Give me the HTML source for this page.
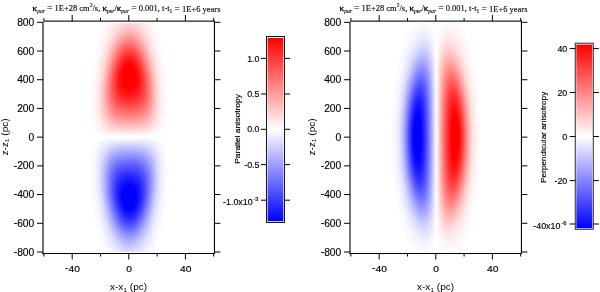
<!DOCTYPE html>
<html><head><meta charset="utf-8"><style>
html,body{margin:0;padding:0;background:#fff;width:600px;height:292px;overflow:hidden}
.hm{position:absolute;overflow:hidden;background:#fff;filter:url(#q) blur(0.45px)}
.hm i{position:absolute;left:0;width:100%;display:block}
svg{position:absolute;left:0;top:0;will-change:transform}
.tk{font-family:"Liberation Sans",sans-serif;font-size:10.3px;fill:#000;stroke:#000;stroke-width:0.15px}
.al{font-family:"Liberation Sans",sans-serif;font-size:10px;fill:#000}
.ct{font-family:"Liberation Sans",sans-serif;font-size:8.9px;fill:#000;stroke:#000;stroke-width:0.15px}
.cl{font-family:"Liberation Sans",sans-serif;font-size:7.5px;fill:#000;stroke:#000;stroke-width:0.15px}
.ti{font-family:"Liberation Serif",serif;font-size:8.48px;fill:#000;stroke:#000;stroke-width:0.12px}
.kp{stroke:#000;stroke-width:0.3px}
</style></head><body>
<svg width="0" height="0" style="position:absolute"><filter id="q" x="0" y="0" width="1" height="1" color-interpolation-filters="sRGB"><feComponentTransfer><feFuncR type="discrete" tableValues="0 0.02 0.04 0.06 0.08 0.1 0.12 0.14 0.16 0.18 0.2 0.22 0.24 0.26 0.28 0.3 0.32 0.34 0.36 0.38 0.4 0.42 0.44 0.46 0.48 0.5 0.52 0.54 0.56 0.58 0.6 0.62 0.64 0.66 0.68 0.7 0.72 0.74 0.76 0.78 0.8 0.82 0.84 0.86 0.88 0.9 0.92 0.94 0.96 0.98 1"/><feFuncG type="discrete" tableValues="0 0.02 0.04 0.06 0.08 0.1 0.12 0.14 0.16 0.18 0.2 0.22 0.24 0.26 0.28 0.3 0.32 0.34 0.36 0.38 0.4 0.42 0.44 0.46 0.48 0.5 0.52 0.54 0.56 0.58 0.6 0.62 0.64 0.66 0.68 0.7 0.72 0.74 0.76 0.78 0.8 0.82 0.84 0.86 0.88 0.9 0.92 0.94 0.96 0.98 1"/><feFuncB type="discrete" tableValues="0 0.02 0.04 0.06 0.08 0.1 0.12 0.14 0.16 0.18 0.2 0.22 0.24 0.26 0.28 0.3 0.32 0.34 0.36 0.38 0.4 0.42 0.44 0.46 0.48 0.5 0.52 0.54 0.56 0.58 0.6 0.62 0.64 0.66 0.68 0.7 0.72 0.74 0.76 0.78 0.8 0.82 0.84 0.86 0.88 0.9 0.92 0.94 0.96 0.98 1"/></feComponentTransfer></filter></svg>
<div class="hm" style="left:43.60px;top:23.00px;width:169.80px;height:229.00px"><i style="top:0.00px;height:1.00px;background:linear-gradient(90deg,#ffffff 0.0px,#fffdfd 56.3px,#fff3f3 66.0px,#ffd5d5 81.3px,#ffd3d3 87.5px,#ffe0e0 95.0px,#fff6f6 106.3px,#fffefe 116.8px,#ffffff 169.8px)"></i><i style="top:1.00px;height:1.00px;background:linear-gradient(90deg,#ffffff 0.0px,#fffdfd 56.0px,#fff3f3 65.5px,#ffd2d2 81.3px,#ffd0d0 87.3px,#ffdbdb 94.3px,#fff5f5 106.0px,#fffefe 116.0px,#ffffff 169.8px)"></i><i style="top:2.00px;height:1.00px;background:linear-gradient(90deg,#ffffff 0.0px,#fffdfd 55.5px,#fff4f4 64.8px,#ffcfcf 81.3px,#ffcccc 87.0px,#ffd8d8 93.8px,#fff4f4 105.8px,#fffdfd 115.3px,#ffffff 169.8px)"></i><i style="top:3.00px;height:1.00px;background:linear-gradient(90deg,#ffffff 0.0px,#fffdfd 55.3px,#fff4f4 64.3px,#ffdbdb 74.3px,#ffcbcb 81.8px,#ffc9c9 87.3px,#ffd5d5 93.8px,#fff3f3 105.5px,#fffdfd 114.5px,#ffffff 153.5px,#ffffff 169.8px)"></i><i style="top:4.00px;height:1.00px;background:linear-gradient(90deg,#ffffff 0.0px,#fffdfd 55.0px,#fff4f4 63.8px,#ffdede 72.5px,#ffc9c9 80.8px,#ffc5c5 86.3px,#ffcece 92.3px,#fff2f2 105.5px,#fffcfc 114.0px,#ffffff 140.3px,#ffffff 169.8px)"></i><i style="top:5.00px;height:1.00px;background:linear-gradient(90deg,#ffffff 0.0px,#fffdfd 54.5px,#fff4f4 63.3px,#ffdfdf 71.5px,#ffc6c6 80.3px,#ffc1c1 85.5px,#ffc8c8 91.0px,#fff2f2 105.8px,#fffcfc 114.0px,#ffffff 137.3px,#ffffff 169.8px)"></i><i style="top:6.00px;height:1.00px;background:linear-gradient(90deg,#ffffff 0.0px,#fffdfd 54.3px,#fff4f4 62.8px,#ffe0e0 70.5px,#ffc3c3 80.0px,#ffbdbd 85.3px,#ffc3c3 90.5px,#fff1f1 105.8px,#fffcfc 113.8px,#ffffff 133.3px,#ffffff 169.8px)"></i><i style="top:7.00px;height:1.00px;background:linear-gradient(90deg,#ffffff 0.0px,#fffdfd 54.0px,#fff4f4 62.5px,#ffe0e0 70.0px,#ffbfbf 79.8px,#ffb8b8 85.0px,#ffbebe 90.0px,#ffd6d6 97.8px,#fff0f0 106.0px,#fffbfb 113.8px,#ffffff 131.5px,#ffffff 169.8px)"></i><i style="top:8.00px;height:1.00px;background:linear-gradient(90deg,#ffffff 0.0px,#fffdfd 53.8px,#fff4f4 62.0px,#ffe1e1 69.0px,#ffbcbc 79.5px,#ffb4b4 84.5px,#ffb9b9 89.5px,#ffcece 96.3px,#ffeded 105.3px,#fffafa 112.5px,#ffffff 125.5px,#ffffff 169.8px)"></i><i style="top:9.00px;height:1.00px;background:linear-gradient(90deg,#ffffff 0.0px,#fffdfd 53.5px,#fff4f4 61.8px,#ffe1e1 68.5px,#ffb8b8 79.5px,#ffb0b0 84.5px,#ffb4b4 89.3px,#ffc8c8 95.5px,#ffebeb 104.8px,#fff9f9 111.8px,#ffffff 122.8px,#ffffff 169.8px)"></i><i style="top:10.00px;height:1.00px;background:linear-gradient(90deg,#ffffff 0.0px,#fffdfd 53.3px,#fff4f4 61.3px,#ffe2e2 67.8px,#ffb4b4 79.3px,#ffabab 84.0px,#ffaeae 88.5px,#ffbebe 94.0px,#ffe9e9 104.8px,#fff8f8 111.5px,#fffefe 121.8px,#ffffff 169.8px)"></i><i style="top:11.00px;height:1.00px;background:linear-gradient(90deg,#ffffff 0.0px,#fffdfd 52.8px,#fff4f4 60.8px,#ffe3e3 67.0px,#ffb0b0 79.3px,#ffa6a6 84.0px,#ffa9a9 88.5px,#ffb9b9 93.8px,#ffe7e7 104.5px,#fff7f7 111.0px,#fffefe 120.3px,#ffffff 169.8px)"></i><i style="top:12.00px;height:1.00px;background:linear-gradient(90deg,#ffffff 0.0px,#fffdfd 52.5px,#fff4f4 60.5px,#ffe2e2 66.8px,#ffabab 79.3px,#ffa1a1 83.8px,#ffa3a3 88.0px,#ffb2b2 93.0px,#ffe6e6 104.8px,#fff6f6 111.0px,#fffefe 119.8px,#ffffff 169.8px)"></i><i style="top:13.00px;height:1.00px;background:linear-gradient(90deg,#ffffff 0.0px,#fffdfd 52.3px,#fff5f5 60.0px,#ffe3e3 66.0px,#ffa7a7 79.0px,#ff9c9c 83.5px,#ff9e9e 87.8px,#ffacac 92.5px,#ffe5e5 104.8px,#fff5f5 110.8px,#fffdfd 119.0px,#ffffff 169.8px)"></i><i style="top:14.00px;height:1.00px;background:linear-gradient(90deg,#ffffff 0.0px,#fffdfd 52.0px,#fff4f4 59.8px,#ffe2e2 65.8px,#ffb7b7 74.5px,#ff9f9f 80.0px,#ff9696 84.3px,#ff9a9a 88.5px,#ffaaaa 93.3px,#ffe2e2 104.5px,#fff4f4 110.3px,#fffdfd 117.8px,#ffffff 155.5px,#ffffff 169.8px)"></i><i style="top:15.00px;height:1.00px;background:linear-gradient(90deg,#ffffff 0.0px,#fffdfd 51.8px,#fff4f4 59.5px,#ffe3e3 65.3px,#ffbebe 72.5px,#ff9d9d 79.0px,#ff9292 83.3px,#ff9292 87.3px,#ff9f9f 91.8px,#ffc9c9 99.8px,#ffe6e6 106.0px,#fff6f6 111.8px,#fffefe 120.0px,#ffffff 169.8px)"></i><i style="top:16.00px;height:1.00px;background:linear-gradient(90deg,#ffffff 0.0px,#fffdfd 51.5px,#fff5f5 59.0px,#ffe3e3 64.8px,#ffc2c2 71.3px,#ff9a9a 78.5px,#ff8d8d 82.8px,#ff8c8c 86.8px,#ff9797 91.0px,#ffb5b5 97.0px,#ffe0e0 104.8px,#fff2f2 110.3px,#fffcfc 117.3px,#ffffff 139.5px,#ffffff 169.8px)"></i><i style="top:17.00px;height:1.00px;background:linear-gradient(90deg,#ffffff 0.0px,#fffdfd 51.3px,#fff5f5 58.8px,#ffe4e4 64.3px,#ffc4c4 70.3px,#ff9696 78.3px,#ff8888 82.5px,#ff8686 86.5px,#ff8f8f 90.5px,#ffaaaa 95.8px,#ffdbdb 104.3px,#fff0f0 109.8px,#fffbfb 116.3px,#ffffff 131.3px,#ffffff 169.8px)"></i><i style="top:18.00px;height:1.00px;background:linear-gradient(90deg,#ffffff 0.0px,#fffdfd 51.0px,#fff4f4 58.5px,#ffe3e3 64.0px,#ffc4c4 69.8px,#ff9292 78.0px,#ff8383 82.3px,#ff8080 86.0px,#ff8888 90.0px,#ff9f9f 94.8px,#ffd9d9 104.3px,#ffeeee 109.5px,#fffafa 115.8px,#ffffff 128.5px,#ffffff 169.8px)"></i><i style="top:19.00px;height:1.00px;background:linear-gradient(90deg,#ffffff 0.0px,#fffdfd 50.8px,#fff5f5 58.0px,#ffe5e5 63.3px,#ffc8c8 68.8px,#ff8e8e 77.8px,#ff7d7d 82.0px,#ff7979 85.8px,#ff8181 89.5px,#ff9696 94.0px,#ffd8d8 104.5px,#ffeeee 109.8px,#fffafa 115.8px,#ffffff 127.8px,#ffffff 169.8px)"></i><i style="top:20.00px;height:1.00px;background:linear-gradient(90deg,#ffffff 0.0px,#fffdfd 50.8px,#fff4f4 58.0px,#ffe3e3 63.3px,#ffc6c6 68.5px,#ff8a8a 77.5px,#ff7878 81.8px,#ff7373 85.5px,#ff7a7a 89.3px,#ff8e8e 93.5px,#ffd6d6 104.5px,#ffeded 109.5px,#fff9f9 115.3px,#ffffff 125.8px,#ffffff 169.8px)"></i><i style="top:21.00px;height:1.00px;background:linear-gradient(90deg,#ffffff 0.0px,#fffdfd 50.5px,#fff4f4 57.8px,#ffe3e3 63.0px,#ffc5c5 68.3px,#ff8585 77.5px,#ff7373 81.5px,#ff6d6d 85.3px,#ff7373 89.0px,#ff8787 93.3px,#ffd6d6 104.8px,#ffecec 109.8px,#fff9f9 115.5px,#ffffff 125.8px,#ffffff 169.8px)"></i><i style="top:22.00px;height:1.00px;background:linear-gradient(90deg,#ffffff 0.0px,#fffdfd 50.3px,#fff5f5 57.3px,#ffe5e5 62.3px,#ffc9c9 67.3px,#ff8181 77.3px,#ff6e6e 81.3px,#ff6767 85.0px,#ff6d6d 88.8px,#ff7f7f 92.8px,#ffadad 99.3px,#ffd6d6 105.3px,#ffecec 110.0px,#fff9f9 115.8px,#ffffff 126.0px,#ffffff 169.8px)"></i><i style="top:23.00px;height:1.00px;background:linear-gradient(90deg,#ffffff 0.0px,#fffdfd 50.0px,#fff5f5 57.0px,#ffe4e4 62.0px,#ffcaca 66.8px,#ff7b7b 77.3px,#ff6868 81.3px,#ff6161 85.0px,#ff6666 88.5px,#ff7878 92.5px,#ffa1a1 98.3px,#ffd1d1 104.8px,#ffe9e9 109.5px,#fff7f7 114.8px,#fffefe 123.3px,#ffffff 169.8px)"></i><i style="top:24.00px;height:1.00px;background:linear-gradient(90deg,#ffffff 0.0px,#fffdfd 49.8px,#fff5f5 56.8px,#ffe4e4 61.8px,#ffc9c9 66.5px,#ff7878 77.0px,#ff6363 81.0px,#ff5b5b 84.5px,#ff5f5f 88.0px,#ff6e6e 91.8px,#ff8f8f 96.5px,#ffcdcd 104.5px,#ffe7e7 109.3px,#fff6f6 114.3px,#fffefe 122.0px,#ffffff 169.8px)"></i><i style="top:25.00px;height:1.00px;background:linear-gradient(90deg,#ffffff 0.0px,#fffdfd 49.5px,#fff5f5 56.5px,#ffe4e4 61.5px,#ffc9c9 66.0px,#ff7272 77.0px,#ff5d5d 81.0px,#ff5555 84.5px,#ff5858 88.0px,#ff6868 91.8px,#ff8a8a 96.5px,#ffcbcb 104.5px,#ffe5e5 109.0px,#fff5f5 114.0px,#fffdfd 121.3px,#ffffff 169.8px)"></i><i style="top:26.00px;height:1.00px;background:linear-gradient(90deg,#ffffff 0.0px,#fffdfd 49.5px,#fff5f5 56.3px,#ffe5e5 61.0px,#ffcbcb 65.5px,#ff8e8e 72.8px,#ff6868 77.8px,#ff5555 81.5px,#ff4f4f 85.0px,#ff5454 88.5px,#ff6565 92.3px,#ff8989 97.0px,#ffcaca 104.8px,#ffe4e4 109.3px,#fff4f4 114.0px,#fffdfd 121.0px,#ffffff 169.8px)"></i><i style="top:27.00px;height:1.00px;background:linear-gradient(90deg,#ffffff 0.0px,#fffdfd 49.3px,#fff5f5 56.0px,#ffe5e5 60.8px,#ffcaca 65.3px,#ff9393 71.8px,#ff6565 77.3px,#ff5151 81.0px,#ff4949 84.5px,#ff4c4c 88.0px,#ff5d5d 91.8px,#ff7e7e 96.3px,#ffc7c7 104.8px,#ffe3e3 109.3px,#fff4f4 114.0px,#fffdfd 120.8px,#ffffff 158.5px,#ffffff 169.8px)"></i><i style="top:28.00px;height:1.00px;background:linear-gradient(90deg,#ffffff 0.0px,#fffdfd 49.0px,#fff5f5 55.8px,#ffe5e5 60.5px,#ffcbcb 64.8px,#ff9a9a 70.5px,#ff6565 76.5px,#ff4e4e 80.3px,#ff4444 83.8px,#ff4545 87.3px,#ff5252 90.8px,#ff6c6c 94.8px,#ffc7c7 105.0px,#ffe2e2 109.3px,#fff3f3 113.8px,#fffcfc 120.0px,#ffffff 141.5px,#ffffff 169.8px)"></i><i style="top:29.00px;height:1.00px;background:linear-gradient(90deg,#ffffff 0.0px,#fffdfd 48.8px,#fff5f5 55.5px,#ffe5e5 60.3px,#ffcbcb 64.5px,#ff9a9a 70.0px,#ff6262 76.3px,#ff4a4a 80.0px,#ff3e3e 83.5px,#ff3e3e 87.0px,#ff4b4b 90.5px,#ff6565 94.5px,#ffc6c6 105.3px,#ffe2e2 109.5px,#fff3f3 114.0px,#fffcfc 120.3px,#ffffff 142.3px,#ffffff 169.8px)"></i><i style="top:30.00px;height:1.00px;background:linear-gradient(90deg,#ffffff 0.0px,#fffdfd 48.8px,#fff4f4 55.5px,#ffe4e4 60.0px,#ffcaca 64.3px,#ff9b9b 69.5px,#ff5f5f 76.0px,#ff4545 79.8px,#ff3939 83.3px,#ff3838 86.8px,#ff4444 90.3px,#ff5c5c 94.0px,#ff9191 99.8px,#ffc5c5 105.5px,#ffe2e2 109.8px,#fff3f3 114.3px,#fffcfc 120.5px,#ffffff 143.0px,#ffffff 169.8px)"></i><i style="top:31.00px;height:1.00px;background:linear-gradient(90deg,#ffffff 0.0px,#fffdfd 48.5px,#fff4f4 55.3px,#ffe4e4 59.8px,#ffcccc 63.8px,#ff9f9f 68.8px,#ff5e5e 75.5px,#ff4141 79.5px,#ff3434 83.0px,#ff3232 86.5px,#ff3d3d 90.0px,#ff5555 93.8px,#ff8585 99.0px,#ffc1c1 105.3px,#ffdfdf 109.5px,#fff1f1 113.8px,#fffbfb 119.5px,#ffffff 134.0px,#ffffff 169.8px)"></i><i style="top:32.00px;height:1.00px;background:linear-gradient(90deg,#ffffff 0.0px,#fffdfd 48.3px,#fff4f4 55.0px,#ffe5e5 59.5px,#ffcbcb 63.5px,#ffa0a0 68.3px,#ff5959 75.5px,#ff3d3d 79.3px,#ff2f2f 82.8px,#ff2c2c 86.0px,#ff3535 89.5px,#ff4c4c 93.3px,#ff7474 97.8px,#ffbebe 105.3px,#ffdcdc 109.3px,#ffefef 113.5px,#fffbfb 119.0px,#ffffff 131.0px,#ffffff 169.8px)"></i><i style="top:33.00px;height:1.00px;background:linear-gradient(90deg,#ffffff 0.0px,#fffdfd 48.0px,#fff5f5 54.8px,#ffe5e5 59.3px,#ffcbcb 63.3px,#ff9f9f 68.0px,#ff5656 75.3px,#ff3a3a 79.0px,#ff2a2a 82.5px,#ff2727 85.8px,#ff2f2f 89.3px,#ff4343 92.8px,#ff6868 97.0px,#ffbcbc 105.3px,#ffdada 109.3px,#ffefef 113.5px,#fffafa 118.8px,#ffffff 129.8px,#ffffff 169.8px)"></i><i style="top:34.00px;height:1.00px;background:linear-gradient(90deg,#ffffff 0.0px,#fffdfd 48.0px,#fff5f5 54.5px,#ffe5e5 59.0px,#ffcbcb 63.0px,#ffa1a1 67.5px,#ff5353 75.0px,#ff3636 78.8px,#ff2626 82.3px,#ff2222 85.5px,#ff2929 89.0px,#ff3c3c 92.5px,#ff5e5e 96.5px,#ffbbbb 105.5px,#ffdada 109.5px,#ffeeee 113.5px,#fffafa 118.8px,#ffffff 129.3px,#ffffff 169.8px)"></i><i style="top:35.00px;height:1.00px;background:linear-gradient(90deg,#ffffff 0.0px,#fffdfd 47.8px,#fff5f5 54.3px,#ffe5e5 58.8px,#ffcbcb 62.8px,#ffa0a0 67.3px,#ff5151 74.8px,#ff3333 78.5px,#ff2222 82.0px,#ff1d1d 85.3px,#ff2323 88.8px,#ff3535 92.3px,#ff5757 96.3px,#ffbbbb 105.8px,#ffdada 109.8px,#ffeeee 113.8px,#fffafa 119.0px,#ffffff 129.5px,#ffffff 169.8px)"></i><i style="top:36.00px;height:1.00px;background:linear-gradient(90deg,#ffffff 0.0px,#fffdfd 47.8px,#fff4f4 54.3px,#ffe5e5 58.5px,#ffcdcd 62.3px,#ffa5a5 66.5px,#ff4f4f 74.5px,#ff3030 78.3px,#ff1e1e 81.8px,#ff1818 85.3px,#ff1e1e 88.8px,#ff3131 92.3px,#ff5252 96.3px,#ffbbbb 106.0px,#ffdada 110.0px,#ffeeee 114.0px,#fffafa 119.3px,#ffffff 130.0px,#ffffff 169.8px)"></i><i style="top:37.00px;height:1.00px;background:linear-gradient(90deg,#ffffff 0.0px,#fffdfd 47.5px,#fff4f4 54.0px,#ffe5e5 58.3px,#ffcdcd 62.0px,#ffa5a5 66.3px,#ff4a4a 74.5px,#ff2b2b 78.3px,#ff1919 81.8px,#ff1414 85.3px,#ff1a1a 88.8px,#ff2c2c 92.3px,#ff4c4c 96.0px,#ffbbbb 106.3px,#ffd9d9 110.0px,#ffeded 114.0px,#fff9f9 119.0px,#ffffff 128.8px,#ffffff 169.8px)"></i><i style="top:38.00px;height:1.00px;background:linear-gradient(90deg,#ffffff 0.0px,#fffdfd 47.3px,#fff5f5 53.8px,#ffe5e5 58.0px,#ffcdcd 61.8px,#ffa7a7 65.8px,#ff4848 74.3px,#ff2929 78.0px,#ff1616 81.5px,#ff0f0f 85.0px,#ff1515 88.5px,#ff2626 92.0px,#ff4545 95.8px,#ff8484 101.5px,#ffbdbd 106.8px,#ffdbdb 110.5px,#ffeeee 114.5px,#fffafa 119.8px,#ffffff 130.8px,#ffffff 169.8px)"></i><i style="top:39.00px;height:1.00px;background:linear-gradient(90deg,#ffffff 0.0px,#fffdfd 47.3px,#fff5f5 53.5px,#ffe6e6 57.8px,#ffcdcd 61.5px,#ffa7a7 65.5px,#ff4747 74.0px,#ff2626 77.8px,#ff1313 81.3px,#ff0b0b 84.8px,#ff1010 88.3px,#ff2020 91.8px,#ff3e3e 95.5px,#ff7575 100.5px,#ffb6b6 106.3px,#ffd6d6 110.0px,#ffebeb 113.8px,#fff8f8 118.5px,#fffefe 126.8px,#ffffff 169.8px)"></i><i style="top:40.00px;height:1.00px;background:linear-gradient(90deg,#ffffff 0.0px,#fffdfd 47.0px,#fff5f5 53.3px,#ffe6e6 57.5px,#ffcdcd 61.3px,#ffa7a7 65.3px,#ff4545 73.8px,#ff2424 77.5px,#ff1010 81.0px,#ff0808 84.5px,#ff0b0b 88.0px,#ff1b1b 91.5px,#ff3838 95.3px,#ff6b6b 100.0px,#ffb6b6 106.5px,#ffd6d6 110.3px,#ffebeb 114.0px,#fff8f8 118.8px,#fffefe 127.3px,#ffffff 169.8px)"></i><i style="top:41.00px;height:1.00px;background:linear-gradient(90deg,#ffffff 0.0px,#fffdfd 47.0px,#fff5f5 53.3px,#ffe5e5 57.5px,#ffcccc 61.3px,#ffa4a4 65.3px,#ff4444 73.5px,#ff2222 77.3px,#ff0e0e 80.8px,#ff0505 84.3px,#ff0707 87.8px,#ff1616 91.3px,#ff3030 94.8px,#ff5c5c 99.0px,#ffb3b3 106.5px,#ffd5d5 110.3px,#ffeaea 114.0px,#fff8f8 118.5px,#fffefe 126.3px,#ffffff 169.8px)"></i><i style="top:42.00px;height:1.00px;background:linear-gradient(90deg,#ffffff 0.0px,#fffdfd 46.8px,#fff5f5 53.0px,#ffe5e5 57.3px,#ffcccc 61.0px,#ffa4a4 65.0px,#ff4040 73.5px,#ff1f1f 77.3px,#ff0a0a 80.8px,#ff0101 84.3px,#ff0404 87.8px,#ff1212 91.3px,#ff2c2c 94.8px,#ff5858 99.0px,#ffb4b4 106.8px,#ffd5d5 110.5px,#ffebeb 114.3px,#fff8f8 119.0px,#fffefe 127.3px,#ffffff 169.8px)"></i><i style="top:43.00px;height:1.00px;background:linear-gradient(90deg,#ffffff 0.0px,#fffdfd 46.8px,#fff4f4 53.0px,#ffe4e4 57.3px,#ffcdcd 60.8px,#ffa7a7 64.5px,#ff4040 73.3px,#ff1d1d 77.0px,#ff0808 80.5px,#ff0000 83.5px,#ff0202 88.0px,#ff1111 91.5px,#ff2b2b 95.0px,#ff5858 99.3px,#ffb1b1 106.8px,#ffd4d4 110.5px,#ffeaea 114.3px,#fff8f8 118.8px,#fffefe 126.5px,#ffffff 169.8px)"></i><i style="top:44.00px;height:1.00px;background:linear-gradient(90deg,#ffffff 0.0px,#fffdfd 46.5px,#fff5f5 52.8px,#ffe5e5 57.0px,#ffcdcd 60.5px,#ffa8a8 64.3px,#ff3f3f 73.0px,#ff1c1c 76.8px,#ff0707 80.3px,#ff0000 82.5px,#ff0101 88.8px,#ff1212 92.3px,#ff3131 96.0px,#ff6363 100.5px,#ffb2b2 107.0px,#ffd4d4 110.8px,#ffeaea 114.5px,#fff8f8 119.0px,#fffefe 126.8px,#ffffff 169.8px)"></i><i style="top:45.00px;height:1.00px;background:linear-gradient(90deg,#ffffff 0.0px,#fffdfd 46.5px,#fff4f4 52.8px,#ffe5e5 56.8px,#ffcece 60.3px,#ffa8a8 64.0px,#ff3e3e 72.8px,#ff1b1b 76.5px,#ff0505 80.0px,#ff0000 81.8px,#ff0202 89.5px,#ff1515 93.0px,#ff3636 96.8px,#ff7070 101.8px,#ffb2b2 107.3px,#ffd5d5 111.0px,#ffebeb 114.8px,#fff8f8 119.3px,#fffefe 127.3px,#ffffff 169.8px)"></i><i style="top:46.00px;height:1.00px;background:linear-gradient(90deg,#ffffff 0.0px,#fffdfd 46.3px,#fff5f5 52.5px,#ffe6e6 56.5px,#ffcece 60.0px,#ffa9a9 63.8px,#ff3c3c 72.8px,#ff1919 76.5px,#ff0303 80.0px,#ff0000 81.5px,#ff0101 90.0px,#ff1616 93.5px,#ff3838 97.3px,#ff7676 102.5px,#ffb6b6 107.8px,#ffd5d5 111.3px,#ffebeb 115.0px,#fff8f8 119.5px,#fffefe 127.5px,#ffffff 169.8px)"></i><i style="top:47.00px;height:1.00px;background:linear-gradient(90deg,#ffffff 0.0px,#fffdfd 46.3px,#fff5f5 52.3px,#ffe6e6 56.3px,#ffcfcf 59.8px,#ffaaaa 63.5px,#ff3c3c 72.5px,#ff1818 76.3px,#ff0202 79.8px,#ff0000 81.5px,#ff0202 90.5px,#ff1717 94.0px,#ff3a3a 97.8px,#ff8181 103.5px,#ffb9b9 108.3px,#ffd8d8 111.8px,#ffeded 115.5px,#fff9f9 120.3px,#ffffff 129.3px,#ffffff 169.8px)"></i><i style="top:48.00px;height:1.00px;background:linear-gradient(90deg,#ffffff 0.0px,#fffdfd 46.0px,#fff5f5 52.3px,#ffe5e5 56.3px,#ffcdcd 59.8px,#ffa7a7 63.5px,#ff3c3c 72.3px,#ff1818 76.0px,#ff0202 79.5px,#ff0101 90.8px,#ff1717 94.3px,#ff3b3b 98.0px,#ff8181 103.8px,#ffbaba 108.5px,#ffd8d8 112.0px,#ffeded 115.8px,#fff9f9 120.5px,#ffffff 129.8px,#ffffff 169.8px)"></i><i style="top:49.00px;height:1.00px;background:linear-gradient(90deg,#ffffff 0.0px,#fffdfd 46.0px,#fff5f5 52.0px,#ffe6e6 56.0px,#ffcece 59.5px,#ffa8a8 63.3px,#ff3c3c 72.0px,#ff1818 75.8px,#ff0101 79.3px,#ff0101 91.0px,#ff1717 94.5px,#ff3b3b 98.3px,#ff8585 104.3px,#ffbaba 108.8px,#ffd9d9 112.3px,#ffeded 116.0px,#fffafa 120.8px,#ffffff 130.3px,#ffffff 169.8px)"></i><i style="top:50.00px;height:1.00px;background:linear-gradient(90deg,#ffffff 0.0px,#fffdfd 45.8px,#fff5f5 52.0px,#ffe5e5 56.0px,#ffcdcd 59.5px,#ffa6a6 63.3px,#ff3d3d 71.8px,#ff1818 75.5px,#ff0000 79.3px,#ff0101 91.3px,#ff1a1a 95.0px,#ff3e3e 98.8px,#ffb3b3 108.3px,#ffd4d4 111.8px,#ffeaea 115.3px,#fff8f8 119.8px,#fffefe 127.3px,#ffffff 169.8px)"></i><i style="top:51.00px;height:1.00px;background:linear-gradient(90deg,#ffffff 0.0px,#fffdfd 45.8px,#fff5f5 51.8px,#ffe6e6 55.8px,#ffcece 59.3px,#ffa7a7 63.0px,#ff3e3e 71.5px,#ff1919 75.3px,#ff0000 79.0px,#ff0101 91.5px,#ff1a1a 95.3px,#ff3f3f 99.0px,#ffb4b4 108.5px,#ffd5d5 112.0px,#ffeaea 115.5px,#fff8f8 120.0px,#fffefe 127.8px,#ffffff 169.8px)"></i><i style="top:52.00px;height:1.00px;background:linear-gradient(90deg,#ffffff 0.0px,#fffdfd 45.5px,#fff5f5 51.5px,#ffe6e6 55.5px,#ffcfcf 59.0px,#ffabab 62.5px,#ff3c3c 71.5px,#ff1818 75.3px,#ff0101 78.8px,#ff0000 91.5px,#ff1919 95.3px,#ff3e3e 99.0px,#ffb6b6 108.8px,#ffd6d6 112.3px,#ffebeb 115.8px,#fff8f8 120.3px,#fffefe 128.3px,#ffffff 169.8px)"></i><i style="top:53.00px;height:1.00px;background:linear-gradient(90deg,#ffffff 0.0px,#fffdfd 45.5px,#fff5f5 51.5px,#ffe6e6 55.5px,#ffcece 59.0px,#ffa7a7 62.8px,#ff3d3d 71.3px,#ff1919 75.0px,#ff0000 78.8px,#ff0101 91.8px,#ff1a1a 95.5px,#ff3f3f 99.3px,#ffb4b4 108.8px,#ffd5d5 112.3px,#ffeaea 115.8px,#fff8f8 120.3px,#fffefe 128.0px,#ffffff 169.8px)"></i><i style="top:54.00px;height:1.00px;background:linear-gradient(90deg,#ffffff 0.0px,#fffdfd 45.5px,#fff5f5 51.5px,#ffe5e5 55.5px,#ffcdcd 59.0px,#ffa5a5 62.8px,#ff3e3e 71.0px,#ff1a1a 74.8px,#ff0101 78.5px,#ff0101 91.8px,#ff1919 95.5px,#ff3d3d 99.3px,#ff8585 105.0px,#ffbbbb 109.5px,#ffdada 113.0px,#ffeded 116.5px,#fff9f9 121.0px,#ffffff 129.8px,#ffffff 169.8px)"></i><i style="top:55.00px;height:1.00px;background:linear-gradient(90deg,#ffffff 0.0px,#fffdfd 45.3px,#fff5f5 51.3px,#ffe6e6 55.3px,#ffcece 58.8px,#ffa7a7 62.5px,#ff4040 70.8px,#ff1c1c 74.5px,#ff0303 78.3px,#ff0000 79.5px,#ff0101 91.8px,#ff1919 95.5px,#ff3c3c 99.3px,#ff8080 104.8px,#ffb9b9 109.5px,#ffd9d9 113.0px,#ffeded 116.5px,#fff9f9 121.0px,#ffffff 129.5px,#ffffff 169.8px)"></i><i style="top:56.00px;height:1.00px;background:linear-gradient(90deg,#ffffff 0.0px,#fffdfd 45.3px,#fff5f5 51.3px,#ffe5e5 55.3px,#ffcdcd 58.8px,#ffa5a5 62.5px,#ff4242 70.5px,#ff1d1d 74.3px,#ff0404 78.0px,#ff0000 79.3px,#ff0101 91.8px,#ff1818 95.5px,#ff3b3b 99.3px,#ff7878 104.3px,#ffb5b5 109.3px,#ffd6d6 112.8px,#ffebeb 116.3px,#fff8f8 120.8px,#fffefe 128.8px,#ffffff 169.8px)"></i><i style="top:57.00px;height:1.00px;background:linear-gradient(90deg,#ffffff 0.0px,#fffdfd 45.3px,#fff5f5 51.3px,#ffe5e5 55.3px,#ffcccc 58.8px,#ffa4a4 62.5px,#ff4444 70.3px,#ff1f1f 74.0px,#ff0606 77.8px,#ff0000 79.3px,#ff0101 91.5px,#ff1616 95.3px,#ff3838 99.0px,#ff7070 103.8px,#ffb4b4 109.3px,#ffd5d5 112.8px,#ffebeb 116.3px,#fff8f8 120.5px,#fffefe 128.0px,#ffffff 169.8px)"></i><i style="top:58.00px;height:1.00px;background:linear-gradient(90deg,#ffffff 0.0px,#fffdfd 45.0px,#fff5f5 51.0px,#ffe6e6 55.0px,#ffcdcd 58.5px,#ffa6a6 62.3px,#ff4343 70.3px,#ff1f1f 74.0px,#ff0707 77.8px,#ff0000 79.5px,#ff0101 91.5px,#ff1717 95.3px,#ff3737 99.0px,#ff6c6c 103.5px,#ffb6b6 109.5px,#ffd6d6 113.0px,#ffebeb 116.5px,#fff8f8 121.0px,#fffefe 129.0px,#ffffff 169.8px)"></i><i style="top:59.00px;height:1.00px;background:linear-gradient(90deg,#ffffff 0.0px,#fffdfd 45.0px,#fff5f5 51.0px,#ffe5e5 55.0px,#ffcccc 58.5px,#ffa5a5 62.3px,#ff4545 70.0px,#ff2121 73.8px,#ff0909 77.5px,#ff0000 79.8px,#ff0101 91.3px,#ff1717 95.3px,#ff3737 99.0px,#ff6b6b 103.5px,#ffb5b5 109.5px,#ffd6d6 113.0px,#ffebeb 116.5px,#fff8f8 120.8px,#fffefe 128.3px,#ffffff 169.8px)"></i><i style="top:60.00px;height:1.00px;background:linear-gradient(90deg,#ffffff 0.0px,#fffdfd 45.0px,#fff5f5 51.0px,#ffe5e5 55.0px,#ffcbcb 58.5px,#ffa3a3 62.3px,#ff4848 69.8px,#ff2424 73.5px,#ff0b0b 77.3px,#ff0000 80.3px,#ff0101 90.8px,#ff1515 94.8px,#ff3232 98.5px,#ff6060 102.8px,#ffb6b6 109.8px,#ffd7d7 113.3px,#ffecec 116.8px,#fff9f9 121.3px,#fffefe 129.5px,#ffffff 169.8px)"></i><i style="top:61.00px;height:1.00px;background:linear-gradient(90deg,#ffffff 0.0px,#fffdfd 45.0px,#fff4f4 51.0px,#ffe4e4 55.0px,#ffcbcb 58.5px,#ffa3a3 62.3px,#ff4a4a 69.5px,#ff2626 73.3px,#ff0e0e 77.0px,#ff0000 80.5px,#ff0101 90.3px,#ff1313 94.3px,#ff2e2e 98.0px,#ff5757 102.0px,#ffb8b8 110.0px,#ffd8d8 113.5px,#ffecec 117.0px,#fff9f9 121.5px,#ffffff 130.0px,#ffffff 169.8px)"></i><i style="top:62.00px;height:1.00px;background:linear-gradient(90deg,#ffffff 0.0px,#fffdfd 44.8px,#fff5f5 50.8px,#ffe5e5 54.8px,#ffcccc 58.3px,#ffa5a5 62.0px,#ff4a4a 69.5px,#ff2727 73.3px,#ff0e0e 77.3px,#ff0000 81.3px,#ff0101 89.8px,#ff1212 94.0px,#ff2c2c 97.8px,#ff5454 101.8px,#ffbaba 110.3px,#ffd9d9 113.8px,#ffeded 117.3px,#fff9f9 121.8px,#ffffff 130.5px,#ffffff 169.8px)"></i><i style="top:63.00px;height:1.00px;background:linear-gradient(90deg,#ffffff 0.0px,#fffdfd 44.8px,#fff5f5 50.8px,#ffe5e5 54.8px,#ffcbcb 58.3px,#ffa1a1 62.3px,#ff4d4d 69.3px,#ff2a2a 73.0px,#ff1111 77.0px,#ff0202 81.3px,#ff0000 86.0px,#ff0202 89.3px,#ff1212 93.5px,#ff2b2b 97.5px,#ff5151 101.5px,#ffbcbc 110.5px,#ffdbdb 114.0px,#ffeeee 117.5px,#fffafa 122.3px,#ffffff 132.0px,#ffffff 169.8px)"></i><i style="top:64.00px;height:1.00px;background:linear-gradient(90deg,#ffffff 0.0px,#fffdfd 44.8px,#fff5f5 50.8px,#ffe4e4 54.8px,#ffcbcb 58.3px,#ffa0a0 62.3px,#ff5050 69.0px,#ff2b2b 73.0px,#ff1313 77.0px,#ff0404 81.3px,#ff0101 86.0px,#ff0808 90.5px,#ff1a1a 94.8px,#ff3434 98.5px,#ff5c5c 102.5px,#ffbbbb 110.5px,#ffdada 114.0px,#ffeeee 117.5px,#fff9f9 122.0px,#ffffff 131.0px,#ffffff 169.8px)"></i><i style="top:65.00px;height:1.00px;background:linear-gradient(90deg,#ffffff 0.0px,#fffdfd 44.8px,#fff5f5 50.5px,#ffe5e5 54.5px,#ffcdcd 58.0px,#ffa3a3 62.0px,#ff5050 69.0px,#ff2d2d 73.0px,#ff1515 77.0px,#ff0707 81.5px,#ff0303 86.3px,#ff0c0c 91.0px,#ff1f1f 95.3px,#ff3c3c 99.3px,#ff6868 103.5px,#ffbbbb 110.5px,#ffdada 114.0px,#ffeded 117.5px,#fff9f9 122.0px,#ffffff 130.8px,#ffffff 169.8px)"></i><i style="top:66.00px;height:1.00px;background:linear-gradient(90deg,#ffffff 0.0px,#fffdfd 44.5px,#fff5f5 50.5px,#ffe5e5 54.5px,#ffcccc 58.0px,#ffa2a2 62.0px,#ff5353 68.8px,#ff3030 72.8px,#ff1818 76.8px,#ff0a0a 81.3px,#ff0606 86.3px,#ff0e0e 91.0px,#ff2121 95.3px,#ff3d3d 99.3px,#ff6868 103.5px,#ffbdbd 110.8px,#ffdbdb 114.3px,#ffeeee 117.8px,#fffafa 122.5px,#ffffff 132.3px,#ffffff 169.8px)"></i><i style="top:67.00px;height:1.00px;background:linear-gradient(90deg,#ffffff 0.0px,#fffdfd 44.5px,#fff5f5 50.5px,#ffe5e5 54.5px,#ffcccc 58.0px,#ffa2a2 62.0px,#ff5757 68.5px,#ff3333 72.5px,#ff1c1c 76.5px,#ff0d0d 81.0px,#ff0909 86.0px,#ff1111 90.8px,#ff2121 95.0px,#ff3c3c 99.0px,#ff6363 103.0px,#ffbfbf 111.0px,#ffdddd 114.5px,#fff0f0 118.3px,#fffbfb 123.3px,#ffffff 135.0px,#ffffff 169.8px)"></i><i style="top:68.00px;height:1.00px;background:linear-gradient(90deg,#ffffff 0.0px,#fffdfd 44.5px,#fff5f5 50.5px,#ffe5e5 54.5px,#ffcbcb 58.0px,#ff9f9f 62.3px,#ff5858 68.5px,#ff3535 72.5px,#ff1e1e 76.5px,#ff1010 81.0px,#ff0d0d 86.0px,#ff1414 91.0px,#ff2626 95.5px,#ff4242 99.5px,#ff6c6c 103.8px,#ffbfbf 111.0px,#ffdcdc 114.5px,#fff0f0 118.3px,#fffbfb 123.0px,#ffffff 133.8px,#ffffff 169.8px)"></i><i style="top:69.00px;height:1.00px;background:linear-gradient(90deg,#ffffff 0.0px,#fffdfd 44.5px,#fff5f5 50.5px,#ffe4e4 54.5px,#ffcbcb 58.0px,#ff9f9f 62.3px,#ff5b5b 68.3px,#ff3939 72.3px,#ff2121 76.5px,#ff1313 81.3px,#ff1010 86.5px,#ff1919 91.5px,#ff2c2c 96.0px,#ff4848 100.0px,#ff7272 104.3px,#ffc1c1 111.3px,#ffdede 114.8px,#fff0f0 118.5px,#fffbfb 123.5px,#ffffff 136.0px,#ffffff 169.8px)"></i><i style="top:70.00px;height:1.00px;background:linear-gradient(90deg,#ffffff 0.0px,#fffdfd 44.5px,#fff5f5 50.3px,#ffe6e6 54.3px,#ffcdcd 57.8px,#ffa2a2 62.0px,#ff5c5c 68.3px,#ff3b3b 72.3px,#ff2424 76.5px,#ff1717 81.3px,#ff1414 86.5px,#ff1c1c 91.5px,#ff2e2e 96.0px,#ff4a4a 100.0px,#ff7373 104.3px,#ffc1c1 111.3px,#ffdddd 114.8px,#fff0f0 118.5px,#fffbfb 123.5px,#ffffff 135.8px,#ffffff 169.8px)"></i><i style="top:71.00px;height:1.00px;background:linear-gradient(90deg,#ffffff 0.0px,#fffdfd 44.5px,#fff5f5 50.3px,#ffe5e5 54.3px,#ffcdcd 57.8px,#ffa2a2 62.0px,#ff6060 68.0px,#ff3f3f 72.0px,#ff2828 76.3px,#ff1b1b 81.0px,#ff1717 86.5px,#ff2020 91.8px,#ff3232 96.3px,#ff4d4d 100.3px,#ff7676 104.5px,#ffc3c3 111.5px,#ffdfdf 115.0px,#fff1f1 118.8px,#fffbfb 123.8px,#ffffff 137.0px,#ffffff 169.8px)"></i><i style="top:72.00px;height:1.00px;background:linear-gradient(90deg,#ffffff 0.0px,#fffdfd 44.5px,#fff5f5 50.3px,#ffe5e5 54.3px,#ffcdcd 57.8px,#ff9f9f 62.3px,#ff6262 68.0px,#ff4242 72.0px,#ff2b2b 76.3px,#ff1e1e 81.3px,#ff1b1b 86.8px,#ff2424 92.0px,#ff3636 96.5px,#ff5151 100.5px,#ff7d7d 105.0px,#ffc5c5 111.8px,#ffe0e0 115.3px,#fff2f2 119.0px,#fffcfc 124.3px,#ffffff 139.8px,#ffffff 169.8px)"></i><i style="top:73.00px;height:1.00px;background:linear-gradient(90deg,#ffffff 0.0px,#fffdfd 44.5px,#fff5f5 50.3px,#ffe5e5 54.3px,#ffcdcd 57.8px,#ff9d9d 62.5px,#ff6363 68.0px,#ff4444 72.0px,#ff2f2f 76.3px,#ff2222 81.3px,#ff2020 87.0px,#ff2929 92.3px,#ff3b3b 96.8px,#ff5656 100.8px,#ff8080 105.3px,#ffc5c5 111.8px,#ffe0e0 115.3px,#fff2f2 119.0px,#fffcfc 124.3px,#ffffff 139.8px,#ffffff 169.8px)"></i><i style="top:74.00px;height:1.00px;background:linear-gradient(90deg,#ffffff 0.0px,#fffdfd 44.5px,#fff5f5 50.3px,#ffe5e5 54.3px,#ffcdcd 57.8px,#ff9b9b 62.8px,#ff6565 68.0px,#ff4747 72.0px,#ff3131 76.5px,#ff2525 81.8px,#ff2424 87.5px,#ff2e2e 92.8px,#ff4141 97.3px,#ff5c5c 101.3px,#ff8989 106.0px,#ffc8c8 112.0px,#ffe2e2 115.5px,#fff2f2 119.3px,#fffcfc 124.5px,#ffffff 141.5px,#ffffff 169.8px)"></i><i style="top:75.00px;height:1.00px;background:linear-gradient(90deg,#ffffff 0.0px,#fffdfd 44.5px,#fff5f5 50.3px,#ffe5e5 54.3px,#ffcbcb 58.0px,#ff9191 63.8px,#ff6363 68.5px,#ff4646 72.8px,#ff3333 77.3px,#ff2828 82.8px,#ff2a2a 88.8px,#ff3636 94.0px,#ff4b4b 98.5px,#ff6b6b 102.8px,#ffcccc 112.5px,#ffe6e6 116.3px,#fff5f5 120.3px,#fffdfd 126.5px,#ffffff 169.8px)"></i><i style="top:76.00px;height:1.00px;background:linear-gradient(90deg,#ffffff 0.0px,#fffdfd 44.5px,#fff5f5 50.3px,#ffe5e5 54.3px,#ffcbcb 58.0px,#ff6b6b 67.8px,#ff4d4d 72.0px,#ff3939 76.5px,#ff2d2d 82.0px,#ff2d2d 88.0px,#ff3838 93.5px,#ff4b4b 98.0px,#ff6868 102.3px,#ff9b9b 107.5px,#ffcece 112.8px,#ffe7e7 116.5px,#fff6f6 120.8px,#fffefe 127.3px,#ffffff 169.8px)"></i><i style="top:77.00px;height:1.00px;background:linear-gradient(90deg,#ffffff 0.0px,#fffdfd 44.3px,#fff5f5 50.3px,#ffe5e5 54.3px,#ffcbcb 58.0px,#ff6e6e 67.8px,#ff5050 72.0px,#ff3c3c 76.8px,#ff3232 82.3px,#ff3232 88.5px,#ff3d3d 94.0px,#ff5151 98.5px,#ff6f6f 102.8px,#ffacac 109.0px,#ffd4d4 113.5px,#ffebeb 117.3px,#fff8f8 121.8px,#fffefe 129.8px,#ffffff 169.8px)"></i><i style="top:78.00px;height:1.00px;background:linear-gradient(90deg,#ffffff 0.0px,#fffdfd 44.5px,#fff5f5 50.3px,#ffe5e5 54.3px,#ffcccc 58.0px,#ff7272 67.5px,#ff5555 71.8px,#ff4141 76.5px,#ff3636 82.3px,#ff3737 88.5px,#ff4141 94.0px,#ff5656 98.8px,#ff7373 103.0px,#ffcfcf 112.8px,#ffe8e8 116.5px,#fff6f6 120.8px,#fffefe 127.5px,#ffffff 169.8px)"></i><i style="top:79.00px;height:1.00px;background:linear-gradient(90deg,#ffffff 0.0px,#fffdfd 44.5px,#fff5f5 50.3px,#ffe6e6 54.3px,#ffcccc 58.0px,#ff7474 67.5px,#ff5858 71.8px,#ff4545 76.5px,#ff3b3b 82.3px,#ff3b3b 88.8px,#ff4747 94.5px,#ff5c5c 99.3px,#ff7a7a 103.5px,#ffd1d1 113.0px,#ffe9e9 116.8px,#fff7f7 121.0px,#fffefe 128.0px,#ffffff 169.8px)"></i><i style="top:80.00px;height:1.00px;background:linear-gradient(90deg,#ffffff 0.0px,#fffdfd 44.5px,#fff4f4 50.5px,#ffe4e4 54.5px,#ffc8c8 58.5px,#ff7979 67.3px,#ff5d5d 71.5px,#ff4a4a 76.3px,#ff4040 82.3px,#ff4040 88.8px,#ff4b4b 94.5px,#ff5f5f 99.3px,#ff7c7c 103.5px,#ffd2d2 113.0px,#ffe9e9 116.8px,#fff7f7 121.0px,#fffefe 128.0px,#ffffff 169.8px)"></i><i style="top:81.00px;height:1.00px;background:linear-gradient(90deg,#ffffff 0.0px,#fffdfd 44.5px,#fff4f4 50.5px,#ffe5e5 54.5px,#ffc9c9 58.5px,#ff7b7b 67.3px,#ff5f5f 71.8px,#ff4d4d 76.8px,#ff4444 83.0px,#ff4646 89.8px,#ff5353 95.5px,#ff6868 100.3px,#ff8989 104.8px,#ffd2d2 113.0px,#ffe9e9 116.8px,#fff7f7 121.0px,#fffefe 128.0px,#ffffff 169.8px)"></i><i style="top:82.00px;height:1.00px;background:linear-gradient(90deg,#ffffff 0.0px,#fffdfd 44.5px,#fff4f4 50.5px,#ffe5e5 54.5px,#ffcaca 58.5px,#ff8080 67.0px,#ff6464 71.5px,#ff5252 76.5px,#ff4949 82.8px,#ff4b4b 89.5px,#ff5656 95.3px,#ff6a6a 100.0px,#ff8989 104.5px,#ffd4d4 113.3px,#ffecec 117.3px,#fff9f9 121.8px,#fffefe 129.8px,#ffffff 169.8px)"></i><i style="top:83.00px;height:1.00px;background:linear-gradient(90deg,#ffffff 0.0px,#fffdfd 44.5px,#fff5f5 50.5px,#ffe4e4 54.8px,#ffc6c6 59.0px,#ff8383 67.0px,#ff6868 71.5px,#ff5757 76.5px,#ff4e4e 83.0px,#ff5050 90.0px,#ff5c5c 95.8px,#ff7171 100.5px,#ff8f8f 105.0px,#ffd5d5 113.3px,#ffecec 117.3px,#fff9f9 121.8px,#fffefe 130.0px,#ffffff 169.8px)"></i><i style="top:84.00px;height:1.00px;background:linear-gradient(90deg,#ffffff 0.0px,#fffdfd 44.5px,#fff5f5 50.5px,#ffe4e4 54.8px,#ffc7c7 59.0px,#ff8888 66.8px,#ff6d6d 71.3px,#ff5c5c 76.5px,#ff5353 83.0px,#ff5555 90.3px,#ff6262 96.3px,#ff7777 101.0px,#ff9898 105.8px,#ffd7d7 113.5px,#ffeded 117.5px,#fffafa 122.3px,#ffffff 131.3px,#ffffff 169.8px)"></i><i style="top:85.00px;height:1.00px;background:linear-gradient(90deg,#ffffff 0.0px,#fffdfd 44.5px,#fff5f5 50.5px,#ffe5e5 54.8px,#ffc8c8 59.0px,#ff8b8b 66.8px,#ff7070 71.5px,#ff6060 76.8px,#ff5858 83.5px,#ff5b5b 90.8px,#ff6868 96.8px,#ff7d7d 101.5px,#ff9e9e 106.3px,#ffd8d8 113.5px,#ffeded 117.5px,#fffafa 122.3px,#ffffff 131.5px,#ffffff 169.8px)"></i><i style="top:86.00px;height:1.00px;background:linear-gradient(90deg,#ffffff 0.0px,#fffdfd 44.5px,#fff5f5 50.5px,#ffe5e5 54.8px,#ffc8c8 59.3px,#ff8e8e 66.8px,#ff7474 71.5px,#ff6464 77.0px,#ff5d5d 84.0px,#ff6161 91.5px,#ff6e6e 97.3px,#ff8484 102.0px,#ffa7a7 107.0px,#ffdada 113.8px,#ffefef 117.8px,#fffafa 122.8px,#ffffff 133.3px,#ffffff 169.8px)"></i><i style="top:87.00px;height:1.00px;background:linear-gradient(90deg,#ffffff 0.0px,#fffdfd 44.8px,#fff5f5 50.8px,#ffe4e4 55.0px,#ffc5c5 59.8px,#ff9191 66.8px,#ff7979 71.5px,#ff6969 77.0px,#ff6262 84.3px,#ff6767 91.8px,#ff7575 97.8px,#ff8a8a 102.5px,#ffb1b1 108.0px,#ffdddd 114.0px,#fff1f1 118.3px,#fffbfb 123.5px,#ffffff 136.8px,#ffffff 169.8px)"></i><i style="top:88.00px;height:1.00px;background:linear-gradient(90deg,#ffffff 0.0px,#fffdfd 44.8px,#fff5f5 50.8px,#ffe5e5 55.0px,#ffc6c6 59.8px,#ff9494 66.8px,#ff7c7c 71.8px,#ff6e6e 77.5px,#ff6868 85.0px,#ff6d6d 92.5px,#ff7b7b 98.3px,#ff9292 103.3px,#ffbebe 109.5px,#ffe2e2 114.8px,#fff3f3 119.0px,#fffcfc 124.8px,#ffffff 148.5px,#ffffff 169.8px)"></i><i style="top:89.00px;height:1.00px;background:linear-gradient(90deg,#ffffff 0.0px,#fffdfd 44.8px,#fff5f5 50.8px,#ffe4e4 55.3px,#ffc2c2 60.5px,#ff9696 67.0px,#ff8080 72.0px,#ff7272 78.0px,#ff6d6d 86.0px,#ff7474 93.5px,#ff8383 99.3px,#ff9b9b 104.3px,#ffe0e0 114.3px,#fff2f2 118.5px,#fffcfc 124.0px,#ffffff 140.8px,#ffffff 169.8px)"></i><i style="top:90.00px;height:1.00px;background:linear-gradient(90deg,#ffffff 0.0px,#fffdfd 45.0px,#fff5f5 51.0px,#ffe4e4 55.5px,#ffbfbf 61.3px,#ff9898 67.3px,#ff8383 72.5px,#ff7676 79.0px,#ff7373 87.3px,#ff7b7b 94.8px,#ff8b8b 100.3px,#ffa5a5 105.3px,#ffe1e1 114.3px,#fff3f3 118.8px,#fffcfc 124.5px,#ffffff 147.0px,#ffffff 169.8px)"></i><i style="top:91.00px;height:1.00px;background:linear-gradient(90deg,#ffffff 0.0px,#fffdfd 45.0px,#fff4f4 51.3px,#ffe3e3 55.8px,#ffb9b9 62.5px,#ff9898 68.0px,#ff8686 73.3px,#ff7a7a 80.0px,#ff7979 88.5px,#ff8282 95.8px,#ff9393 101.3px,#ffb0b0 106.5px,#ffe1e1 114.3px,#fff3f3 118.8px,#fffdfd 124.8px,#ffffff 153.0px,#ffffff 169.8px)"></i><i style="top:92.00px;height:1.00px;background:linear-gradient(90deg,#ffffff 0.0px,#fffdfd 45.0px,#fff5f5 51.3px,#ffe4e4 55.8px,#ffa1a1 67.0px,#ff8d8d 72.3px,#ff8181 79.0px,#ff7e7e 87.8px,#ff8787 95.5px,#ff9898 101.3px,#ffb3b3 106.5px,#ffe4e4 114.5px,#fff4f4 119.0px,#fffdfd 125.3px,#ffffff 169.8px)"></i><i style="top:93.00px;height:1.00px;background:linear-gradient(90deg,#ffffff 0.0px,#fffdfd 45.3px,#fff4f4 51.5px,#ffe3e3 56.3px,#ffa5a5 67.0px,#ff9191 72.5px,#ff8686 79.5px,#ff8484 88.5px,#ff8e8e 96.3px,#ff9f9f 102.0px,#ffbdbd 107.8px,#ffe6e6 114.8px,#fff6f6 119.5px,#fffefe 126.3px,#ffffff 169.8px)"></i><i style="top:94.00px;height:1.00px;background:linear-gradient(90deg,#ffffff 0.0px,#fffdfd 45.3px,#fff5f5 51.5px,#ffe4e4 56.3px,#ffa9a9 67.0px,#ff9696 72.8px,#ff8b8b 80.3px,#ff8b8b 89.8px,#ff9595 97.3px,#ffa7a7 103.0px,#ffcaca 109.5px,#ffeaea 115.5px,#fff8f8 120.5px,#fffefe 128.5px,#ffffff 169.8px)"></i><i style="top:95.00px;height:1.00px;background:linear-gradient(90deg,#ffffff 0.0px,#fffdfd 45.5px,#fff5f5 51.8px,#ffe2e2 56.8px,#ffaeae 66.8px,#ff9b9b 72.5px,#ff9191 80.0px,#ff9090 89.8px,#ff9a9a 97.5px,#ffacac 103.3px,#ffd2d2 110.5px,#ffeded 116.0px,#fffafa 121.3px,#ffffff 130.8px,#ffffff 169.8px)"></i><i style="top:96.00px;height:1.00px;background:linear-gradient(90deg,#ffffff 0.0px,#fffdfd 45.5px,#fff4f4 52.0px,#ffe3e3 57.0px,#ffb2b2 66.8px,#ffa0a0 72.8px,#ff9696 80.8px,#ff9797 90.8px,#ffa1a1 98.3px,#ffb3b3 104.0px,#ffecec 115.5px,#fff9f9 120.8px,#ffffff 129.8px,#ffffff 169.8px)"></i><i style="top:97.00px;height:1.00px;background:linear-gradient(90deg,#ffffff 0.0px,#fffdfd 45.8px,#fff4f4 52.3px,#ffe2e2 57.5px,#ffb6b6 66.8px,#ffa4a4 73.0px,#ff9b9b 81.5px,#ff9d9d 91.8px,#ffa8a8 99.3px,#ffbcbc 105.3px,#ffecec 115.3px,#fff9f9 120.5px,#ffffff 129.5px,#ffffff 169.8px)"></i><i style="top:98.00px;height:1.00px;background:linear-gradient(90deg,#ffffff 0.0px,#fffdfd 46.0px,#fff4f4 52.5px,#ffe1e1 58.0px,#ffb9b9 67.0px,#ffa9a9 73.5px,#ffa1a1 82.5px,#ffa4a4 93.0px,#ffb0b0 100.3px,#ffc5c5 106.5px,#ffeded 115.5px,#fffafa 121.0px,#ffffff 131.3px,#ffffff 169.8px)"></i><i style="top:99.00px;height:1.00px;background:linear-gradient(90deg,#ffffff 0.0px,#fffdfd 46.0px,#fff5f5 52.5px,#ffe2e2 58.3px,#ffbdbd 67.0px,#ffaeae 73.8px,#ffa7a7 83.3px,#ffaaaa 93.8px,#ffb6b6 101.0px,#ffcdcd 107.5px,#ffefef 115.8px,#fffbfb 121.5px,#ffffff 133.8px,#ffffff 169.8px)"></i><i style="top:100.00px;height:1.00px;background:linear-gradient(90deg,#ffffff 0.0px,#fffdfd 46.3px,#fff4f4 53.0px,#ffdfdf 59.3px,#ffc0c0 67.5px,#ffb2b2 74.5px,#ffacac 84.8px,#ffb1b1 95.3px,#ffbfbf 102.5px,#ffdbdb 110.0px,#fff2f2 116.5px,#fffcfc 122.8px,#ffffff 143.0px,#ffffff 169.8px)"></i><i style="top:101.00px;height:1.00px;background:linear-gradient(90deg,#ffffff 0.0px,#fffdfd 46.5px,#fff4f4 53.3px,#ffdfdf 60.0px,#ffc4c4 67.8px,#ffb7b7 75.3px,#ffb2b2 86.5px,#ffb9b9 96.8px,#ffc7c7 103.8px,#fff2f2 116.3px,#fffcfc 122.8px,#ffffff 145.8px,#ffffff 169.8px)"></i><i style="top:102.00px;height:1.00px;background:linear-gradient(90deg,#ffffff 0.0px,#fffdfd 46.8px,#fff4f4 53.8px,#ffdbdb 61.8px,#ffc5c5 69.0px,#ffbbbb 77.5px,#ffb9b9 90.0px,#ffc2c2 99.5px,#ffd3d3 106.5px,#fff3f3 116.3px,#fffdfd 123.0px,#ffffff 154.8px,#ffffff 169.8px)"></i><i style="top:103.00px;height:1.00px;background:linear-gradient(90deg,#ffffff 0.0px,#fffdfd 47.0px,#fff4f4 54.0px,#ffcccc 68.3px,#ffc1c1 76.8px,#ffbfbf 89.8px,#ffc7c7 99.5px,#ffd8d8 107.0px,#fff5f5 116.5px,#fffdfd 123.8px,#ffffff 169.8px)"></i><i style="top:104.00px;height:1.00px;background:linear-gradient(90deg,#ffffff 0.0px,#fffdfd 47.5px,#fff4f4 54.8px,#ffd0d0 68.3px,#ffc6c6 77.3px,#ffc5c5 91.0px,#ffcece 100.8px,#ffe1e1 108.8px,#fff7f7 117.3px,#fffefe 125.5px,#ffffff 169.8px)"></i><i style="top:105.00px;height:1.00px;background:linear-gradient(90deg,#ffffff 0.0px,#fffdfd 47.8px,#fff4f4 55.3px,#ffd5d5 68.5px,#ffcccc 78.5px,#ffcccc 93.0px,#ffd6d6 102.5px,#fff8f8 117.5px,#fffefe 126.8px,#ffffff 169.8px)"></i><i style="top:106.00px;height:1.00px;background:linear-gradient(90deg,#ffffff 0.0px,#fffdfd 48.3px,#fff4f4 56.0px,#ffd9d9 68.8px,#ffd1d1 79.8px,#ffd3d3 95.0px,#ffdede 104.3px,#fff9f9 117.5px,#ffffff 127.5px,#ffffff 169.8px)"></i><i style="top:107.00px;height:1.00px;background:linear-gradient(90deg,#ffffff 0.0px,#fffdfd 48.8px,#fff3f3 57.0px,#ffdede 69.3px,#ffd7d7 81.8px,#ffdada 97.0px,#ffe6e6 106.5px,#fffafa 118.0px,#ffffff 130.3px,#ffffff 169.8px)"></i><i style="top:108.00px;height:1.00px;background:linear-gradient(90deg,#ffffff 0.0px,#fffdfd 49.3px,#fff3f3 58.3px,#ffe2e2 70.0px,#ffdddd 84.5px,#ffe1e1 99.5px,#fff0f0 110.3px,#fffcfc 119.8px,#ffffff 143.8px,#ffffff 169.8px)"></i><i style="top:109.00px;height:1.00px;background:linear-gradient(90deg,#ffffff 0.0px,#fffdfd 50.3px,#fff1f1 61.3px,#ffe5e5 72.8px,#ffe3e3 91.5px,#ffebeb 104.5px,#fffcfc 119.3px,#ffffff 147.5px,#ffffff 169.8px)"></i><i style="top:110.00px;height:1.00px;background:linear-gradient(90deg,#ffffff 0.0px,#fffdfd 51.3px,#ffebeb 72.8px,#ffeaea 94.3px,#fff2f2 107.5px,#fffefe 120.5px,#ffffff 169.8px)"></i><i style="top:111.00px;height:1.00px;background:linear-gradient(90deg,#ffffff 0.0px,#fffdfd 52.5px,#fff0f0 74.0px,#fff1f1 98.8px,#fffefe 122.5px,#ffffff 169.8px)"></i><i style="top:112.00px;height:1.00px;background:linear-gradient(90deg,#ffffff 0.0px,#fffdfd 55.0px,#fff5f5 78.0px,#fff8f8 105.0px,#ffffff 125.5px,#ffffff 169.8px)"></i><i style="top:113.00px;height:1.00px;background:linear-gradient(90deg,#ffffff 0.0px,#fffdfd 62.3px,#fffcfc 105.3px,#ffffff 150.0px,#ffffff 169.8px)"></i><i style="top:114.00px;height:1.00px;background:linear-gradient(90deg,#ffffff 0.0px,#fefeff 111.3px,#ffffff 169.8px)"></i><i style="top:115.00px;height:1.00px;background:linear-gradient(90deg,#ffffff 0.0px,#fdfdff 56.0px,#f7f7ff 80.8px,#fafaff 107.8px,#ffffff 129.5px,#ffffff 169.8px)"></i><i style="top:116.00px;height:1.00px;background:linear-gradient(90deg,#ffffff 0.0px,#fdfdff 53.0px,#f2f2ff 74.8px,#f3f3ff 100.3px,#ffffff 123.0px,#ffffff 169.8px)"></i><i style="top:117.00px;height:1.00px;background:linear-gradient(90deg,#ffffff 0.0px,#fdfdff 51.5px,#ececff 73.0px,#ececff 95.5px,#f5f5ff 109.3px,#fefeff 121.8px,#ffffff 169.8px)"></i><i style="top:118.00px;height:1.00px;background:linear-gradient(90deg,#ffffff 0.0px,#fdfdff 50.5px,#f0f0ff 62.8px,#e6e6ff 74.8px,#e6e6ff 94.8px,#efefff 107.0px,#fdfdff 119.8px,#ffffff 167.0px,#ffffff 169.8px)"></i><i style="top:119.00px;height:1.00px;background:linear-gradient(90deg,#ffffff 0.0px,#fdfdff 49.5px,#f2f2ff 59.0px,#e3e3ff 70.5px,#dedeff 86.0px,#e4e4ff 100.8px,#fcfcff 119.3px,#ffffff 141.0px,#ffffff 169.8px)"></i><i style="top:120.00px;height:1.00px;background:linear-gradient(90deg,#ffffff 0.0px,#fdfdff 49.0px,#f3f3ff 57.5px,#dfdfff 69.3px,#d9d9ff 82.0px,#dcdcff 97.5px,#e8e8ff 107.3px,#fbfbff 118.3px,#ffffff 131.8px,#ffffff 169.8px)"></i><i style="top:121.00px;height:1.00px;background:linear-gradient(90deg,#ffffff 0.0px,#fdfdff 48.5px,#f3f3ff 56.5px,#dbdbff 68.8px,#d3d3ff 80.0px,#d5d5ff 95.3px,#e0e0ff 104.8px,#f9f9ff 117.8px,#ffffff 128.5px,#ffffff 169.8px)"></i><i style="top:122.00px;height:1.00px;background:linear-gradient(90deg,#ffffff 0.0px,#fdfdff 48.0px,#f4f4ff 55.5px,#d6d6ff 68.5px,#cdcdff 78.8px,#ceceff 93.5px,#d8d8ff 103.0px,#f8f8ff 117.5px,#fefeff 127.0px,#ffffff 169.8px)"></i><i style="top:123.00px;height:1.00px;background:linear-gradient(90deg,#ffffff 0.0px,#fdfdff 47.5px,#f4f4ff 54.8px,#d2d2ff 68.3px,#c8c8ff 77.5px,#c7c7ff 91.5px,#d0d0ff 101.3px,#e5e5ff 109.8px,#f8f8ff 117.5px,#fefeff 126.3px,#ffffff 169.8px)"></i><i style="top:124.00px;height:1.00px;background:linear-gradient(90deg,#ffffff 0.0px,#fdfdff 47.3px,#f4f4ff 54.3px,#cdcdff 68.3px,#c2c2ff 77.0px,#c1c1ff 90.3px,#c9c9ff 100.0px,#dbdbff 107.5px,#f6f6ff 116.8px,#fefeff 124.3px,#ffffff 169.8px)"></i><i style="top:125.00px;height:1.00px;background:linear-gradient(90deg,#ffffff 0.0px,#fdfdff 47.0px,#f4f4ff 54.0px,#c9c9ff 68.3px,#bdbdff 76.5px,#bbbbff 89.0px,#c2c2ff 98.8px,#d3d3ff 106.0px,#f4f4ff 116.3px,#fdfdff 123.3px,#ffffff 166.0px,#ffffff 169.8px)"></i><i style="top:126.00px;height:1.00px;background:linear-gradient(90deg,#ffffff 0.0px,#fdfdff 46.5px,#f5f5ff 53.3px,#dfdfff 60.0px,#c4c4ff 68.0px,#b8b8ff 75.8px,#b4b4ff 87.3px,#bbbbff 97.5px,#cacaff 104.5px,#f3f3ff 116.3px,#fcfcff 122.8px,#ffffff 146.8px,#ffffff 169.8px)"></i><i style="top:127.00px;height:1.00px;background:linear-gradient(90deg,#ffffff 0.0px,#fdfdff 46.3px,#f5f5ff 53.0px,#e0e0ff 59.3px,#c1c1ff 67.5px,#b3b3ff 74.8px,#aeaeff 85.3px,#b4b4ff 95.8px,#c1c1ff 102.8px,#dedeff 110.8px,#f4f4ff 117.0px,#fdfdff 123.5px,#ffffff 156.8px,#ffffff 169.8px)"></i><i style="top:128.00px;height:1.00px;background:linear-gradient(90deg,#ffffff 0.0px,#fdfdff 46.3px,#f4f4ff 52.8px,#e1e1ff 58.5px,#bebeff 67.3px,#afafff 74.0px,#a8a8ff 83.8px,#acacff 94.3px,#b9b9ff 101.5px,#d1d1ff 108.3px,#efefff 115.8px,#fbfbff 121.5px,#ffffff 134.0px,#ffffff 169.8px)"></i><i style="top:129.00px;height:1.00px;background:linear-gradient(90deg,#ffffff 0.0px,#fdfdff 46.0px,#f4f4ff 52.5px,#e1e1ff 58.0px,#babaff 67.0px,#aaaaff 73.5px,#a3a3ff 82.5px,#a6a6ff 93.0px,#b2b2ff 100.5px,#c8c8ff 106.8px,#eeeeff 115.5px,#fafaff 121.0px,#ffffff 131.5px,#ffffff 169.8px)"></i><i style="top:130.00px;height:1.00px;background:linear-gradient(90deg,#ffffff 0.0px,#fdfdff 45.8px,#f4f4ff 52.3px,#e2e2ff 57.5px,#b6b6ff 67.0px,#a5a5ff 73.3px,#9d9dff 81.8px,#9f9fff 92.0px,#aaaaff 99.5px,#bfbfff 105.5px,#ededff 115.5px,#fafaff 121.0px,#ffffff 131.0px,#ffffff 169.8px)"></i><i style="top:131.00px;height:1.00px;background:linear-gradient(90deg,#ffffff 0.0px,#fdfdff 45.5px,#f5f5ff 52.0px,#e3e3ff 57.0px,#b2b2ff 67.0px,#a1a1ff 73.0px,#9898ff 81.3px,#9999ff 91.3px,#a4a4ff 98.8px,#b7b7ff 104.5px,#ebebff 115.3px,#f9f9ff 120.5px,#ffffff 129.3px,#ffffff 169.8px)"></i><i style="top:132.00px;height:1.00px;background:linear-gradient(90deg,#ffffff 0.0px,#fdfdff 45.5px,#f5f5ff 51.8px,#e3e3ff 56.8px,#aeaeff 67.0px,#9c9cff 72.8px,#9292ff 80.5px,#9292ff 90.3px,#9c9cff 97.8px,#afafff 103.5px,#ebebff 115.5px,#f8f8ff 120.5px,#fefeff 129.0px,#ffffff 169.8px)"></i><i style="top:133.00px;height:1.00px;background:linear-gradient(90deg,#ffffff 0.0px,#fdfdff 45.3px,#f5f5ff 51.5px,#e4e4ff 56.3px,#aaaaff 67.0px,#9797ff 72.8px,#8d8dff 80.3px,#8c8cff 89.8px,#9696ff 97.3px,#a8a8ff 103.0px,#cbcbff 109.5px,#eaeaff 115.5px,#f8f8ff 120.5px,#fefeff 128.5px,#ffffff 169.8px)"></i><i style="top:134.00px;height:1.00px;background:linear-gradient(90deg,#ffffff 0.0px,#fdfdff 45.3px,#f4f4ff 51.5px,#e3e3ff 56.3px,#a6a6ff 67.0px,#9393ff 72.5px,#8888ff 79.5px,#8686ff 88.8px,#9090ff 96.5px,#a1a1ff 102.3px,#bfbfff 108.0px,#e6e6ff 114.8px,#f6f6ff 119.5px,#fefeff 126.3px,#ffffff 169.8px)"></i><i style="top:135.00px;height:1.00px;background:linear-gradient(90deg,#ffffff 0.0px,#fdfdff 45.0px,#f5f5ff 51.3px,#e4e4ff 55.8px,#a2a2ff 67.0px,#8e8eff 72.5px,#8282ff 79.5px,#8080ff 88.5px,#8989ff 96.0px,#9b9bff 101.8px,#b8b8ff 107.3px,#e4e4ff 114.5px,#f5f5ff 119.3px,#fdfdff 125.8px,#ffffff 169.8px)"></i><i style="top:136.00px;height:1.00px;background:linear-gradient(90deg,#ffffff 0.0px,#fdfdff 45.0px,#f4f4ff 51.3px,#e4e4ff 55.8px,#b8b8ff 62.8px,#9898ff 68.3px,#8686ff 73.8px,#7c7cff 80.8px,#7b7bff 89.5px,#8686ff 96.5px,#9898ff 102.0px,#b7b7ff 107.5px,#e3e3ff 114.5px,#f4f4ff 119.0px,#fdfdff 125.0px,#ffffff 160.5px,#ffffff 169.8px)"></i><i style="top:137.00px;height:1.00px;background:linear-gradient(90deg,#ffffff 0.0px,#fdfdff 45.0px,#f5f5ff 51.0px,#e4e4ff 55.5px,#c0c0ff 61.3px,#9999ff 67.3px,#8484ff 72.5px,#7878ff 79.0px,#7575ff 87.3px,#7d7dff 94.8px,#8d8dff 100.5px,#a7a7ff 105.5px,#e1e1ff 114.3px,#f3f3ff 118.8px,#fcfcff 124.5px,#ffffff 147.3px,#ffffff 169.8px)"></i><i style="top:138.00px;height:1.00px;background:linear-gradient(90deg,#ffffff 0.0px,#fdfdff 44.8px,#f5f5ff 50.8px,#e4e4ff 55.3px,#c3c3ff 60.5px,#9797ff 67.0px,#8181ff 72.0px,#7474ff 78.0px,#6f6fff 86.0px,#7575ff 93.5px,#8484ff 99.3px,#9c9cff 104.3px,#e0e0ff 114.3px,#f2f2ff 118.5px,#fcfcff 124.0px,#ffffff 141.0px,#ffffff 169.8px)"></i><i style="top:139.00px;height:1.00px;background:linear-gradient(90deg,#ffffff 0.0px,#fdfdff 44.8px,#f5f5ff 50.8px,#e5e5ff 55.0px,#c7c7ff 59.8px,#9595ff 66.8px,#7d7dff 71.8px,#6f6fff 77.8px,#6969ff 85.5px,#6f6fff 93.0px,#7e7eff 98.8px,#9696ff 103.8px,#dfdfff 114.3px,#f2f2ff 118.5px,#fcfcff 124.0px,#ffffff 140.5px,#ffffff 169.8px)"></i><i style="top:140.00px;height:1.00px;background:linear-gradient(90deg,#ffffff 0.0px,#fdfdff 44.8px,#f5f5ff 50.8px,#e5e5ff 55.0px,#c5c5ff 59.8px,#9292ff 66.8px,#7a7aff 71.5px,#6a6aff 77.3px,#6464ff 84.5px,#6969ff 92.0px,#7777ff 98.0px,#8d8dff 102.8px,#b3b3ff 108.3px,#ddddff 114.0px,#f1f1ff 118.3px,#fbfbff 123.5px,#ffffff 136.8px,#ffffff 169.8px)"></i><i style="top:141.00px;height:1.00px;background:linear-gradient(90deg,#ffffff 0.0px,#fdfdff 44.8px,#f4f4ff 50.8px,#e4e4ff 55.0px,#c6c6ff 59.5px,#8f8fff 66.8px,#7676ff 71.5px,#6666ff 77.0px,#5f5fff 84.0px,#6363ff 91.5px,#7171ff 97.5px,#8686ff 102.3px,#ababff 107.5px,#dbdbff 113.8px,#f0f0ff 118.0px,#fbfbff 123.0px,#ffffff 134.3px,#ffffff 169.8px)"></i><i style="top:142.00px;height:1.00px;background:linear-gradient(90deg,#ffffff 0.0px,#fdfdff 44.5px,#f5f5ff 50.5px,#e5e5ff 54.8px,#c9c9ff 59.0px,#8b8bff 66.8px,#7272ff 71.5px,#6161ff 77.0px,#5959ff 84.0px,#5d5dff 91.3px,#6b6bff 97.0px,#8080ff 101.8px,#a3a3ff 106.8px,#d8d8ff 113.5px,#ededff 117.5px,#fafaff 122.3px,#ffffff 131.5px,#ffffff 169.8px)"></i><i style="top:143.00px;height:1.00px;background:linear-gradient(90deg,#ffffff 0.0px,#fdfdff 44.5px,#f5f5ff 50.5px,#e4e4ff 54.8px,#c8c8ff 59.0px,#8888ff 66.8px,#6f6fff 71.3px,#5d5dff 76.5px,#5555ff 83.0px,#5757ff 90.3px,#6464ff 96.3px,#7878ff 101.0px,#9999ff 105.8px,#d8d8ff 113.5px,#ededff 117.5px,#fafaff 122.3px,#ffffff 131.5px,#ffffff 169.8px)"></i><i style="top:144.00px;height:1.00px;background:linear-gradient(90deg,#ffffff 0.0px,#fdfdff 44.5px,#f5f5ff 50.5px,#e4e4ff 54.8px,#c7c7ff 59.0px,#8484ff 67.0px,#6969ff 71.5px,#5858ff 76.8px,#4f4fff 83.3px,#5252ff 90.3px,#5e5eff 96.0px,#7373ff 100.8px,#9494ff 105.5px,#d5d5ff 113.3px,#ececff 117.3px,#f9f9ff 121.8px,#fefeff 130.0px,#ffffff 169.8px)"></i><i style="top:145.00px;height:1.00px;background:linear-gradient(90deg,#ffffff 0.0px,#fdfdff 44.5px,#f5f5ff 50.5px,#e5e5ff 54.5px,#cacaff 58.5px,#8181ff 67.0px,#6666ff 71.5px,#5454ff 76.5px,#4b4bff 82.8px,#4c4cff 89.8px,#5858ff 95.5px,#6d6dff 100.3px,#8c8cff 104.8px,#d5d5ff 113.3px,#ececff 117.3px,#f9f9ff 121.8px,#fefeff 129.8px,#ffffff 169.8px)"></i><i style="top:146.00px;height:1.00px;background:linear-gradient(90deg,#ffffff 0.0px,#fdfdff 44.5px,#f4f4ff 50.5px,#e5e5ff 54.5px,#c9c9ff 58.5px,#7e7eff 67.0px,#6262ff 71.5px,#4f4fff 76.5px,#4646ff 82.8px,#4747ff 89.5px,#5353ff 95.3px,#6868ff 100.0px,#8787ff 104.5px,#d2d2ff 113.0px,#e9e9ff 116.8px,#f7f7ff 121.0px,#fefeff 128.0px,#ffffff 169.8px)"></i><i style="top:147.00px;height:1.00px;background:linear-gradient(90deg,#ffffff 0.0px,#fdfdff 44.5px,#f4f4ff 50.5px,#e4e4ff 54.5px,#c8c8ff 58.5px,#7a7aff 67.3px,#5e5eff 71.5px,#4b4bff 76.3px,#4141ff 82.3px,#4242ff 89.0px,#4d4dff 94.8px,#6262ff 99.5px,#7f7fff 103.8px,#d2d2ff 113.0px,#e9e9ff 116.8px,#f7f7ff 121.0px,#fefeff 128.0px,#ffffff 169.8px)"></i><i style="top:148.00px;height:1.00px;background:linear-gradient(90deg,#ffffff 0.0px,#fdfdff 44.5px,#f5f5ff 50.3px,#e6e6ff 54.3px,#ccccff 58.0px,#7575ff 67.5px,#5959ff 71.8px,#4646ff 76.5px,#3c3cff 82.3px,#3d3dff 88.8px,#4848ff 94.5px,#5d5dff 99.3px,#7a7aff 103.5px,#d1d1ff 113.0px,#e9e9ff 116.8px,#f7f7ff 121.0px,#fefeff 128.0px,#ffffff 169.8px)"></i><i style="top:149.00px;height:1.00px;background:linear-gradient(90deg,#ffffff 0.0px,#fdfdff 44.5px,#f5f5ff 50.3px,#e5e5ff 54.3px,#ccccff 58.0px,#7373ff 67.5px,#5656ff 71.8px,#4242ff 76.5px,#3838ff 82.3px,#3838ff 88.5px,#4343ff 94.0px,#5757ff 98.8px,#7474ff 103.0px,#d1d1ff 113.0px,#e9e9ff 116.8px,#f7f7ff 121.0px,#fefeff 128.0px,#ffffff 169.8px)"></i><i style="top:150.00px;height:1.00px;background:linear-gradient(90deg,#ffffff 0.0px,#fdfdff 44.5px,#f5f5ff 50.3px,#e5e5ff 54.3px,#cbcbff 58.0px,#6e6eff 67.8px,#5151ff 72.0px,#3d3dff 76.8px,#3333ff 82.5px,#3434ff 88.8px,#3f3fff 94.3px,#5353ff 98.8px,#7272ff 103.0px,#cfcfff 112.8px,#e7e7ff 116.5px,#f6f6ff 120.8px,#fefeff 127.5px,#ffffff 169.8px)"></i><i style="top:151.00px;height:1.00px;background:linear-gradient(90deg,#ffffff 0.0px,#fdfdff 44.3px,#f5f5ff 50.3px,#e5e5ff 54.3px,#cbcbff 58.0px,#6c6cff 67.8px,#4e4eff 72.0px,#3a3aff 76.5px,#2f2fff 82.0px,#2e2eff 88.0px,#3939ff 93.5px,#4c4cff 98.0px,#6969ff 102.3px,#9b9bff 107.5px,#ceceff 112.8px,#e7e7ff 116.5px,#f6f6ff 120.8px,#fefeff 127.3px,#ffffff 169.8px)"></i><i style="top:152.00px;height:1.00px;background:linear-gradient(90deg,#ffffff 0.0px,#fdfdff 44.5px,#f5f5ff 50.3px,#e5e5ff 54.3px,#cbcbff 58.0px,#8e8eff 64.0px,#6161ff 68.8px,#4545ff 73.0px,#3232ff 77.8px,#2929ff 83.3px,#2c2cff 89.3px,#3838ff 94.5px,#4f4fff 99.0px,#7070ff 103.3px,#cacaff 112.3px,#e5e5ff 116.0px,#f5f5ff 120.0px,#fdfdff 126.0px,#ffffff 169.8px)"></i><i style="top:153.00px;height:1.00px;background:linear-gradient(90deg,#ffffff 0.0px,#fdfdff 44.5px,#f5f5ff 50.3px,#e5e5ff 54.3px,#cdcdff 57.8px,#9b9bff 62.8px,#6666ff 68.0px,#4848ff 72.0px,#3232ff 76.5px,#2626ff 81.8px,#2525ff 87.5px,#2f2fff 92.8px,#4141ff 97.3px,#5e5eff 101.5px,#8c8cff 106.3px,#c8c8ff 112.0px,#e3e3ff 115.8px,#f4f4ff 119.8px,#fdfdff 125.5px,#ffffff 157.0px,#ffffff 169.8px)"></i><i style="top:154.00px;height:1.00px;background:linear-gradient(90deg,#ffffff 0.0px,#fdfdff 44.5px,#f5f5ff 50.3px,#e5e5ff 54.3px,#cdcdff 57.8px,#9d9dff 62.5px,#6464ff 68.0px,#4545ff 72.0px,#3030ff 76.3px,#2323ff 81.3px,#2121ff 87.0px,#2a2aff 92.3px,#3c3cff 96.8px,#5656ff 100.8px,#8181ff 105.3px,#c5c5ff 111.8px,#e0e0ff 115.3px,#f2f2ff 119.0px,#fcfcff 124.3px,#ffffff 139.8px,#ffffff 169.8px)"></i><i style="top:155.00px;height:1.00px;background:linear-gradient(90deg,#ffffff 0.0px,#fdfdff 44.5px,#f5f5ff 50.3px,#e5e5ff 54.3px,#cdcdff 57.8px,#9f9fff 62.3px,#6262ff 68.0px,#4242ff 72.0px,#2c2cff 76.3px,#1f1fff 81.3px,#1d1dff 86.8px,#2525ff 92.0px,#3737ff 96.5px,#5252ff 100.5px,#7d7dff 105.0px,#c5c5ff 111.8px,#e0e0ff 115.3px,#f2f2ff 119.0px,#fcfcff 124.3px,#ffffff 139.8px,#ffffff 169.8px)"></i><i style="top:156.00px;height:1.00px;background:linear-gradient(90deg,#ffffff 0.0px,#fdfdff 44.5px,#f5f5ff 50.3px,#e5e5ff 54.3px,#cdcdff 57.8px,#9f9fff 62.3px,#5e5eff 68.3px,#3e3eff 72.3px,#2828ff 76.5px,#1b1bff 81.5px,#1919ff 87.0px,#2323ff 92.3px,#3636ff 96.8px,#5252ff 100.8px,#7f7fff 105.3px,#c3c3ff 111.5px,#dfdfff 115.0px,#f1f1ff 118.8px,#fbfbff 123.8px,#ffffff 136.8px,#ffffff 169.8px)"></i><i style="top:157.00px;height:1.00px;background:linear-gradient(90deg,#ffffff 0.0px,#fdfdff 44.5px,#f5f5ff 50.3px,#e6e6ff 54.3px,#cdcdff 57.8px,#a2a2ff 62.0px,#5d5dff 68.3px,#3c3cff 72.3px,#2525ff 76.5px,#1818ff 81.3px,#1515ff 86.5px,#1d1dff 91.5px,#2f2fff 96.0px,#4a4aff 100.0px,#7373ff 104.3px,#c3c3ff 111.5px,#dfdfff 115.0px,#f1f1ff 118.8px,#fbfbff 123.8px,#ffffff 137.0px,#ffffff 169.8px)"></i><i style="top:158.00px;height:1.00px;background:linear-gradient(90deg,#ffffff 0.0px,#fdfdff 44.5px,#f5f5ff 50.5px,#e4e4ff 54.5px,#cbcbff 58.0px,#9f9fff 62.3px,#5c5cff 68.3px,#3a3aff 72.3px,#2222ff 76.5px,#1414ff 81.3px,#1111ff 86.5px,#1a1aff 91.5px,#2c2cff 96.0px,#4848ff 100.0px,#7272ff 104.3px,#c1c1ff 111.3px,#dedeff 114.8px,#f0f0ff 118.5px,#fbfbff 123.5px,#ffffff 135.8px,#ffffff 169.8px)"></i><i style="top:159.00px;height:1.00px;background:linear-gradient(90deg,#ffffff 0.0px,#fdfdff 44.5px,#f5f5ff 50.5px,#e5e5ff 54.5px,#cbcbff 58.0px,#9f9fff 62.3px,#5858ff 68.5px,#3636ff 72.5px,#1f1fff 76.5px,#1111ff 81.3px,#0e0eff 86.3px,#1616ff 91.3px,#2727ff 95.5px,#4343ff 99.5px,#6c6cff 103.8px,#bebeff 111.0px,#dcdcff 114.5px,#f0f0ff 118.3px,#fbfbff 123.0px,#ffffff 133.8px,#ffffff 169.8px)"></i><i style="top:160.00px;height:1.00px;background:linear-gradient(90deg,#ffffff 0.0px,#fdfdff 44.5px,#f5f5ff 50.5px,#e5e5ff 54.5px,#ccccff 58.0px,#a2a2ff 62.0px,#5757ff 68.5px,#3434ff 72.5px,#1c1cff 76.5px,#0e0eff 81.0px,#0a0aff 86.0px,#1212ff 91.0px,#2323ff 95.3px,#3f3fff 99.3px,#6969ff 103.5px,#bfbfff 111.0px,#dcdcff 114.5px,#f0f0ff 118.3px,#fbfbff 123.0px,#ffffff 134.0px,#ffffff 169.8px)"></i><i style="top:161.00px;height:1.00px;background:linear-gradient(90deg,#ffffff 0.0px,#fdfdff 44.5px,#f5f5ff 50.5px,#e5e5ff 54.5px,#ccccff 58.0px,#a2a2ff 62.0px,#5454ff 68.8px,#3030ff 72.8px,#1919ff 76.8px,#0b0bff 81.3px,#0707ff 86.3px,#0f0fff 91.0px,#2121ff 95.3px,#3e3eff 99.3px,#6868ff 103.5px,#bdbdff 110.8px,#dbdbff 114.3px,#eeeeff 117.8px,#fafaff 122.5px,#ffffff 132.3px,#ffffff 169.8px)"></i><i style="top:162.00px;height:1.00px;background:linear-gradient(90deg,#ffffff 0.0px,#fdfdff 44.8px,#f5f5ff 50.5px,#e5e5ff 54.5px,#ccccff 58.0px,#a3a3ff 62.0px,#5353ff 68.8px,#2f2fff 72.8px,#1717ff 76.8px,#0808ff 81.3px,#0404ff 86.0px,#0c0cff 90.8px,#1e1eff 95.0px,#3a3aff 99.0px,#6262ff 103.0px,#bdbdff 110.8px,#dbdbff 114.3px,#eeeeff 117.8px,#fafaff 122.5px,#ffffff 132.5px,#ffffff 169.8px)"></i><i style="top:163.00px;height:1.00px;background:linear-gradient(90deg,#ffffff 0.0px,#fdfdff 44.8px,#f4f4ff 50.8px,#e4e4ff 54.8px,#cbcbff 58.3px,#a0a0ff 62.3px,#5050ff 69.0px,#2c2cff 73.0px,#1313ff 77.0px,#0505ff 81.5px,#0202ff 86.3px,#0909ff 90.8px,#1c1cff 95.0px,#3737ff 98.8px,#5f5fff 102.8px,#bbbbff 110.5px,#dadaff 114.0px,#ededff 117.5px,#f9f9ff 122.0px,#ffffff 131.0px,#ffffff 169.8px)"></i><i style="top:164.00px;height:1.00px;background:linear-gradient(90deg,#ffffff 0.0px,#fdfdff 44.8px,#f5f5ff 50.8px,#e5e5ff 54.8px,#cbcbff 58.3px,#a1a1ff 62.3px,#4d4dff 69.3px,#2828ff 73.3px,#1010ff 77.3px,#0202ff 81.5px,#0000ff 86.0px,#0404ff 89.5px,#1313ff 93.8px,#2e2eff 97.8px,#5454ff 101.8px,#bcbcff 110.5px,#dbdbff 114.0px,#eeeeff 117.5px,#f9f9ff 122.0px,#ffffff 131.0px,#ffffff 169.8px)"></i><i style="top:165.00px;height:1.00px;background:linear-gradient(90deg,#ffffff 0.0px,#fdfdff 44.8px,#f5f5ff 50.8px,#e5e5ff 54.8px,#ccccff 58.3px,#a4a4ff 62.0px,#4d4dff 69.3px,#2929ff 73.0px,#1010ff 77.0px,#0101ff 81.3px,#0101ff 89.5px,#1212ff 93.8px,#2b2bff 97.5px,#5151ff 101.5px,#babaff 110.3px,#d9d9ff 113.8px,#ededff 117.3px,#f9f9ff 121.8px,#ffffff 130.5px,#ffffff 169.8px)"></i><i style="top:166.00px;height:1.00px;background:linear-gradient(90deg,#ffffff 0.0px,#fdfdff 44.8px,#f5f5ff 50.8px,#e5e5ff 54.8px,#cdcdff 58.3px,#a5a5ff 62.0px,#4a4aff 69.5px,#2727ff 73.3px,#0e0eff 77.0px,#0000ff 80.8px,#0202ff 90.3px,#1313ff 94.3px,#2e2eff 98.0px,#5757ff 102.0px,#b8b8ff 110.0px,#d8d8ff 113.5px,#ececff 117.0px,#f9f9ff 121.5px,#ffffff 130.0px,#ffffff 169.8px)"></i><i style="top:167.00px;height:1.00px;background:linear-gradient(90deg,#ffffff 0.0px,#fdfdff 45.0px,#f5f5ff 51.0px,#e5e5ff 55.0px,#cbcbff 58.5px,#a3a3ff 62.3px,#4747ff 69.8px,#2424ff 73.5px,#0b0bff 77.3px,#0000ff 80.3px,#0101ff 90.8px,#1515ff 94.8px,#3232ff 98.5px,#6060ff 102.8px,#b6b6ff 109.8px,#d7d7ff 113.3px,#ececff 116.8px,#f9f9ff 121.3px,#fefeff 129.5px,#ffffff 169.8px)"></i><i style="top:168.00px;height:1.00px;background:linear-gradient(90deg,#ffffff 0.0px,#fdfdff 45.0px,#f5f5ff 51.0px,#e5e5ff 55.0px,#ccccff 58.5px,#a4a4ff 62.3px,#4545ff 70.0px,#2121ff 73.8px,#0909ff 77.5px,#0000ff 80.0px,#0101ff 91.0px,#1616ff 95.0px,#3434ff 98.8px,#6464ff 103.0px,#b4b4ff 109.5px,#d5d5ff 113.0px,#ebebff 116.5px,#f8f8ff 120.8px,#fefeff 128.3px,#ffffff 169.8px)"></i><i style="top:169.00px;height:1.00px;background:linear-gradient(90deg,#ffffff 0.0px,#fdfdff 45.0px,#f5f5ff 51.0px,#e6e6ff 55.0px,#cdcdff 58.5px,#a5a5ff 62.3px,#4545ff 70.0px,#2121ff 73.8px,#0808ff 77.5px,#0000ff 79.5px,#0101ff 91.3px,#1515ff 95.0px,#3535ff 98.8px,#6868ff 103.3px,#b5b5ff 109.5px,#d6d6ff 113.0px,#ebebff 116.5px,#f8f8ff 121.0px,#fefeff 129.0px,#ffffff 169.8px)"></i><i style="top:170.00px;height:1.00px;background:linear-gradient(90deg,#ffffff 0.0px,#fdfdff 45.3px,#f5f5ff 51.3px,#e5e5ff 55.3px,#cbcbff 58.8px,#a4a4ff 62.5px,#4343ff 70.3px,#1f1fff 74.0px,#0606ff 77.8px,#0000ff 79.3px,#0101ff 91.5px,#1717ff 95.3px,#3838ff 99.0px,#7070ff 103.8px,#b7b7ff 109.5px,#d7d7ff 113.0px,#ececff 116.5px,#f9f9ff 121.0px,#fefeff 129.3px,#ffffff 169.8px)"></i><i style="top:171.00px;height:1.00px;background:linear-gradient(90deg,#ffffff 0.0px,#fdfdff 45.3px,#f5f5ff 51.3px,#e5e5ff 55.3px,#ccccff 58.8px,#a5a5ff 62.5px,#4141ff 70.5px,#1d1dff 74.3px,#0404ff 78.0px,#0000ff 79.5px,#0101ff 91.8px,#1818ff 95.5px,#3b3bff 99.3px,#7777ff 104.3px,#b8b8ff 109.5px,#d8d8ff 113.0px,#ececff 116.5px,#f9f9ff 121.0px,#fefeff 129.3px,#ffffff 169.8px)"></i><i style="top:172.00px;height:1.00px;background:linear-gradient(90deg,#ffffff 0.0px,#fdfdff 45.3px,#f5f5ff 51.3px,#e6e6ff 55.3px,#cdcdff 58.8px,#a6a6ff 62.5px,#4040ff 70.8px,#1b1bff 74.5px,#0303ff 78.3px,#0000ff 79.5px,#0101ff 91.8px,#1919ff 95.5px,#3c3cff 99.3px,#7c7cff 104.5px,#b9b9ff 109.5px,#d9d9ff 113.0px,#ececff 116.5px,#f9f9ff 121.0px,#ffffff 129.5px,#ffffff 169.8px)"></i><i style="top:173.00px;height:1.00px;background:linear-gradient(90deg,#ffffff 0.0px,#fdfdff 45.5px,#f5f5ff 51.5px,#e5e5ff 55.5px,#ccccff 59.0px,#a5a5ff 62.8px,#4141ff 70.8px,#1c1cff 74.5px,#0303ff 78.3px,#0000ff 79.5px,#0101ff 91.8px,#1919ff 95.5px,#3d3dff 99.3px,#8484ff 105.0px,#babaff 109.5px,#d9d9ff 113.0px,#ededff 116.5px,#f9f9ff 121.0px,#ffffff 129.8px,#ffffff 169.8px)"></i><i style="top:174.00px;height:1.00px;background:linear-gradient(90deg,#ffffff 0.0px,#fdfdff 45.5px,#f5f5ff 51.5px,#e6e6ff 55.5px,#cdcdff 59.0px,#a6a6ff 62.8px,#3f3fff 71.0px,#1b1bff 74.8px,#0202ff 78.5px,#0101ff 91.8px,#1a1aff 95.5px,#3e3eff 99.3px,#b6b6ff 109.0px,#d7d7ff 112.5px,#ebebff 116.0px,#f8f8ff 120.5px,#fefeff 128.5px,#ffffff 169.8px)"></i><i style="top:175.00px;height:1.00px;background:linear-gradient(90deg,#ffffff 0.0px,#fdfdff 45.5px,#f5f5ff 51.5px,#e6e6ff 55.5px,#ceceff 59.0px,#a8a8ff 62.8px,#3e3eff 71.3px,#1a1aff 75.0px,#0101ff 78.8px,#0101ff 91.8px,#1b1bff 95.5px,#4040ff 99.3px,#b5b5ff 108.8px,#d6d6ff 112.3px,#ebebff 115.8px,#f8f8ff 120.3px,#fefeff 128.0px,#ffffff 169.8px)"></i><i style="top:176.00px;height:1.00px;background:linear-gradient(90deg,#ffffff 0.0px,#fdfdff 45.8px,#f5f5ff 51.8px,#e6e6ff 55.8px,#cdcdff 59.3px,#a7a7ff 63.0px,#3d3dff 71.5px,#1919ff 75.3px,#0000ff 79.0px,#0101ff 91.5px,#1a1aff 95.3px,#3f3fff 99.0px,#b4b4ff 108.5px,#d5d5ff 112.0px,#eaeaff 115.5px,#f8f8ff 120.0px,#fefeff 127.8px,#ffffff 169.8px)"></i><i style="top:177.00px;height:1.00px;background:linear-gradient(90deg,#ffffff 0.0px,#fdfdff 45.8px,#f5f5ff 51.8px,#e6e6ff 55.8px,#cfcfff 59.3px,#a9a9ff 63.0px,#3c3cff 71.8px,#1818ff 75.5px,#0101ff 79.0px,#0000ff 91.3px,#1919ff 95.0px,#3e3eff 98.8px,#b3b3ff 108.3px,#d4d4ff 111.8px,#eaeaff 115.3px,#f7f7ff 119.5px,#fefeff 126.8px,#ffffff 169.8px)"></i><i style="top:178.00px;height:1.00px;background:linear-gradient(90deg,#ffffff 0.0px,#fdfdff 46.0px,#f5f5ff 52.0px,#e6e6ff 56.0px,#ceceff 59.5px,#a8a8ff 63.3px,#3c3cff 72.0px,#1818ff 75.8px,#0101ff 79.3px,#0000ff 91.0px,#1717ff 94.5px,#3a3aff 98.3px,#8181ff 104.0px,#babaff 108.8px,#d9d9ff 112.3px,#ededff 116.0px,#f9f9ff 120.8px,#ffffff 130.0px,#ffffff 169.8px)"></i><i style="top:179.00px;height:1.00px;background:linear-gradient(90deg,#ffffff 0.0px,#fdfdff 46.0px,#f4f4ff 52.3px,#e5e5ff 56.3px,#cdcdff 59.8px,#a7a7ff 63.5px,#3b3bff 72.3px,#1717ff 76.0px,#0101ff 79.5px,#0101ff 90.8px,#1717ff 94.3px,#3a3aff 98.0px,#8080ff 103.8px,#b9b9ff 108.5px,#d8d8ff 112.0px,#ededff 115.8px,#f9f9ff 120.5px,#ffffff 129.5px,#ffffff 169.8px)"></i><i style="top:180.00px;height:1.00px;background:linear-gradient(90deg,#ffffff 0.0px,#fdfdff 46.0px,#f5f5ff 52.3px,#e6e6ff 56.3px,#ceceff 59.8px,#a9a9ff 63.5px,#3e3eff 72.3px,#1a1aff 76.0px,#0303ff 79.5px,#0000ff 81.0px,#0101ff 90.5px,#1717ff 94.0px,#3a3aff 97.8px,#7d7dff 103.3px,#b6b6ff 108.0px,#d6d6ff 111.5px,#ebebff 115.3px,#f8f8ff 119.8px,#fefeff 127.8px,#ffffff 169.8px)"></i><i style="top:181.00px;height:1.00px;background:linear-gradient(90deg,#ffffff 0.0px,#fdfdff 46.3px,#f5f5ff 52.5px,#e5e5ff 56.5px,#ceceff 60.0px,#a8a8ff 63.8px,#3d3dff 72.5px,#1a1aff 76.3px,#0303ff 79.8px,#0000ff 81.0px,#0101ff 90.0px,#1515ff 93.5px,#3737ff 97.3px,#7676ff 102.5px,#b5b5ff 107.8px,#d5d5ff 111.3px,#ebebff 115.0px,#f8f8ff 119.5px,#fefeff 127.5px,#ffffff 169.8px)"></i><i style="top:182.00px;height:1.00px;background:linear-gradient(90deg,#ffffff 0.0px,#fdfdff 46.3px,#f5f5ff 52.5px,#e5e5ff 56.8px,#cdcdff 60.3px,#a8a8ff 64.0px,#3e3eff 72.8px,#1a1aff 76.5px,#0404ff 80.0px,#0000ff 81.5px,#0101ff 89.5px,#1414ff 93.0px,#3535ff 96.8px,#6c6cff 101.5px,#b2b2ff 107.3px,#d4d4ff 111.0px,#ebebff 114.8px,#f8f8ff 119.3px,#fefeff 127.0px,#ffffff 169.8px)"></i><i style="top:183.00px;height:1.00px;background:linear-gradient(90deg,#ffffff 0.0px,#fdfdff 46.5px,#f5f5ff 52.8px,#e5e5ff 57.0px,#cdcdff 60.5px,#a7a7ff 64.3px,#3e3eff 73.0px,#1b1bff 76.8px,#0606ff 80.3px,#0000ff 82.3px,#0101ff 89.0px,#1313ff 92.5px,#3333ff 96.3px,#6969ff 101.0px,#b1b1ff 107.0px,#d4d4ff 110.8px,#eaeaff 114.5px,#f8f8ff 119.0px,#fefeff 126.8px,#ffffff 169.8px)"></i><i style="top:184.00px;height:1.00px;background:linear-gradient(90deg,#ffffff 0.0px,#fdfdff 46.5px,#f5f5ff 52.8px,#e5e5ff 57.0px,#ceceff 60.5px,#a9a9ff 64.3px,#3f3fff 73.3px,#1c1cff 77.0px,#0707ff 80.5px,#0000ff 83.3px,#0202ff 88.3px,#1111ff 91.8px,#2c2cff 95.3px,#5a5aff 99.5px,#b1b1ff 106.8px,#d3d3ff 110.5px,#eaeaff 114.3px,#f7f7ff 118.8px,#fefeff 126.3px,#ffffff 169.8px)"></i><i style="top:185.00px;height:1.00px;background:linear-gradient(90deg,#ffffff 0.0px,#fdfdff 46.8px,#f5f5ff 53.0px,#e5e5ff 57.3px,#ccccff 61.0px,#a4a4ff 65.0px,#4242ff 73.3px,#1f1fff 77.0px,#0a0aff 80.5px,#0101ff 84.0px,#0303ff 87.5px,#1010ff 91.0px,#2929ff 94.5px,#5151ff 98.5px,#b3b3ff 106.8px,#d5d5ff 110.5px,#eaeaff 114.3px,#f8f8ff 118.8px,#fefeff 126.5px,#ffffff 169.8px)"></i><i style="top:186.00px;height:1.00px;background:linear-gradient(90deg,#ffffff 0.0px,#fdfdff 46.8px,#f5f5ff 53.0px,#e6e6ff 57.3px,#cdcdff 61.0px,#a6a6ff 65.0px,#4343ff 73.5px,#2121ff 77.3px,#0c0cff 80.8px,#0404ff 84.3px,#0606ff 87.8px,#1515ff 91.3px,#2f2fff 94.8px,#5b5bff 99.0px,#b3b3ff 106.5px,#d4d4ff 110.3px,#eaeaff 114.0px,#f8f8ff 118.5px,#fefeff 126.3px,#ffffff 169.8px)"></i><i style="top:187.00px;height:1.00px;background:linear-gradient(90deg,#ffffff 0.0px,#fdfdff 47.0px,#f5f5ff 53.3px,#e6e6ff 57.5px,#cdcdff 61.3px,#a6a6ff 65.3px,#4444ff 73.8px,#2323ff 77.5px,#0f0fff 81.0px,#0707ff 84.5px,#0a0aff 88.0px,#1a1aff 91.5px,#3737ff 95.3px,#6767ff 99.8px,#b5b5ff 106.5px,#d6d6ff 110.3px,#ebebff 114.0px,#f8f8ff 118.8px,#fefeff 127.0px,#ffffff 169.8px)"></i><i style="top:188.00px;height:1.00px;background:linear-gradient(90deg,#ffffff 0.0px,#fdfdff 47.3px,#f5f5ff 53.5px,#e5e5ff 57.8px,#cdcdff 61.5px,#a6a6ff 65.5px,#4545ff 74.0px,#2525ff 77.8px,#1212ff 81.3px,#0a0aff 84.8px,#0f0fff 88.3px,#1f1fff 91.8px,#3d3dff 95.5px,#7474ff 100.5px,#b7b7ff 106.5px,#d7d7ff 110.3px,#ececff 114.0px,#f9f9ff 118.8px,#fefeff 127.3px,#ffffff 169.8px)"></i><i style="top:189.00px;height:1.00px;background:linear-gradient(90deg,#ffffff 0.0px,#fdfdff 47.3px,#f5f5ff 53.8px,#e5e5ff 58.0px,#ccccff 61.8px,#a6a6ff 65.8px,#4747ff 74.3px,#2727ff 78.0px,#1515ff 81.5px,#0e0eff 85.0px,#1414ff 88.5px,#2525ff 92.0px,#4444ff 95.8px,#8080ff 101.3px,#babaff 106.5px,#d9d9ff 110.3px,#ededff 114.3px,#fafaff 119.3px,#ffffff 129.0px,#ffffff 169.8px)"></i><i style="top:190.00px;height:1.00px;background:linear-gradient(90deg,#ffffff 0.0px,#fdfdff 47.5px,#f4f4ff 54.0px,#e5e5ff 58.3px,#ccccff 62.0px,#a4a4ff 66.3px,#4b4bff 74.3px,#2c2cff 78.0px,#1919ff 81.5px,#1212ff 85.0px,#1818ff 88.5px,#2929ff 92.0px,#4848ff 95.8px,#8a8aff 101.8px,#bfbfff 106.8px,#dcdcff 110.5px,#efefff 114.5px,#fafaff 119.8px,#ffffff 131.0px,#ffffff 169.8px)"></i><i style="top:191.00px;height:1.00px;background:linear-gradient(90deg,#ffffff 0.0px,#fdfdff 47.5px,#f5f5ff 54.0px,#e5e5ff 58.5px,#ccccff 62.3px,#a4a4ff 66.5px,#4d4dff 74.5px,#2e2eff 78.3px,#1c1cff 81.8px,#1717ff 85.3px,#1d1dff 88.8px,#2f2fff 92.3px,#5151ff 96.3px,#babaff 106.0px,#dadaff 110.0px,#eeeeff 114.0px,#fafaff 119.3px,#ffffff 129.8px,#ffffff 169.8px)"></i><i style="top:192.00px;height:1.00px;background:linear-gradient(90deg,#ffffff 0.0px,#fdfdff 47.8px,#f5f5ff 54.3px,#e4e4ff 58.8px,#cacaff 62.8px,#9f9fff 67.3px,#4f4fff 74.8px,#3131ff 78.5px,#2020ff 82.0px,#1b1bff 85.3px,#2222ff 88.8px,#3434ff 92.3px,#5656ff 96.3px,#babaff 105.8px,#dadaff 109.8px,#eeeeff 113.8px,#fafaff 119.0px,#ffffff 129.5px,#ffffff 169.8px)"></i><i style="top:193.00px;height:1.00px;background:linear-gradient(90deg,#ffffff 0.0px,#fdfdff 48.0px,#f5f5ff 54.5px,#e4e4ff 59.0px,#cacaff 63.0px,#a0a0ff 67.5px,#5252ff 75.0px,#3535ff 78.8px,#2424ff 82.3px,#2020ff 85.5px,#2727ff 89.0px,#3b3bff 92.5px,#5d5dff 96.5px,#babaff 105.5px,#dadaff 109.5px,#eeeeff 113.5px,#fafaff 118.8px,#ffffff 129.0px,#ffffff 169.8px)"></i><i style="top:194.00px;height:1.00px;background:linear-gradient(90deg,#ffffff 0.0px,#fdfdff 48.0px,#f5f5ff 54.5px,#e5e5ff 59.0px,#ccccff 63.0px,#a3a3ff 67.5px,#5757ff 75.0px,#3a3aff 78.8px,#2929ff 82.3px,#2525ff 85.5px,#2d2dff 89.0px,#4040ff 92.5px,#6464ff 96.8px,#bdbdff 105.5px,#dbdbff 109.5px,#efefff 113.8px,#fbfbff 119.3px,#ffffff 131.3px,#ffffff 169.8px)"></i><i style="top:195.00px;height:1.00px;background:linear-gradient(90deg,#ffffff 0.0px,#fdfdff 48.3px,#f5f5ff 54.8px,#e5e5ff 59.3px,#cdcdff 63.3px,#a2a2ff 68.0px,#5959ff 75.3px,#3d3dff 79.0px,#2e2eff 82.5px,#2b2bff 85.8px,#3333ff 89.3px,#4646ff 92.8px,#6b6bff 97.0px,#bdbdff 105.3px,#dbdbff 109.3px,#efefff 113.5px,#fbfbff 119.0px,#ffffff 131.0px,#ffffff 169.8px)"></i><i style="top:196.00px;height:1.00px;background:linear-gradient(90deg,#ffffff 0.0px,#fdfdff 48.5px,#f5f5ff 55.0px,#e5e5ff 59.5px,#cdcdff 63.5px,#a3a3ff 68.3px,#5c5cff 75.5px,#4141ff 79.3px,#3333ff 82.8px,#3030ff 86.0px,#3939ff 89.5px,#4f4fff 93.3px,#7979ff 98.0px,#c0c0ff 105.3px,#dedeff 109.5px,#f1f1ff 113.8px,#fbfbff 119.5px,#ffffff 133.8px,#ffffff 169.8px)"></i><i style="top:197.00px;height:1.00px;background:linear-gradient(90deg,#ffffff 0.0px,#fdfdff 48.5px,#f5f5ff 55.3px,#e5e5ff 59.8px,#cbcbff 64.0px,#9f9fff 69.0px,#5f5fff 75.8px,#4545ff 79.5px,#3838ff 83.0px,#3636ff 86.5px,#4141ff 90.0px,#5858ff 93.8px,#8888ff 99.0px,#c3c3ff 105.3px,#e0e0ff 109.5px,#f2f2ff 114.0px,#fcfcff 120.0px,#ffffff 137.8px,#ffffff 169.8px)"></i><i style="top:198.00px;height:1.00px;background:linear-gradient(90deg,#ffffff 0.0px,#fdfdff 48.8px,#f5f5ff 55.5px,#e4e4ff 60.3px,#cacaff 64.5px,#9999ff 70.0px,#6060ff 76.3px,#4848ff 80.0px,#3c3cff 83.5px,#3d3dff 87.0px,#4949ff 90.5px,#6464ff 94.5px,#c5c5ff 105.3px,#e1e1ff 109.5px,#f3f3ff 114.0px,#fcfcff 120.3px,#ffffff 141.5px,#ffffff 169.8px)"></i><i style="top:199.00px;height:1.00px;background:linear-gradient(90deg,#ffffff 0.0px,#fdfdff 49.0px,#f5f5ff 55.8px,#e4e4ff 60.5px,#cacaff 64.8px,#9999ff 70.5px,#6464ff 76.5px,#4d4dff 80.3px,#4242ff 83.8px,#4343ff 87.3px,#5050ff 90.8px,#6b6bff 94.8px,#c6c6ff 105.0px,#e1e1ff 109.3px,#f2f2ff 113.8px,#fcfcff 120.0px,#ffffff 141.0px,#ffffff 169.8px)"></i><i style="top:200.00px;height:1.00px;background:linear-gradient(90deg,#ffffff 0.0px,#fdfdff 49.3px,#f5f5ff 56.0px,#e4e4ff 60.8px,#cbcbff 65.0px,#9898ff 71.0px,#6767ff 76.8px,#5151ff 80.5px,#4848ff 84.0px,#4949ff 87.5px,#5757ff 91.0px,#7474ff 95.3px,#c6c6ff 104.8px,#e3e3ff 109.3px,#f4f4ff 114.0px,#fdfdff 120.8px,#ffffff 156.8px,#ffffff 169.8px)"></i><i style="top:201.00px;height:1.00px;background:linear-gradient(90deg,#ffffff 0.0px,#fdfdff 49.3px,#f4f4ff 56.3px,#e5e5ff 61.0px,#cacaff 65.5px,#8d8dff 72.8px,#6666ff 77.8px,#5353ff 81.5px,#4d4dff 85.0px,#5252ff 88.5px,#6464ff 92.3px,#8888ff 97.0px,#c9c9ff 104.8px,#e4e4ff 109.3px,#f4f4ff 114.0px,#fdfdff 120.8px,#ffffff 163.5px,#ffffff 169.8px)"></i><i style="top:202.00px;height:1.00px;background:linear-gradient(90deg,#ffffff 0.0px,#fdfdff 49.5px,#f4f4ff 56.5px,#e5e5ff 61.3px,#cacaff 65.8px,#7070ff 77.0px,#5b5bff 81.0px,#5353ff 84.5px,#5757ff 88.0px,#6666ff 91.8px,#8888ff 96.5px,#cacaff 104.5px,#e4e4ff 109.0px,#f5f5ff 114.0px,#fdfdff 121.0px,#ffffff 169.8px)"></i><i style="top:203.00px;height:1.00px;background:linear-gradient(90deg,#ffffff 0.0px,#fdfdff 49.8px,#f4f4ff 56.8px,#e4e4ff 61.8px,#c8c8ff 66.5px,#7676ff 77.0px,#6161ff 81.0px,#5959ff 84.5px,#5d5dff 88.0px,#6c6cff 91.8px,#8d8dff 96.5px,#ccccff 104.5px,#e7e7ff 109.3px,#f6f6ff 114.3px,#fefeff 121.8px,#ffffff 169.8px)"></i><i style="top:204.00px;height:1.00px;background:linear-gradient(90deg,#ffffff 0.0px,#fdfdff 50.0px,#f4f4ff 57.0px,#e4e4ff 62.0px,#c9c9ff 66.8px,#7a7aff 77.3px,#6666ff 81.3px,#5f5fff 84.8px,#6363ff 88.3px,#7373ff 92.0px,#9898ff 97.3px,#cfcfff 104.5px,#e8e8ff 109.3px,#f7f7ff 114.5px,#fefeff 122.8px,#ffffff 169.8px)"></i><i style="top:205.00px;height:1.00px;background:linear-gradient(90deg,#ffffff 0.0px,#fdfdff 50.3px,#f5f5ff 57.3px,#e4e4ff 62.3px,#c8c8ff 67.3px,#7f7fff 77.3px,#6c6cff 81.3px,#6565ff 85.0px,#6b6bff 88.8px,#7d7dff 92.8px,#acacff 99.3px,#d6d6ff 105.3px,#ececff 110.0px,#f9f9ff 115.5px,#ffffff 125.3px,#ffffff 169.8px)"></i><i style="top:206.00px;height:1.00px;background:linear-gradient(90deg,#ffffff 0.0px,#fdfdff 50.3px,#f5f5ff 57.5px,#e4e4ff 62.8px,#c7c7ff 67.8px,#8383ff 77.5px,#7171ff 81.5px,#6b6bff 85.3px,#7272ff 89.0px,#8686ff 93.3px,#d5d5ff 104.8px,#ececff 109.8px,#f9f9ff 115.5px,#ffffff 125.8px,#ffffff 169.8px)"></i><i style="top:207.00px;height:1.00px;background:linear-gradient(90deg,#ffffff 0.0px,#fdfdff 50.5px,#f5f5ff 57.8px,#e4e4ff 63.0px,#c7c7ff 68.3px,#8989ff 77.5px,#7676ff 81.8px,#7272ff 85.5px,#7878ff 89.3px,#8c8cff 93.5px,#d6d6ff 104.5px,#ececff 109.5px,#f9f9ff 115.3px,#ffffff 125.5px,#ffffff 169.8px)"></i><i style="top:208.00px;height:1.00px;background:linear-gradient(90deg,#ffffff 0.0px,#fdfdff 50.8px,#f5f5ff 58.0px,#e4e4ff 63.3px,#c7c7ff 68.8px,#8d8dff 77.8px,#7c7cff 82.0px,#7878ff 85.8px,#7f7fff 89.5px,#9494ff 94.0px,#d8d8ff 104.5px,#eeeeff 109.8px,#fafaff 115.8px,#ffffff 127.5px,#ffffff 169.8px)"></i><i style="top:209.00px;height:1.00px;background:linear-gradient(90deg,#ffffff 0.0px,#fdfdff 51.0px,#f4f4ff 58.5px,#e3e3ff 64.0px,#c3c3ff 69.8px,#9292ff 77.8px,#8181ff 82.0px,#7e7eff 85.8px,#8686ff 89.8px,#9c9cff 94.5px,#dadaff 104.5px,#efefff 109.8px,#fbfbff 116.0px,#ffffff 129.0px,#ffffff 169.8px)"></i><i style="top:210.00px;height:1.00px;background:linear-gradient(90deg,#ffffff 0.0px,#fdfdff 51.3px,#f4f4ff 58.8px,#e3e3ff 64.3px,#c3c3ff 70.3px,#9696ff 78.0px,#8787ff 82.3px,#8484ff 86.3px,#8d8dff 90.3px,#a6a6ff 95.3px,#dbdbff 104.3px,#efefff 109.5px,#fbfbff 115.8px,#ffffff 129.0px,#ffffff 169.8px)"></i><i style="top:211.00px;height:1.00px;background:linear-gradient(90deg,#ffffff 0.0px,#fdfdff 51.5px,#f4f4ff 59.0px,#e4e4ff 64.5px,#c4c4ff 70.8px,#9a9aff 78.3px,#8c8cff 82.5px,#8a8aff 86.5px,#9494ff 90.8px,#b0b0ff 96.3px,#dedeff 104.5px,#f1f1ff 110.0px,#fcfcff 116.8px,#ffffff 135.0px,#ffffff 169.8px)"></i><i style="top:212.00px;height:1.00px;background:linear-gradient(90deg,#ffffff 0.0px,#fdfdff 51.8px,#f5f5ff 59.3px,#e3e3ff 65.0px,#c1c1ff 71.8px,#9d9dff 78.8px,#9191ff 83.0px,#9090ff 87.0px,#9b9bff 91.3px,#bcbcff 97.8px,#e2e2ff 105.0px,#f4f4ff 110.8px,#fdfdff 118.3px,#ffffff 160.8px,#ffffff 169.8px)"></i><i style="top:213.00px;height:1.00px;background:linear-gradient(90deg,#ffffff 0.0px,#fdfdff 52.0px,#f4f4ff 59.8px,#e3e3ff 65.5px,#bcbcff 73.3px,#9f9fff 79.5px,#9595ff 83.8px,#9797ff 88.0px,#a7a7ff 92.8px,#e3e3ff 104.8px,#f4f4ff 110.5px,#fdfdff 118.3px,#ffffff 169.8px)"></i><i style="top:214.00px;height:1.00px;background:linear-gradient(90deg,#ffffff 0.0px,#fdfdff 52.3px,#f4f4ff 60.0px,#e3e3ff 66.0px,#a6a6ff 79.0px,#9b9bff 83.5px,#9c9cff 87.8px,#aaaaff 92.5px,#e4e4ff 104.8px,#f5f5ff 110.8px,#fdfdff 119.0px,#ffffff 169.8px)"></i><i style="top:215.00px;height:1.00px;background:linear-gradient(90deg,#ffffff 0.0px,#fdfdff 52.5px,#f5f5ff 60.3px,#e2e2ff 66.5px,#aaaaff 79.0px,#a0a0ff 83.5px,#a1a1ff 87.8px,#afafff 92.5px,#e6e6ff 104.8px,#f6f6ff 111.0px,#fefeff 119.8px,#ffffff 169.8px)"></i><i style="top:216.00px;height:1.00px;background:linear-gradient(90deg,#ffffff 0.0px,#fdfdff 52.8px,#f4f4ff 60.8px,#e2e2ff 67.0px,#aeaeff 79.3px,#a5a5ff 84.0px,#a8a8ff 88.5px,#b8b8ff 93.8px,#e6e6ff 104.5px,#f6f6ff 110.8px,#fefeff 119.8px,#ffffff 169.8px)"></i><i style="top:217.00px;height:1.00px;background:linear-gradient(90deg,#ffffff 0.0px,#fdfdff 53.0px,#f4f4ff 61.0px,#e2e2ff 67.5px,#b3b3ff 79.3px,#aaaaff 84.0px,#acacff 88.5px,#bdbdff 94.0px,#e9e9ff 104.8px,#f8f8ff 111.3px,#fefeff 121.0px,#ffffff 169.8px)"></i><i style="top:218.00px;height:1.00px;background:linear-gradient(90deg,#ffffff 0.0px,#fdfdff 53.3px,#f4f4ff 61.5px,#e1e1ff 68.3px,#b6b6ff 79.5px,#aeaeff 84.3px,#b2b2ff 89.0px,#c5c5ff 95.0px,#eaeaff 104.8px,#f8f8ff 111.5px,#fefeff 122.0px,#ffffff 169.8px)"></i><i style="top:219.00px;height:1.00px;background:linear-gradient(90deg,#ffffff 0.0px,#fdfdff 53.5px,#f4f4ff 61.8px,#e1e1ff 68.8px,#bbbbff 79.5px,#b3b3ff 84.5px,#b7b7ff 89.3px,#cacaff 95.5px,#ececff 105.0px,#f9f9ff 112.0px,#ffffff 124.0px,#ffffff 169.8px)"></i><i style="top:220.00px;height:1.00px;background:linear-gradient(90deg,#ffffff 0.0px,#fdfdff 54.0px,#f4f4ff 62.5px,#e0e0ff 69.8px,#bebeff 79.8px,#b7b7ff 84.8px,#bcbcff 89.8px,#d3d3ff 97.0px,#efefff 105.5px,#fbfbff 113.0px,#ffffff 128.0px,#ffffff 169.8px)"></i><i style="top:221.00px;height:1.00px;background:linear-gradient(90deg,#ffffff 0.0px,#fdfdff 54.3px,#f4f4ff 62.8px,#e0e0ff 70.3px,#c1c1ff 80.0px,#bbbbff 85.3px,#c2c2ff 90.5px,#f0f0ff 105.8px,#fbfbff 113.5px,#ffffff 131.3px,#ffffff 169.8px)"></i><i style="top:222.00px;height:1.00px;background:linear-gradient(90deg,#ffffff 0.0px,#fdfdff 54.5px,#f4f4ff 63.3px,#dfdfff 71.3px,#c5c5ff 80.3px,#c0c0ff 85.5px,#c7c7ff 91.0px,#f1f1ff 105.5px,#fcfcff 113.5px,#ffffff 133.0px,#ffffff 169.8px)"></i><i style="top:223.00px;height:1.00px;background:linear-gradient(90deg,#ffffff 0.0px,#fdfdff 54.8px,#f4f4ff 63.5px,#dfdfff 72.0px,#c8c8ff 80.5px,#c4c4ff 86.0px,#ccccff 91.8px,#f2f2ff 105.5px,#fcfcff 114.0px,#ffffff 139.3px,#ffffff 169.8px)"></i><i style="top:224.00px;height:1.00px;background:linear-gradient(90deg,#ffffff 0.0px,#fdfdff 55.3px,#f4f4ff 64.3px,#dbdbff 74.0px,#cacaff 81.5px,#c8c8ff 87.0px,#d3d3ff 93.3px,#f3f3ff 105.5px,#fdfdff 114.3px,#ffffff 146.5px,#ffffff 169.8px)"></i><i style="top:225.00px;height:1.00px;background:linear-gradient(90deg,#ffffff 0.0px,#fdfdff 55.5px,#f4f4ff 64.8px,#ceceff 81.0px,#cbcbff 86.8px,#d6d6ff 93.3px,#f4f4ff 105.8px,#fdfdff 115.0px,#ffffff 169.8px)"></i><i style="top:226.00px;height:1.00px;background:linear-gradient(90deg,#ffffff 0.0px,#fdfdff 55.8px,#f4f4ff 65.3px,#d1d1ff 81.3px,#cfcfff 87.3px,#dbdbff 94.3px,#f5f5ff 106.0px,#fdfdff 115.8px,#ffffff 169.8px)"></i><i style="top:227.00px;height:1.00px;background:linear-gradient(90deg,#ffffff 0.0px,#fdfdff 56.0px,#f4f4ff 65.5px,#d4d4ff 81.3px,#d2d2ff 87.3px,#dedeff 94.5px,#f6f6ff 106.3px,#fefeff 116.8px,#ffffff 169.8px)"></i><i style="top:228.00px;height:1.00px;background:linear-gradient(90deg,#ffffff 0.0px,#fdfdff 56.5px,#f4f4ff 66.3px,#d7d7ff 81.5px,#d6d6ff 87.8px,#e3e3ff 96.0px,#f7f7ff 106.8px,#fefeff 118.0px,#ffffff 169.8px)"></i></div><div class="hm" style="left:350.60px;top:23.00px;width:169.80px;height:229.00px"><i style="top:0.00px;height:1.00px;background:linear-gradient(90deg,#ffffff 0.0px,#fdfdff 57.5px,#f6f6ff 75.3px,#ffffff 85.2px,#fff6f6 95.5px,#ffffff 123.8px,#ffffff 169.8px)"></i><i style="top:1.00px;height:1.00px;background:linear-gradient(90deg,#ffffff 0.0px,#fdfdff 57.0px,#f5f5ff 75.0px,#ffffff 85.0px,#ffffff 85.2px,#fff5f5 95.3px,#fffbfb 109.8px,#ffffff 132.8px,#ffffff 169.8px)"></i><i style="top:2.00px;height:1.00px;background:linear-gradient(90deg,#ffffff 0.0px,#fdfdff 56.5px,#f5f5ff 74.8px,#fdfdff 84.0px,#ffffff 85.2px,#fff5f5 94.8px,#fff9f9 105.8px,#ffffff 122.8px,#ffffff 169.8px)"></i><i style="top:3.00px;height:1.00px;background:linear-gradient(90deg,#ffffff 0.0px,#fdfdff 56.3px,#f4f4ff 74.5px,#fcfcff 83.0px,#ffffff 85.2px,#fff4f4 94.5px,#fff7f7 104.5px,#fffefe 120.8px,#ffffff 169.8px)"></i><i style="top:4.00px;height:1.00px;background:linear-gradient(90deg,#ffffff 0.0px,#fdfdff 55.8px,#f3f3ff 74.3px,#fafaff 82.3px,#ffffff 85.2px,#fff3f3 94.3px,#fff5f5 103.3px,#fffefe 119.5px,#ffffff 169.8px)"></i><i style="top:5.00px;height:1.00px;background:linear-gradient(90deg,#ffffff 0.0px,#fdfdff 55.3px,#f2f2ff 74.0px,#f9f9ff 81.8px,#ffffff 85.2px,#fff3f3 94.0px,#fff4f4 102.5px,#fffefe 118.5px,#ffffff 169.8px)"></i><i style="top:6.00px;height:1.00px;background:linear-gradient(90deg,#ffffff 0.0px,#fdfdff 54.8px,#f1f1ff 73.8px,#f7f7ff 81.0px,#ffffff 85.2px,#fff2f2 94.0px,#fff3f3 102.0px,#fffefe 118.0px,#ffffff 169.8px)"></i><i style="top:7.00px;height:1.00px;background:linear-gradient(90deg,#ffffff 0.0px,#fdfdff 54.5px,#f0f0ff 73.8px,#f6f6ff 80.8px,#ffffff 85.2px,#fff1f1 93.8px,#fff1f1 101.3px,#fffefe 117.5px,#ffffff 169.8px)"></i><i style="top:8.00px;height:1.00px;background:linear-gradient(90deg,#ffffff 0.0px,#fdfdff 54.0px,#eeeeff 73.5px,#f5f5ff 80.3px,#ffffff 85.2px,#fff0f0 93.5px,#fff0f0 100.5px,#fffdfd 117.3px,#ffffff 169.8px)"></i><i style="top:9.00px;height:1.00px;background:linear-gradient(90deg,#ffffff 0.0px,#fdfdff 53.8px,#ededff 73.3px,#f3f3ff 79.8px,#ffffff 85.2px,#ffefef 93.3px,#ffeeee 100.0px,#fffdfd 117.0px,#ffffff 169.8px)"></i><i style="top:10.00px;height:1.00px;background:linear-gradient(90deg,#ffffff 0.0px,#fdfdff 53.3px,#f1f1ff 66.0px,#ececff 74.0px,#f3f3ff 80.3px,#ffffff 85.2px,#ffeeee 93.0px,#ffeded 99.5px,#fffdfd 116.8px,#ffffff 164.3px,#ffffff 169.8px)"></i><i style="top:11.00px;height:1.00px;background:linear-gradient(90deg,#ffffff 0.0px,#fdfdff 53.0px,#f2f2ff 65.0px,#eaeaff 73.3px,#f0f0ff 79.3px,#ffffff 85.2px,#ffeded 93.0px,#ffebeb 99.3px,#fffdfd 116.5px,#ffffff 150.5px,#ffffff 169.8px)"></i><i style="top:12.00px;height:1.00px;background:linear-gradient(90deg,#ffffff 0.0px,#fdfdff 52.5px,#f2f2ff 63.8px,#e9e9ff 72.8px,#eeeeff 78.5px,#ffffff 85.2px,#ffecec 92.8px,#ffe9e9 98.8px,#fffcfc 116.5px,#ffffff 145.5px,#ffffff 169.8px)"></i><i style="top:13.00px;height:1.00px;background:linear-gradient(90deg,#ffffff 0.0px,#fdfdff 52.3px,#f2f2ff 63.0px,#e8e8ff 72.3px,#ececff 78.0px,#ffffff 85.2px,#ffecec 92.5px,#ffe8e8 98.3px,#fffcfc 116.8px,#ffffff 144.5px,#ffffff 169.8px)"></i><i style="top:14.00px;height:1.00px;background:linear-gradient(90deg,#ffffff 0.0px,#fdfdff 52.0px,#f3f3ff 62.3px,#e6e6ff 72.0px,#eaeaff 77.5px,#fdfdff 84.5px,#ffffff 85.2px,#ffeaea 92.5px,#ffe6e6 98.0px,#fff0f0 106.5px,#fffcfc 117.0px,#ffffff 143.3px,#ffffff 169.8px)"></i><i style="top:15.00px;height:1.00px;background:linear-gradient(90deg,#ffffff 0.0px,#fdfdff 51.5px,#f3f3ff 61.5px,#e4e4ff 71.8px,#e7e7ff 77.0px,#f8f8ff 83.3px,#ffffff 85.2px,#ffe9e9 92.3px,#ffe4e4 97.5px,#ffecec 104.8px,#fffbfb 115.5px,#ffffff 132.0px,#ffffff 169.8px)"></i><i style="top:16.00px;height:1.00px;background:linear-gradient(90deg,#ffffff 0.0px,#fdfdff 51.3px,#f3f3ff 61.0px,#e3e3ff 71.5px,#e5e5ff 76.8px,#f6f6ff 82.8px,#ffffff 85.2px,#ffe8e8 92.3px,#ffe2e2 97.5px,#ffeaea 104.3px,#fffafa 115.3px,#ffffff 130.0px,#ffffff 169.8px)"></i><i style="top:17.00px;height:1.00px;background:linear-gradient(90deg,#ffffff 0.0px,#fdfdff 51.0px,#f3f3ff 60.5px,#e1e1ff 71.3px,#e3e3ff 76.3px,#f2f2ff 81.8px,#ffffff 85.2px,#ffe7e7 92.0px,#ffe1e1 97.0px,#ffe6e6 103.0px,#fffafa 114.8px,#ffffff 127.8px,#ffffff 169.8px)"></i><i style="top:18.00px;height:1.00px;background:linear-gradient(90deg,#ffffff 0.0px,#fdfdff 50.5px,#f3f3ff 59.8px,#dfdfff 71.0px,#e1e1ff 76.0px,#efefff 81.3px,#ffffff 85.2px,#ffe6e6 92.0px,#ffdfdf 96.8px,#ffe4e4 102.5px,#fff9f9 114.5px,#ffffff 126.5px,#ffffff 169.8px)"></i><i style="top:19.00px;height:1.00px;background:linear-gradient(90deg,#ffffff 0.0px,#fdfdff 50.3px,#f4f4ff 59.3px,#dedeff 70.8px,#dedeff 75.5px,#ebebff 80.5px,#ffffff 85.2px,#ffe5e5 91.8px,#ffdddd 96.5px,#ffe0e0 101.8px,#fff9f9 114.5px,#ffffff 125.8px,#ffffff 169.8px)"></i><i style="top:20.00px;height:1.00px;background:linear-gradient(90deg,#ffffff 0.0px,#fdfdff 50.0px,#f4f4ff 58.8px,#dbdbff 70.8px,#dcdcff 75.5px,#e9e9ff 80.3px,#ffffff 85.2px,#ffe3e3 91.8px,#ffdbdb 96.5px,#ffdede 101.5px,#fff8f8 114.3px,#fffefe 124.8px,#ffffff 169.8px)"></i><i style="top:21.00px;height:1.00px;background:linear-gradient(90deg,#ffffff 0.0px,#fdfdff 49.8px,#f4f4ff 58.3px,#d9d9ff 70.5px,#dadaff 75.0px,#e6e6ff 79.8px,#ffffff 85.2px,#ffe2e2 91.8px,#ffd9d9 96.3px,#ffdbdb 101.0px,#fff7f7 114.3px,#fffefe 124.3px,#ffffff 169.8px)"></i><i style="top:22.00px;height:1.00px;background:linear-gradient(90deg,#ffffff 0.0px,#fdfdff 49.5px,#f4f4ff 58.0px,#d7d7ff 70.5px,#d7d7ff 75.0px,#e4e4ff 79.5px,#ffffff 85.2px,#ffe1e1 91.5px,#ffd7d7 96.0px,#ffd8d8 100.8px,#fff7f7 114.3px,#fffefe 123.8px,#ffffff 169.8px)"></i><i style="top:23.00px;height:1.00px;background:linear-gradient(90deg,#ffffff 0.0px,#fdfdff 49.3px,#f4f4ff 57.5px,#d5d5ff 70.3px,#d5d5ff 74.8px,#e1e1ff 79.3px,#ffffff 85.2px,#ffdfdf 91.5px,#ffd5d5 95.8px,#ffd5d5 100.3px,#fff7f7 114.5px,#fffefe 123.8px,#ffffff 169.8px)"></i><i style="top:24.00px;height:1.00px;background:linear-gradient(90deg,#ffffff 0.0px,#fdfdff 49.0px,#f4f4ff 57.0px,#d3d3ff 70.3px,#d2d2ff 74.5px,#ddddff 78.8px,#fdfdff 84.8px,#ffffff 85.2px,#ffdede 91.5px,#ffd2d2 95.8px,#ffd2d2 100.0px,#ffe4e4 107.0px,#fff6f6 114.8px,#fffefe 123.8px,#ffffff 169.8px)"></i><i style="top:25.00px;height:1.00px;background:linear-gradient(90deg,#ffffff 0.0px,#fdfdff 48.8px,#f4f4ff 56.8px,#d0d0ff 70.0px,#cfcfff 74.3px,#dbdbff 78.5px,#f9f9ff 84.3px,#ffffff 85.2px,#ffdddd 91.3px,#ffd0d0 95.5px,#ffd0d0 99.8px,#ffdede 105.8px,#fff5f5 114.0px,#fffdfd 122.3px,#ffffff 169.8px)"></i><i style="top:26.00px;height:1.00px;background:linear-gradient(90deg,#ffffff 0.0px,#fdfdff 48.3px,#f4f4ff 56.3px,#ddddff 64.3px,#cdcdff 70.3px,#cdcdff 74.3px,#d8d8ff 78.3px,#f4f4ff 83.5px,#ffffff 85.2px,#ffdcdc 91.3px,#ffcece 95.3px,#ffcccc 99.3px,#ffd8d8 104.5px,#fff3f3 113.5px,#fffdfd 121.3px,#ffffff 152.5px,#ffffff 169.8px)"></i><i style="top:27.00px;height:1.00px;background:linear-gradient(90deg,#ffffff 0.0px,#fdfdff 48.0px,#f4f4ff 55.8px,#e0e0ff 63.0px,#cbcbff 69.8px,#cacaff 73.8px,#d4d4ff 77.8px,#ededff 82.5px,#ffffff 85.2px,#ffdada 91.3px,#ffcccc 95.3px,#ffcaca 99.3px,#ffd5d5 104.3px,#fff2f2 113.5px,#fffcfc 121.0px,#ffffff 145.3px,#ffffff 169.8px)"></i><i style="top:28.00px;height:1.00px;background:linear-gradient(90deg,#ffffff 0.0px,#fdfdff 47.8px,#f4f4ff 55.5px,#e0e0ff 62.5px,#cacaff 69.3px,#c6c6ff 73.3px,#cfcfff 77.0px,#e6e6ff 81.5px,#ffffff 85.2px,#ffd8d8 91.3px,#ffc9c9 95.3px,#ffc6c6 99.0px,#ffd1d1 103.8px,#fff1f1 113.3px,#fffcfc 120.3px,#ffffff 137.3px,#ffffff 169.8px)"></i><i style="top:29.00px;height:1.00px;background:linear-gradient(90deg,#ffffff 0.0px,#fdfdff 47.5px,#f5f5ff 55.0px,#e1e1ff 61.5px,#c7c7ff 69.0px,#c3c3ff 73.0px,#ccccff 76.8px,#e2e2ff 81.0px,#ffffff 85.2px,#ffd8d8 91.0px,#ffc7c7 95.0px,#ffc3c3 98.8px,#ffcccc 103.0px,#fff0f0 113.5px,#fffbfb 120.3px,#ffffff 136.0px,#ffffff 169.8px)"></i><i style="top:30.00px;height:1.00px;background:linear-gradient(90deg,#ffffff 0.0px,#fdfdff 47.5px,#f4f4ff 55.0px,#e1e1ff 61.3px,#c5c5ff 68.8px,#c0c0ff 72.8px,#c8c8ff 76.5px,#dfdfff 80.8px,#ffffff 85.2px,#ffd6d6 91.0px,#ffc5c5 95.0px,#ffc0c0 98.8px,#ffc9c9 103.0px,#ffefef 113.3px,#fffbfb 119.8px,#ffffff 132.8px,#ffffff 169.8px)"></i><i style="top:31.00px;height:1.00px;background:linear-gradient(90deg,#ffffff 0.0px,#fdfdff 47.3px,#f4f4ff 54.5px,#e2e2ff 60.5px,#c2c2ff 68.5px,#bdbdff 72.3px,#c3c3ff 75.8px,#d7d7ff 79.8px,#ffffff 85.2px,#ffd4d4 91.0px,#ffc3c3 94.8px,#ffbdbd 98.3px,#ffc4c4 102.3px,#ffeeee 113.5px,#fffbfb 120.0px,#ffffff 133.0px,#ffffff 169.8px)"></i><i style="top:32.00px;height:1.00px;background:linear-gradient(90deg,#ffffff 0.0px,#fdfdff 47.0px,#f4f4ff 54.3px,#e1e1ff 60.3px,#bfbfff 68.5px,#babaff 72.3px,#c1c1ff 75.8px,#d3d3ff 79.5px,#ffffff 85.2px,#ffd3d3 91.0px,#ffc0c0 94.8px,#ffbaba 98.3px,#ffc0c0 102.0px,#ffeeee 113.8px,#fffafa 120.0px,#ffffff 132.3px,#ffffff 169.8px)"></i><i style="top:33.00px;height:1.00px;background:linear-gradient(90deg,#ffffff 0.0px,#fdfdff 46.8px,#f4f4ff 54.0px,#e2e2ff 59.8px,#bdbdff 68.3px,#b7b7ff 72.0px,#bdbdff 75.5px,#d0d0ff 79.3px,#fdfdff 85.0px,#ffffff 85.2px,#ffd1d1 91.0px,#ffbdbd 94.8px,#ffb7b7 98.3px,#ffbdbd 102.0px,#ffeded 113.8px,#fffafa 119.8px,#ffffff 130.8px,#ffffff 169.8px)"></i><i style="top:34.00px;height:1.00px;background:linear-gradient(90deg,#ffffff 0.0px,#fdfdff 46.5px,#f5f5ff 53.5px,#e3e3ff 59.0px,#babaff 68.0px,#b4b4ff 71.8px,#b9b9ff 75.0px,#c9c9ff 78.5px,#eeeeff 83.3px,#ffffff 85.2px,#ffcfcf 91.0px,#ffbbbb 94.8px,#ffb4b4 98.0px,#ffb8b8 101.5px,#ffcece 106.8px,#ffebeb 113.5px,#fff9f9 119.3px,#ffffff 129.0px,#ffffff 169.8px)"></i><i style="top:35.00px;height:1.00px;background:linear-gradient(90deg,#ffffff 0.0px,#fdfdff 46.3px,#f4f4ff 53.3px,#e3e3ff 58.8px,#b7b7ff 68.0px,#b0b0ff 71.5px,#b5b5ff 74.8px,#c6c6ff 78.3px,#e9e9ff 82.8px,#ffffff 85.2px,#ffcfcf 90.8px,#ffb9b9 94.5px,#ffb1b1 97.8px,#ffb4b4 101.3px,#ffc7c7 106.0px,#ffe9e9 113.3px,#fff8f8 118.8px,#fffefe 127.5px,#ffffff 169.8px)"></i><i style="top:36.00px;height:1.00px;background:linear-gradient(90deg,#ffffff 0.0px,#fdfdff 46.0px,#f4f4ff 53.0px,#e3e3ff 58.3px,#b5b5ff 67.8px,#adadff 71.3px,#b1b1ff 74.5px,#c2c2ff 78.0px,#e6e6ff 82.5px,#ffffff 85.2px,#ffcdcd 90.8px,#ffb6b6 94.5px,#ffadad 97.8px,#ffb0b0 101.0px,#ffc0c0 105.3px,#ffe7e7 113.0px,#fff7f7 118.5px,#fffefe 126.5px,#ffffff 169.8px)"></i><i style="top:37.00px;height:1.00px;background:linear-gradient(90deg,#ffffff 0.0px,#fdfdff 45.8px,#f4f4ff 52.8px,#e3e3ff 58.0px,#b1b1ff 67.8px,#a9a9ff 71.3px,#aeaeff 74.5px,#c0c0ff 78.0px,#e5e5ff 82.5px,#ffffff 85.2px,#ffcccc 90.8px,#ffb4b4 94.5px,#ffaaaa 97.8px,#ffacac 101.0px,#ffbcbc 105.0px,#ffe6e6 113.0px,#fff6f6 118.3px,#fffefe 125.8px,#ffffff 169.8px)"></i><i style="top:38.00px;height:1.00px;background:linear-gradient(90deg,#ffffff 0.0px,#fdfdff 45.5px,#f4f4ff 52.5px,#e4e4ff 57.5px,#afafff 67.5px,#a6a6ff 71.0px,#aaaaff 74.3px,#babaff 77.5px,#dbdbff 81.5px,#ffffff 85.2px,#ffcaca 90.8px,#ffb2b2 94.3px,#ffa7a7 97.5px,#ffa8a8 100.8px,#ffb6b6 104.5px,#ffe5e5 113.3px,#fff6f6 118.5px,#fffefe 126.0px,#ffffff 169.8px)"></i><i style="top:39.00px;height:1.00px;background:linear-gradient(90deg,#ffffff 0.0px,#fdfdff 45.5px,#f4f4ff 52.3px,#e3e3ff 57.3px,#ababff 67.5px,#a3a3ff 70.8px,#a6a6ff 73.8px,#b5b5ff 77.0px,#d5d5ff 81.0px,#ffffff 85.2px,#ffc8c8 90.8px,#ffafaf 94.3px,#ffa4a4 97.5px,#ffa4a4 100.5px,#ffb0b0 104.0px,#ffe4e4 113.3px,#fff5f5 118.3px,#fffdfd 125.3px,#ffffff 169.8px)"></i><i style="top:40.00px;height:1.00px;background:linear-gradient(90deg,#ffffff 0.0px,#fdfdff 45.3px,#f4f4ff 52.0px,#e3e3ff 57.0px,#bcbcff 63.8px,#a5a5ff 68.0px,#9f9fff 71.3px,#a4a4ff 74.3px,#b6b6ff 77.5px,#d8d8ff 81.5px,#ffffff 85.2px,#ffc7c7 90.8px,#ffadad 94.3px,#ffa1a1 97.3px,#ffa0a0 100.3px,#ffabab 103.8px,#ffe4e4 113.5px,#fff5f5 118.5px,#fffdfd 125.5px,#ffffff 169.8px)"></i><i style="top:41.00px;height:1.00px;background:linear-gradient(90deg,#ffffff 0.0px,#fdfdff 45.0px,#f4f4ff 51.8px,#e4e4ff 56.5px,#c2c2ff 62.3px,#a5a5ff 67.3px,#9c9cff 70.5px,#9f9fff 73.5px,#aeaeff 76.8px,#cdcdff 80.5px,#ffffff 85.2px,#ffc5c5 90.8px,#ffaaaa 94.3px,#ff9d9d 97.3px,#ff9c9c 100.3px,#ffa6a6 103.5px,#ffe2e2 113.5px,#fff4f4 118.3px,#fffdfd 124.8px,#ffffff 155.3px,#ffffff 169.8px)"></i><i style="top:42.00px;height:1.00px;background:linear-gradient(90deg,#ffffff 0.0px,#fdfdff 44.8px,#f4f4ff 51.5px,#e4e4ff 56.3px,#c4c4ff 61.5px,#a2a2ff 67.0px,#9898ff 70.3px,#9b9bff 73.3px,#a8a8ff 76.3px,#c5c5ff 79.8px,#ffffff 85.2px,#ffc3c3 90.8px,#ffa7a7 94.3px,#ff9a9a 97.3px,#ff9898 100.3px,#ffa3a3 103.5px,#ffcbcb 109.8px,#ffe7e7 114.8px,#fff6f6 119.8px,#fffefe 127.3px,#ffffff 169.8px)"></i><i style="top:43.00px;height:1.00px;background:linear-gradient(90deg,#ffffff 0.0px,#fdfdff 44.8px,#f4f4ff 51.3px,#e4e4ff 56.0px,#c5c5ff 61.0px,#9f9fff 66.8px,#9595ff 70.0px,#9797ff 73.0px,#a4a4ff 76.0px,#c1c1ff 79.5px,#ffffff 85.2px,#ffc2c2 90.8px,#ffa5a5 94.3px,#ff9797 97.3px,#ff9595 100.3px,#ff9f9f 103.5px,#ffc1c1 108.8px,#ffe2e2 114.0px,#fff4f4 118.8px,#fffdfd 125.3px,#ffffff 158.3px,#ffffff 169.8px)"></i><i style="top:44.00px;height:1.00px;background:linear-gradient(90deg,#ffffff 0.0px,#fdfdff 44.5px,#f4f4ff 51.0px,#e4e4ff 55.8px,#c4c4ff 60.8px,#9d9dff 66.5px,#9191ff 69.8px,#9292ff 72.5px,#9e9eff 75.5px,#babaff 79.0px,#f1f1ff 84.0px,#ffffff 85.2px,#ffc0c0 90.8px,#ffa2a2 94.3px,#ff9393 97.3px,#ff9191 100.0px,#ff9999 103.0px,#ffb3b3 107.3px,#ffdede 113.5px,#fff1f1 118.0px,#fffbfb 123.8px,#ffffff 138.5px,#ffffff 169.8px)"></i><i style="top:45.00px;height:1.00px;background:linear-gradient(90deg,#ffffff 0.0px,#fdfdff 44.3px,#f5f5ff 50.8px,#e5e5ff 55.3px,#c9c9ff 59.8px,#9a9aff 66.3px,#8e8eff 69.3px,#8e8eff 72.0px,#9999ff 75.0px,#b1b1ff 78.3px,#e2e2ff 82.8px,#ffffff 85.2px,#ffbebe 90.8px,#ffa0a0 94.3px,#ff9090 97.3px,#ff8d8d 100.0px,#ff9595 103.0px,#ffaeae 107.0px,#ffdbdb 113.3px,#ffefef 117.8px,#fffbfb 123.3px,#ffffff 135.5px,#ffffff 169.8px)"></i><i style="top:46.00px;height:1.00px;background:linear-gradient(90deg,#ffffff 0.0px,#fdfdff 44.0px,#f5f5ff 50.5px,#e5e5ff 55.0px,#c8c8ff 59.5px,#9898ff 66.0px,#8b8bff 69.0px,#8a8aff 71.8px,#9393ff 74.5px,#ababff 77.8px,#d5d5ff 81.8px,#ffffff 85.2px,#ffbdbd 90.8px,#ff9d9d 94.3px,#ff8d8d 97.3px,#ff8989 100.0px,#ff9191 103.0px,#ffa9a9 106.8px,#ffd9d9 113.3px,#ffeeee 117.5px,#fffafa 122.8px,#ffffff 133.0px,#ffffff 169.8px)"></i><i style="top:47.00px;height:1.00px;background:linear-gradient(90deg,#ffffff 0.0px,#fdfdff 44.0px,#f5f5ff 50.3px,#e5e5ff 54.8px,#cacaff 59.0px,#9696ff 65.8px,#8888ff 68.8px,#8686ff 71.5px,#8f8fff 74.3px,#a4a4ff 77.3px,#ceceff 81.3px,#ffffff 85.2px,#ffbbbb 90.8px,#ff9b9b 94.3px,#ff8a8a 97.3px,#ff8585 100.0px,#ff8c8c 102.8px,#ffa1a1 106.3px,#ffd9d9 113.5px,#ffeeee 117.8px,#fffafa 123.0px,#ffffff 133.5px,#ffffff 169.8px)"></i><i style="top:48.00px;height:1.00px;background:linear-gradient(90deg,#ffffff 0.0px,#fdfdff 43.8px,#f5f5ff 50.0px,#e5e5ff 54.5px,#c9c9ff 58.8px,#9292ff 65.8px,#8484ff 68.8px,#8282ff 71.5px,#8c8cff 74.3px,#a2a2ff 77.3px,#cdcdff 81.3px,#ffffff 85.2px,#ffbaba 90.8px,#ff9898 94.3px,#ff8686 97.3px,#ff8181 100.0px,#ff8888 102.8px,#ff9d9d 106.3px,#ffd7d7 113.5px,#ffeded 117.8px,#fff9f9 122.8px,#ffffff 132.3px,#ffffff 169.8px)"></i><i style="top:49.00px;height:1.00px;background:linear-gradient(90deg,#ffffff 0.0px,#fdfdff 43.5px,#f5f5ff 49.8px,#e5e5ff 54.3px,#c9c9ff 58.5px,#8f8fff 65.5px,#8181ff 68.5px,#7e7eff 71.3px,#8787ff 74.0px,#9d9dff 77.0px,#c6c6ff 80.8px,#ffffff 85.2px,#ffb8b8 90.8px,#ff9696 94.3px,#ff8383 97.3px,#ff7e7e 100.0px,#ff8484 102.8px,#ff9898 106.0px,#ffd5d5 113.5px,#ffebeb 117.5px,#fff8f8 122.3px,#fffefe 130.5px,#ffffff 169.8px)"></i><i style="top:50.00px;height:1.00px;background:linear-gradient(90deg,#ffffff 0.0px,#fdfdff 43.5px,#f4f4ff 49.8px,#e5e5ff 54.0px,#cbcbff 58.0px,#8b8bff 65.5px,#7d7dff 68.5px,#7b7bff 71.3px,#8484ff 74.0px,#9b9bff 77.0px,#c5c5ff 80.8px,#ffffff 85.2px,#ffb7b7 90.8px,#ff9393 94.3px,#ff8080 97.3px,#ff7a7a 100.0px,#ff8080 102.8px,#ff9494 106.0px,#ffd3d3 113.5px,#ffeaea 117.5px,#fff8f8 122.3px,#fffefe 130.3px,#ffffff 169.8px)"></i><i style="top:51.00px;height:1.00px;background:linear-gradient(90deg,#ffffff 0.0px,#fdfdff 43.3px,#f5f5ff 49.5px,#e5e5ff 53.8px,#cacaff 57.8px,#8989ff 65.3px,#7979ff 68.3px,#7777ff 71.0px,#8080ff 73.8px,#9797ff 76.8px,#c0c0ff 80.5px,#ffffff 85.2px,#ffb5b5 90.8px,#ff9191 94.3px,#ff7d7d 97.3px,#ff7676 100.0px,#ff7c7c 102.8px,#ff8e8e 105.8px,#ffd3d3 113.8px,#ffeaea 117.8px,#fff8f8 122.5px,#fffefe 130.5px,#ffffff 169.8px)"></i><i style="top:52.00px;height:1.00px;background:linear-gradient(90deg,#ffffff 0.0px,#fdfdff 43.0px,#f5f5ff 49.3px,#e5e5ff 53.5px,#ccccff 57.3px,#8585ff 65.3px,#7676ff 68.0px,#7373ff 70.5px,#7b7bff 73.3px,#9090ff 76.3px,#b6b6ff 79.8px,#ffffff 85.2px,#ffb4b4 90.8px,#ff8f8f 94.3px,#ff7a7a 97.3px,#ff7373 99.8px,#ff7676 102.3px,#ff8686 105.3px,#ffd3d3 114.0px,#ffe9e9 117.8px,#fff7f7 122.3px,#fffefe 129.8px,#ffffff 169.8px)"></i><i style="top:53.00px;height:1.00px;background:linear-gradient(90deg,#ffffff 0.0px,#fdfdff 43.0px,#f4f4ff 49.3px,#e4e4ff 53.5px,#cacaff 57.3px,#8383ff 65.0px,#7373ff 67.8px,#6f6fff 70.3px,#7575ff 72.8px,#8787ff 75.5px,#a8a8ff 78.8px,#ebebff 83.8px,#ffffff 85.2px,#ffb3b3 90.8px,#ff8c8c 94.3px,#ff7878 97.0px,#ff6f6f 99.5px,#ff7171 102.0px,#ff7f7f 104.8px,#ffa1a1 108.8px,#ffd1d1 114.0px,#ffe8e8 117.8px,#fff7f7 122.3px,#fffefe 129.5px,#ffffff 169.8px)"></i><i style="top:54.00px;height:1.00px;background:linear-gradient(90deg,#ffffff 0.0px,#fdfdff 42.8px,#f4f4ff 49.0px,#e4e4ff 53.3px,#cacaff 57.0px,#7f7fff 65.0px,#6f6fff 67.8px,#6b6bff 70.3px,#7272ff 72.8px,#8585ff 75.5px,#a7a7ff 78.8px,#eaeaff 83.8px,#ffffff 85.2px,#ffaeae 91.0px,#ff8888 94.5px,#ff7474 97.3px,#ff6b6b 99.8px,#ff6e6e 102.3px,#ff7c7c 105.0px,#ffa1a1 109.0px,#ffcfcf 114.0px,#ffe7e7 117.8px,#fff6f6 122.0px,#fffefe 128.8px,#ffffff 169.8px)"></i><i style="top:55.00px;height:1.00px;background:linear-gradient(90deg,#ffffff 0.0px,#fdfdff 42.8px,#f5f5ff 48.8px,#e6e6ff 52.8px,#ccccff 56.5px,#7d7dff 64.8px,#6c6cff 67.5px,#6767ff 70.0px,#6e6eff 72.5px,#8080ff 75.3px,#a2a2ff 78.5px,#e3e3ff 83.3px,#ffffff 85.2px,#ffadad 91.0px,#ff8686 94.5px,#ff7171 97.3px,#ff6868 99.8px,#ff6a6a 102.3px,#ff7878 105.0px,#ff9b9b 108.8px,#ffcdcd 114.0px,#ffe6e6 117.8px,#fff6f6 122.0px,#fffdfd 128.5px,#ffffff 169.8px)"></i><i style="top:56.00px;height:1.00px;background:linear-gradient(90deg,#ffffff 0.0px,#fdfdff 42.5px,#f5f5ff 48.5px,#e6e6ff 52.5px,#ceceff 56.0px,#a0a0ff 60.8px,#7979ff 64.8px,#6868ff 67.5px,#6464ff 70.0px,#6b6bff 72.5px,#7e7eff 75.3px,#a1a1ff 78.5px,#e2e2ff 83.3px,#ffffff 85.2px,#ffacac 91.0px,#ff8383 94.5px,#ff6e6e 97.3px,#ff6464 99.8px,#ff6666 102.3px,#ff7474 105.0px,#ff9797 108.8px,#ffcbcb 114.0px,#ffe4e4 117.5px,#fff4f4 121.5px,#fffdfd 127.5px,#ffffff 162.3px,#ffffff 169.8px)"></i><i style="top:57.00px;height:1.00px;background:linear-gradient(90deg,#ffffff 0.0px,#fdfdff 42.5px,#f4f4ff 48.5px,#e5e5ff 52.5px,#ccccff 56.0px,#9d9dff 60.8px,#7575ff 64.8px,#6464ff 67.5px,#6060ff 70.0px,#6868ff 72.5px,#7c7cff 75.3px,#9f9fff 78.5px,#e2e2ff 83.3px,#ffffff 85.2px,#ffaaaa 91.0px,#ff8181 94.5px,#ff6b6b 97.3px,#ff6161 99.8px,#ff6262 102.3px,#ff6f6f 104.8px,#ff8c8c 108.0px,#ffc9c9 114.0px,#ffe3e3 117.5px,#fff4f4 121.5px,#fffdfd 127.3px,#ffffff 152.8px,#ffffff 169.8px)"></i><i style="top:58.00px;height:1.00px;background:linear-gradient(90deg,#ffffff 0.0px,#fdfdff 42.3px,#f5f5ff 48.3px,#e5e5ff 52.3px,#cdcdff 55.8px,#9f9fff 60.3px,#7373ff 64.5px,#6161ff 67.3px,#5d5dff 69.8px,#6363ff 72.3px,#7777ff 75.0px,#9b9bff 78.3px,#dedeff 83.0px,#ffffff 85.2px,#ffa9a9 91.0px,#ff7f7f 94.5px,#ff6868 97.3px,#ff5e5e 99.8px,#ff5e5e 102.3px,#ff6b6b 104.8px,#ff8888 108.0px,#ffc7c7 114.0px,#ffe2e2 117.5px,#fff3f3 121.5px,#fffcfc 127.0px,#ffffff 147.3px,#ffffff 169.8px)"></i><i style="top:59.00px;height:1.00px;background:linear-gradient(90deg,#ffffff 0.0px,#fdfdff 42.0px,#f5f5ff 48.0px,#e6e6ff 52.0px,#cdcdff 55.5px,#a1a1ff 59.8px,#7171ff 64.3px,#5f5fff 67.0px,#5959ff 69.5px,#5f5fff 72.0px,#7373ff 74.8px,#9696ff 78.0px,#d6d6ff 82.5px,#ffffff 85.2px,#ffa8a8 91.0px,#ff7d7d 94.5px,#ff6666 97.3px,#ff5a5a 99.8px,#ff5b5b 102.3px,#ff6767 104.8px,#ff8181 107.8px,#ffc5c5 114.0px,#ffe1e1 117.5px,#fff2f2 121.3px,#fffcfc 126.5px,#ffffff 141.8px,#ffffff 169.8px)"></i><i style="top:60.00px;height:1.00px;background:linear-gradient(90deg,#ffffff 0.0px,#fdfdff 42.0px,#f5f5ff 48.0px,#e5e5ff 52.0px,#cbcbff 55.5px,#9e9eff 59.8px,#7070ff 64.0px,#5c5cff 66.8px,#5555ff 69.3px,#5b5bff 71.8px,#6e6eff 74.5px,#9292ff 77.8px,#d1d1ff 82.3px,#ffffff 85.2px,#ffa7a7 91.0px,#ff7b7b 94.5px,#ff6363 97.3px,#ff5757 99.8px,#ff5757 102.3px,#ff6363 104.8px,#ff7e7e 107.8px,#ffc6c6 114.3px,#ffe1e1 117.8px,#fff2f2 121.5px,#fffcfc 126.8px,#ffffff 142.8px,#ffffff 169.8px)"></i><i style="top:61.00px;height:1.00px;background:linear-gradient(90deg,#ffffff 0.0px,#fdfdff 41.8px,#f5f5ff 47.8px,#e5e5ff 51.8px,#ccccff 55.3px,#a1a1ff 59.3px,#6e6eff 63.8px,#5959ff 66.5px,#5252ff 68.8px,#5656ff 71.3px,#6565ff 73.8px,#8484ff 76.8px,#babaff 80.8px,#ffffff 85.2px,#ffa6a6 91.0px,#ff7979 94.5px,#ff6060 97.3px,#ff5454 99.8px,#ff5353 102.0px,#ff5d5d 104.5px,#ff7575 107.3px,#ffc3c3 114.3px,#ffe0e0 117.8px,#fff2f2 121.5px,#fffcfc 126.8px,#ffffff 141.8px,#ffffff 169.8px)"></i><i style="top:62.00px;height:1.00px;background:linear-gradient(90deg,#ffffff 0.0px,#fdfdff 41.8px,#f5f5ff 47.5px,#e5e5ff 51.5px,#ceceff 54.8px,#a7a7ff 58.5px,#6d6dff 63.5px,#5757ff 66.3px,#4f4fff 68.5px,#5151ff 70.8px,#5f5fff 73.3px,#7c7cff 76.3px,#aeaeff 80.0px,#ffffff 85.2px,#ffa5a5 91.0px,#ff7878 94.5px,#ff5e5e 97.3px,#ff5151 99.8px,#ff4f4f 102.0px,#ff5959 104.5px,#ff7171 107.3px,#ffc4c4 114.5px,#ffdfdf 117.8px,#fff1f1 121.5px,#fffbfb 126.5px,#ffffff 139.5px,#ffffff 169.8px)"></i><i style="top:63.00px;height:1.00px;background:linear-gradient(90deg,#ffffff 0.0px,#fdfdff 41.5px,#f5f5ff 47.5px,#e6e6ff 51.3px,#cfcfff 54.5px,#aaaaff 58.0px,#6969ff 63.5px,#5454ff 66.0px,#4c4cff 68.3px,#4d4dff 70.5px,#5b5bff 73.0px,#7575ff 75.8px,#a2a2ff 79.3px,#ffffff 85.2px,#ffa0a0 91.3px,#ff7373 94.8px,#ff5a5a 97.5px,#ff4d4d 100.0px,#ff4c4c 102.3px,#ff5555 104.5px,#ff6d6d 107.3px,#ffc2c2 114.5px,#ffdede 117.8px,#fff0f0 121.3px,#fffbfb 126.0px,#ffffff 136.8px,#ffffff 169.8px)"></i><i style="top:64.00px;height:1.00px;background:linear-gradient(90deg,#ffffff 0.0px,#fdfdff 41.5px,#f5f5ff 47.3px,#e6e6ff 51.0px,#cfcfff 54.3px,#aaaaff 57.8px,#6767ff 63.3px,#5252ff 65.8px,#4949ff 68.0px,#4a4aff 70.3px,#5656ff 72.8px,#7070ff 75.5px,#9d9dff 79.0px,#f8f8ff 84.8px,#ffffff 85.2px,#ff9f9f 91.3px,#ff7171 94.8px,#ff5757 97.5px,#ff4a4a 100.0px,#ff4848 102.3px,#ff5151 104.5px,#ff6969 107.3px,#ffc2c2 114.8px,#ffdede 118.0px,#fff0f0 121.5px,#fffbfb 126.3px,#ffffff 137.5px,#ffffff 169.8px)"></i><i style="top:65.00px;height:1.00px;background:linear-gradient(90deg,#ffffff 0.0px,#fdfdff 41.3px,#f5f5ff 47.0px,#e7e7ff 50.8px,#d0d0ff 54.0px,#ababff 57.5px,#6464ff 63.3px,#4e4eff 65.8px,#4545ff 68.0px,#4747ff 70.3px,#5454ff 72.8px,#6e6eff 75.5px,#9c9cff 79.0px,#fcfcff 85.0px,#ffffff 85.2px,#ff9e9e 91.3px,#ff6f6f 94.8px,#ff5555 97.5px,#ff4747 100.0px,#ff4545 102.3px,#ff4e4e 104.5px,#ff6363 107.0px,#ff9d9d 111.8px,#ffc8c8 115.5px,#ffe2e2 118.8px,#fff3f3 122.5px,#fffcfc 127.8px,#ffffff 146.0px,#ffffff 169.8px)"></i><i style="top:66.00px;height:1.00px;background:linear-gradient(90deg,#ffffff 0.0px,#fdfdff 41.3px,#f5f5ff 47.0px,#e6e6ff 50.8px,#ceceff 54.0px,#a8a8ff 57.5px,#6363ff 63.0px,#4c4cff 65.5px,#4242ff 67.8px,#4343ff 70.0px,#5050ff 72.5px,#6a6aff 75.3px,#9898ff 78.8px,#f4f4ff 84.5px,#ffffff 85.2px,#ff9d9d 91.3px,#ff6e6e 94.8px,#ff5252 97.5px,#ff4444 100.0px,#ff4242 102.3px,#ff4a4a 104.5px,#ff5f5f 107.0px,#ff9393 111.3px,#ffc4c4 115.3px,#ffdfdf 118.5px,#fff1f1 122.0px,#fffbfb 127.0px,#ffffff 140.0px,#ffffff 169.8px)"></i><i style="top:67.00px;height:1.00px;background:linear-gradient(90deg,#ffffff 0.0px,#fdfdff 41.3px,#f5f5ff 47.0px,#e5e5ff 50.8px,#cdcdff 54.0px,#a5a5ff 57.5px,#5f5fff 63.0px,#4848ff 65.5px,#3f3fff 67.8px,#4040ff 70.0px,#4d4dff 72.5px,#6868ff 75.3px,#9797ff 78.8px,#f4f4ff 84.5px,#ffffff 85.2px,#ff9c9c 91.3px,#ff6c6c 94.8px,#ff5050 97.5px,#ff4141 100.0px,#ff3e3e 102.3px,#ff4646 104.5px,#ff5b5b 107.0px,#ff8a8a 110.8px,#ffbfbf 115.0px,#ffdcdc 118.3px,#ffefef 121.8px,#fffbfb 126.5px,#ffffff 137.3px,#ffffff 169.8px)"></i><i style="top:68.00px;height:1.00px;background:linear-gradient(90deg,#ffffff 0.0px,#fdfdff 41.0px,#f5f5ff 46.8px,#e6e6ff 50.5px,#cdcdff 53.8px,#a9a9ff 57.0px,#5e5eff 62.8px,#4747ff 65.3px,#3c3cff 67.5px,#3c3cff 69.8px,#4949ff 72.3px,#6363ff 75.0px,#9292ff 78.5px,#ebebff 84.0px,#ffffff 85.2px,#ff9b9b 91.3px,#ff6b6b 94.8px,#ff4e4e 97.5px,#ff3e3e 100.0px,#ff3b3b 102.3px,#ff4343 104.5px,#ff5757 107.0px,#ff8686 110.8px,#ffbdbd 115.0px,#ffd9d9 118.0px,#ffeded 121.3px,#fff9f9 125.5px,#ffffff 133.8px,#ffffff 169.8px)"></i><i style="top:69.00px;height:1.00px;background:linear-gradient(90deg,#ffffff 0.0px,#fdfdff 41.0px,#f4f4ff 46.8px,#e5e5ff 50.5px,#ceceff 53.5px,#aaaaff 56.8px,#5a5aff 62.8px,#4343ff 65.3px,#3939ff 67.5px,#3a3aff 69.8px,#4747ff 72.3px,#6262ff 75.0px,#9191ff 78.5px,#ebebff 84.0px,#ffffff 85.2px,#ff9a9a 91.3px,#ff6969 94.8px,#ff4c4c 97.5px,#ff3c3c 100.0px,#ff3838 102.3px,#ff3f3f 104.5px,#ff5454 107.0px,#ff8080 110.5px,#ffbbbb 115.0px,#ffd8d8 118.0px,#ffecec 121.3px,#fff9f9 125.5px,#fffefe 133.5px,#ffffff 169.8px)"></i><i style="top:70.00px;height:1.00px;background:linear-gradient(90deg,#ffffff 0.0px,#fdfdff 40.8px,#f5f5ff 46.5px,#e6e6ff 50.3px,#cfcfff 53.3px,#ababff 56.5px,#5a5aff 62.5px,#4141ff 65.0px,#3636ff 67.3px,#3636ff 69.5px,#4343ff 72.0px,#5d5dff 74.8px,#8c8cff 78.3px,#e2e2ff 83.5px,#ffffff 85.2px,#ff9999 91.3px,#ff6868 94.8px,#ff4a4a 97.5px,#ff3939 100.0px,#ff3535 102.3px,#ff3c3c 104.5px,#ff4e4e 106.8px,#ff7272 109.8px,#ffb6b6 114.8px,#ffd5d5 117.8px,#ffeaea 121.0px,#fff8f8 125.0px,#fffefe 132.0px,#ffffff 169.8px)"></i><i style="top:71.00px;height:1.00px;background:linear-gradient(90deg,#ffffff 0.0px,#fdfdff 40.8px,#f5f5ff 46.5px,#e5e5ff 50.3px,#ceceff 53.3px,#a9a9ff 56.5px,#5656ff 62.5px,#3e3eff 65.0px,#3333ff 67.3px,#3333ff 69.5px,#4141ff 72.0px,#5c5cff 74.8px,#8b8bff 78.3px,#e6e6ff 83.8px,#ffffff 85.2px,#ff9595 91.5px,#ff6363 95.0px,#ff4646 97.8px,#ff3636 100.3px,#ff3232 102.5px,#ff3a3a 104.8px,#ff4d4d 107.0px,#ff7676 110.3px,#ffb7b7 115.0px,#ffd6d6 118.0px,#ffebeb 121.3px,#fff8f8 125.3px,#fffefe 132.5px,#ffffff 169.8px)"></i><i style="top:72.00px;height:1.00px;background:linear-gradient(90deg,#ffffff 0.0px,#fdfdff 40.5px,#f5f5ff 46.3px,#e5e5ff 50.0px,#cfcfff 53.0px,#adadff 56.0px,#5353ff 62.5px,#3a3aff 65.0px,#3030ff 67.3px,#3131ff 69.5px,#3f3fff 72.0px,#5a5aff 74.8px,#8a8aff 78.3px,#e6e6ff 83.8px,#ffffff 85.2px,#ff9494 91.5px,#ff6262 95.0px,#ff4444 97.8px,#ff3333 100.3px,#ff2f2f 102.5px,#ff3636 104.8px,#ff4949 107.0px,#ff6f6f 110.0px,#ffb5b5 115.0px,#ffd5d5 118.0px,#ffeaea 121.3px,#fff8f8 125.3px,#fffefe 132.3px,#ffffff 169.8px)"></i><i style="top:73.00px;height:1.00px;background:linear-gradient(90deg,#ffffff 0.0px,#fdfdff 40.5px,#f5f5ff 46.3px,#e5e5ff 50.0px,#cdcdff 53.0px,#ababff 56.0px,#5252ff 62.3px,#3939ff 64.8px,#2d2dff 67.0px,#2e2eff 69.3px,#3939ff 71.5px,#5353ff 74.3px,#7e7eff 77.5px,#ccccff 82.3px,#ffffff 85.2px,#ff9393 91.5px,#ff6060 95.0px,#ff4242 97.8px,#ff3131 100.3px,#ff2c2c 102.5px,#ff3333 104.8px,#ff4646 107.0px,#ff6c6c 110.0px,#ffb3b3 115.0px,#ffd3d3 118.0px,#ffe8e8 121.0px,#fff6f6 124.8px,#fffefe 131.0px,#ffffff 169.8px)"></i><i style="top:74.00px;height:1.00px;background:linear-gradient(90deg,#ffffff 0.0px,#fdfdff 40.5px,#f5f5ff 46.0px,#e5e5ff 49.8px,#ceceff 52.8px,#acacff 55.8px,#4f4fff 62.3px,#3535ff 64.8px,#2a2aff 67.0px,#2b2bff 69.3px,#3737ff 71.5px,#5151ff 74.3px,#7d7dff 77.5px,#cbcbff 82.3px,#ffffff 85.2px,#ff9292 91.5px,#ff5c5c 95.3px,#ff3e3e 98.0px,#ff2d2d 100.5px,#ff2929 102.8px,#ff3131 105.0px,#ff4545 107.3px,#ff6c6c 110.3px,#ffb1b1 115.0px,#ffd2d2 118.0px,#ffe8e8 121.0px,#fff6f6 124.8px,#fffefe 131.0px,#ffffff 169.8px)"></i><i style="top:75.00px;height:1.00px;background:linear-gradient(90deg,#ffffff 0.0px,#fdfdff 40.3px,#f5f5ff 46.0px,#e6e6ff 49.5px,#d0d0ff 52.5px,#adadff 55.5px,#4b4bff 62.3px,#3434ff 64.5px,#2828ff 66.8px,#2828ff 69.0px,#3333ff 71.3px,#4d4dff 74.0px,#7878ff 77.3px,#c7c7ff 82.0px,#ffffff 85.2px,#ff9191 91.5px,#ff5a5a 95.3px,#ff3c3c 98.0px,#ff2b2b 100.5px,#ff2626 102.8px,#ff2e2e 105.0px,#ff4141 107.3px,#ff6969 110.3px,#ffb2b2 115.3px,#ffd3d3 118.3px,#ffe8e8 121.3px,#fff6f6 125.0px,#fffefe 131.3px,#ffffff 169.8px)"></i><i style="top:76.00px;height:1.00px;background:linear-gradient(90deg,#ffffff 0.0px,#fdfdff 40.3px,#f5f5ff 45.8px,#e6e6ff 49.5px,#ceceff 52.5px,#ababff 55.5px,#4b4bff 62.0px,#3333ff 64.3px,#2626ff 66.5px,#2525ff 68.8px,#2f2fff 71.0px,#4646ff 73.5px,#7070ff 76.8px,#b9b9ff 81.3px,#ffffff 85.2px,#ff9191 91.5px,#ff5959 95.3px,#ff3a3a 98.0px,#ff2828 100.5px,#ff2424 102.8px,#ff2b2b 105.0px,#ff3e3e 107.3px,#ff6262 110.0px,#ffb0b0 115.3px,#ffd2d2 118.3px,#ffe8e8 121.3px,#fff6f6 125.0px,#fffefe 131.3px,#ffffff 169.8px)"></i><i style="top:77.00px;height:1.00px;background:linear-gradient(90deg,#ffffff 0.0px,#fdfdff 40.3px,#f5f5ff 45.8px,#e6e6ff 49.3px,#cfcfff 52.3px,#acacff 55.3px,#4848ff 62.0px,#3030ff 64.3px,#2323ff 66.5px,#2222ff 68.8px,#2d2dff 71.0px,#4747ff 73.8px,#7373ff 77.0px,#c2c2ff 81.8px,#ffffff 85.2px,#ff9090 91.5px,#ff5858 95.3px,#ff3838 98.0px,#ff2626 100.5px,#ff2121 102.8px,#ff2727 104.8px,#ff3838 107.0px,#ff5b5b 109.8px,#ffaeae 115.3px,#ffd1d1 118.3px,#ffe7e7 121.3px,#fff6f6 125.0px,#fffdfd 131.0px,#ffffff 169.8px)"></i><i style="top:78.00px;height:1.00px;background:linear-gradient(90deg,#ffffff 0.0px,#fdfdff 40.0px,#f5f5ff 45.5px,#e7e7ff 49.0px,#d1d1ff 52.0px,#b1b1ff 54.8px,#7171ff 59.0px,#4242ff 62.3px,#2b2bff 64.5px,#2020ff 66.5px,#2020ff 68.8px,#2b2bff 71.0px,#4646ff 73.8px,#7272ff 77.0px,#c1c1ff 81.8px,#ffffff 85.2px,#ff8f8f 91.5px,#ff5757 95.3px,#ff3737 98.0px,#ff2424 100.5px,#ff1e1e 102.8px,#ff2424 104.8px,#ff3535 107.0px,#ff5555 109.5px,#ffb0b0 115.5px,#ffd0d0 118.3px,#ffe7e7 121.3px,#fff6f6 125.0px,#fffdfd 131.0px,#ffffff 169.8px)"></i><i style="top:79.00px;height:1.00px;background:linear-gradient(90deg,#ffffff 0.0px,#fdfdff 40.0px,#f5f5ff 45.5px,#e7e7ff 49.0px,#d0d0ff 52.0px,#b0b0ff 54.8px,#6a6aff 59.3px,#3f3fff 62.3px,#2828ff 64.5px,#1d1dff 66.5px,#1e1eff 68.8px,#2929ff 71.0px,#4444ff 73.8px,#7171ff 77.0px,#c1c1ff 81.8px,#ffffff 85.2px,#ff8b8b 91.8px,#ff5252 95.5px,#ff3333 98.3px,#ff2121 100.8px,#ff1c1c 103.0px,#ff2222 105.0px,#ff3535 107.3px,#ff5959 110.0px,#ffaeae 115.5px,#ffcfcf 118.3px,#ffe6e6 121.3px,#fff5f5 124.8px,#fffdfd 130.3px,#ffffff 169.8px)"></i><i style="top:80.00px;height:1.00px;background:linear-gradient(90deg,#ffffff 0.0px,#fdfdff 40.0px,#f5f5ff 45.5px,#e6e6ff 49.0px,#ceceff 52.0px,#aeaeff 54.8px,#6464ff 59.5px,#3939ff 62.5px,#2323ff 64.8px,#1a1aff 66.8px,#1c1cff 69.0px,#2a2aff 71.3px,#4646ff 74.0px,#7878ff 77.5px,#d3d3ff 82.8px,#ffffff 85.2px,#ff8a8a 91.8px,#ff5151 95.5px,#ff3131 98.3px,#ff1f1f 100.8px,#ff1a1a 103.0px,#ff1f1f 105.0px,#ff3232 107.3px,#ff5252 109.8px,#ffacac 115.5px,#ffcdcd 118.3px,#ffe5e5 121.3px,#fff4f4 124.8px,#fffdfd 130.3px,#ffffff 168.0px,#ffffff 169.8px)"></i><i style="top:81.00px;height:1.00px;background:linear-gradient(90deg,#ffffff 0.0px,#fdfdff 39.8px,#f5f5ff 45.3px,#e7e7ff 48.8px,#d0d0ff 51.8px,#afafff 54.5px,#7171ff 58.5px,#3f3fff 61.8px,#2626ff 64.0px,#1a1aff 66.0px,#1818ff 68.0px,#2121ff 70.3px,#3636ff 72.8px,#5d5dff 75.8px,#9d9dff 79.8px,#ffffff 85.2px,#ff8989 91.8px,#ff5050 95.5px,#ff3030 98.3px,#ff1d1d 100.8px,#ff1717 103.0px,#ff1d1d 105.0px,#ff2f2f 107.3px,#ff5050 109.8px,#ffabab 115.5px,#ffcccc 118.3px,#ffe3e3 121.0px,#fff3f3 124.5px,#fffcfc 129.8px,#ffffff 152.5px,#ffffff 169.8px)"></i><i style="top:82.00px;height:1.00px;background:linear-gradient(90deg,#ffffff 0.0px,#fdfdff 39.8px,#f5f5ff 45.3px,#e6e6ff 48.8px,#cfcfff 51.8px,#aeaeff 54.5px,#6f6fff 58.5px,#3c3cff 61.8px,#2323ff 64.0px,#1717ff 66.0px,#1515ff 68.0px,#1f1fff 70.3px,#3535ff 72.8px,#5c5cff 75.8px,#a1a1ff 80.0px,#ffffff 85.2px,#ff8989 91.8px,#ff4f4f 95.5px,#ff2e2e 98.3px,#ff1b1b 100.8px,#ff1515 103.0px,#ff1a1a 105.0px,#ff2929 107.0px,#ff4949 109.5px,#ffacac 115.8px,#ffcece 118.5px,#ffe4e4 121.3px,#fff4f4 124.8px,#fffdfd 130.0px,#ffffff 156.0px,#ffffff 169.8px)"></i><i style="top:83.00px;height:1.00px;background:linear-gradient(90deg,#ffffff 0.0px,#fdfdff 39.8px,#f5f5ff 45.3px,#e6e6ff 48.8px,#d0d0ff 51.5px,#b0b0ff 54.3px,#7474ff 58.0px,#3d3dff 61.5px,#2323ff 63.8px,#1616ff 65.8px,#1313ff 67.8px,#1b1bff 70.0px,#3131ff 72.5px,#5757ff 75.5px,#9898ff 79.5px,#ffffff 85.2px,#ff8888 91.8px,#ff4e4e 95.5px,#ff2d2d 98.3px,#ff1919 100.8px,#ff1313 103.0px,#ff1717 105.0px,#ff2727 107.0px,#ff4646 109.5px,#ffabab 115.8px,#ffcdcd 118.5px,#ffe4e4 121.3px,#fff4f4 124.8px,#fffdfd 130.0px,#ffffff 154.5px,#ffffff 169.8px)"></i><i style="top:84.00px;height:1.00px;background:linear-gradient(90deg,#ffffff 0.0px,#fdfdff 39.8px,#f4f4ff 45.3px,#e5e5ff 48.8px,#cfcfff 51.5px,#aeaeff 54.3px,#7272ff 58.0px,#3a3aff 61.5px,#2020ff 63.8px,#1313ff 65.8px,#1111ff 67.8px,#1a1aff 70.0px,#3030ff 72.5px,#5757ff 75.5px,#9797ff 79.5px,#ffffff 85.2px,#ff8888 91.8px,#ff4d4d 95.5px,#ff2929 98.5px,#ff1616 101.0px,#ff1111 103.3px,#ff1616 105.3px,#ff2626 107.3px,#ff4747 109.8px,#ffa9a9 115.8px,#ffcccc 118.5px,#ffe3e3 121.3px,#fff3f3 124.8px,#fffdfd 130.0px,#ffffff 153.3px,#ffffff 169.8px)"></i><i style="top:85.00px;height:1.00px;background:linear-gradient(90deg,#ffffff 0.0px,#fdfdff 39.5px,#f5f5ff 45.0px,#e6e6ff 48.5px,#d1d1ff 51.3px,#b0b0ff 54.0px,#7878ff 57.5px,#3b3bff 61.3px,#2020ff 63.5px,#1212ff 65.5px,#0f0fff 67.5px,#1717ff 69.8px,#2c2cff 72.3px,#5252ff 75.3px,#9393ff 79.3px,#ffffff 85.2px,#ff8787 91.8px,#ff4c4c 95.5px,#ff2828 98.5px,#ff1414 101.0px,#ff0e0e 103.3px,#ff1414 105.3px,#ff2424 107.3px,#ff4545 109.8px,#ffa7a7 115.8px,#ffcbcb 118.5px,#ffe2e2 121.3px,#fff2f2 124.5px,#fffcfc 129.5px,#ffffff 146.3px,#ffffff 169.8px)"></i><i style="top:86.00px;height:1.00px;background:linear-gradient(90deg,#ffffff 0.0px,#fdfdff 39.5px,#f5f5ff 45.0px,#e6e6ff 48.5px,#d0d0ff 51.3px,#afafff 54.0px,#7676ff 57.5px,#3838ff 61.3px,#1d1dff 63.5px,#1010ff 65.5px,#0d0dff 67.5px,#1515ff 69.8px,#2b2bff 72.3px,#5151ff 75.3px,#9292ff 79.3px,#ffffff 85.2px,#ff8787 91.8px,#ff4b4b 95.5px,#ff2626 98.5px,#ff1313 101.0px,#ff0c0c 103.3px,#ff1212 105.3px,#ff2121 107.3px,#ff3e3e 109.5px,#ffaaaa 116.0px,#ffcccc 118.8px,#ffe3e3 121.5px,#fff4f4 125.0px,#fffdfd 130.3px,#ffffff 155.5px,#ffffff 169.8px)"></i><i style="top:87.00px;height:1.00px;background:linear-gradient(90deg,#ffffff 0.0px,#fdfdff 39.5px,#f5f5ff 45.0px,#e5e5ff 48.5px,#cfcfff 51.3px,#adadff 54.0px,#7474ff 57.5px,#3a3aff 61.0px,#1d1dff 63.3px,#0f0fff 65.3px,#0a0aff 67.3px,#1212ff 69.5px,#2727ff 72.0px,#4d4dff 75.0px,#8d8dff 79.0px,#ffffff 85.2px,#ff8282 92.0px,#ff4747 95.8px,#ff2525 98.5px,#ff1111 101.0px,#ff0a0a 103.3px,#ff0f0f 105.3px,#ff1f1f 107.3px,#ff3c3c 109.5px,#ffa8a8 116.0px,#ffcbcb 118.8px,#ffe3e3 121.5px,#fff3f3 124.8px,#fffcfc 129.8px,#ffffff 147.5px,#ffffff 169.8px)"></i><i style="top:88.00px;height:1.00px;background:linear-gradient(90deg,#ffffff 0.0px,#fdfdff 39.5px,#f5f5ff 44.8px,#e6e6ff 48.3px,#d1d1ff 51.0px,#afafff 53.8px,#7b7bff 57.0px,#3737ff 61.0px,#1b1bff 63.3px,#0c0cff 65.3px,#0909ff 67.3px,#1010ff 69.5px,#2626ff 72.0px,#4c4cff 75.0px,#8d8dff 79.0px,#ffffff 85.2px,#ff8282 92.0px,#ff4646 95.8px,#ff2424 98.5px,#ff1010 101.0px,#ff0909 103.3px,#ff0d0d 105.3px,#ff1d1d 107.3px,#ff3939 109.5px,#ffa7a7 116.0px,#ffcaca 118.8px,#ffe2e2 121.5px,#fff2f2 124.8px,#fffcfc 129.8px,#ffffff 146.8px,#ffffff 169.8px)"></i><i style="top:89.00px;height:1.00px;background:linear-gradient(90deg,#ffffff 0.0px,#fdfdff 39.3px,#f5f5ff 44.8px,#e6e6ff 48.3px,#d0d0ff 51.0px,#aeaeff 53.8px,#7979ff 57.0px,#3939ff 60.8px,#1b1bff 63.0px,#0c0cff 65.0px,#0707ff 67.0px,#0e0eff 69.3px,#2222ff 71.8px,#4848ff 74.8px,#8888ff 78.8px,#ffffff 85.2px,#ff8181 92.0px,#ff4646 95.8px,#ff2020 98.8px,#ff0d0d 101.3px,#ff0707 103.5px,#ff0c0c 105.5px,#ff1d1d 107.5px,#ff3b3b 109.8px,#ffa5a5 116.0px,#ffc9c9 118.8px,#ffe2e2 121.5px,#fff2f2 124.8px,#fffcfc 129.5px,#ffffff 144.3px,#ffffff 169.8px)"></i><i style="top:90.00px;height:1.00px;background:linear-gradient(90deg,#ffffff 0.0px,#fdfdff 39.3px,#f5f5ff 44.8px,#e5e5ff 48.3px,#cfcfff 51.0px,#adadff 53.8px,#7272ff 57.3px,#3636ff 60.8px,#1919ff 63.0px,#0a0aff 65.0px,#0505ff 67.0px,#0c0cff 69.3px,#2121ff 71.8px,#4747ff 74.8px,#8888ff 78.8px,#ffffff 85.2px,#ff8181 92.0px,#ff4545 95.8px,#ff1f1f 98.8px,#ff0b0b 101.3px,#ff0505 103.5px,#ff0a0a 105.5px,#ff1b1b 107.5px,#ff3939 109.8px,#ffa8a8 116.3px,#ffcbcb 119.0px,#ffe3e3 121.8px,#fff3f3 125.0px,#fffcfc 130.0px,#ffffff 148.3px,#ffffff 169.8px)"></i><i style="top:91.00px;height:1.00px;background:linear-gradient(90deg,#ffffff 0.0px,#fdfdff 39.3px,#f5f5ff 44.8px,#e5e5ff 48.3px,#ceceff 51.0px,#acacff 53.8px,#7171ff 57.3px,#3434ff 60.8px,#1717ff 63.0px,#0808ff 65.0px,#0303ff 67.0px,#0b0bff 69.3px,#2020ff 71.8px,#4646ff 74.8px,#8787ff 78.8px,#ffffff 85.2px,#ff8080 92.0px,#ff4444 95.8px,#ff1e1e 98.8px,#ff0a0a 101.3px,#ff0303 103.5px,#ff0808 105.5px,#ff1919 107.5px,#ff3636 109.8px,#ffa6a6 116.3px,#ffcaca 119.0px,#ffe3e3 121.8px,#fff3f3 125.0px,#fffcfc 130.0px,#ffffff 147.8px,#ffffff 169.8px)"></i><i style="top:92.00px;height:1.00px;background:linear-gradient(90deg,#ffffff 0.0px,#fdfdff 39.3px,#f5f5ff 44.5px,#e6e6ff 48.0px,#d0d0ff 50.8px,#b2b2ff 53.3px,#8181ff 56.3px,#3636ff 60.5px,#1818ff 62.8px,#0707ff 64.8px,#0202ff 66.8px,#0707ff 68.8px,#1717ff 71.0px,#3838ff 73.8px,#6d6dff 77.3px,#d1d1ff 82.8px,#ffffff 85.2px,#ff8080 92.0px,#ff4343 95.8px,#ff1d1d 98.8px,#ff0909 101.3px,#ff0202 103.5px,#ff0707 105.5px,#ff1717 107.5px,#ff3434 109.8px,#ffa5a5 116.3px,#ffcaca 119.0px,#ffe2e2 121.8px,#fff2f2 125.0px,#fffcfc 129.8px,#ffffff 145.0px,#ffffff 169.8px)"></i><i style="top:93.00px;height:1.00px;background:linear-gradient(90deg,#ffffff 0.0px,#fdfdff 39.0px,#f5f5ff 44.5px,#e6e6ff 48.0px,#cfcfff 50.8px,#b1b1ff 53.3px,#7f7fff 56.3px,#3434ff 60.5px,#1616ff 62.8px,#0505ff 64.8px,#0000ff 66.8px,#0606ff 68.8px,#1616ff 71.0px,#3737ff 73.8px,#6d6dff 77.3px,#d1d1ff 82.8px,#ffffff 85.2px,#ff8080 92.0px,#ff4343 95.8px,#ff1c1c 98.8px,#ff0808 101.3px,#ff0000 103.5px,#ff0505 105.5px,#ff1515 107.5px,#ff3232 109.8px,#ffa4a4 116.3px,#ffc6c6 118.8px,#ffe0e0 121.5px,#fff1f1 124.8px,#fffcfc 129.5px,#ffffff 143.0px,#ffffff 169.8px)"></i><i style="top:94.00px;height:1.00px;background:linear-gradient(90deg,#ffffff 0.0px,#fdfdff 39.0px,#f5f5ff 44.5px,#e5e5ff 48.0px,#cfcfff 50.8px,#b0b0ff 53.3px,#7e7eff 56.3px,#3232ff 60.5px,#1414ff 62.8px,#0404ff 64.8px,#0000ff 66.3px,#0202ff 68.3px,#1111ff 70.5px,#2f2fff 73.3px,#6464ff 76.8px,#c2c2ff 82.0px,#ffffff 85.2px,#ff7f7f 92.0px,#ff4242 95.8px,#ff1c1c 98.8px,#ff0606 101.3px,#ff0000 103.0px,#ff0202 105.3px,#ff1010 107.3px,#ff2d2d 109.5px,#ff6565 112.8px,#ffa7a7 116.5px,#ffc8c8 119.0px,#ffe1e1 121.8px,#fff2f2 125.0px,#fffcfc 129.8px,#ffffff 144.5px,#ffffff 169.8px)"></i><i style="top:95.00px;height:1.00px;background:linear-gradient(90deg,#ffffff 0.0px,#fdfdff 39.0px,#f5f5ff 44.5px,#e5e5ff 48.0px,#ceceff 50.8px,#afafff 53.3px,#7c7cff 56.3px,#3030ff 60.5px,#1212ff 62.8px,#0202ff 64.8px,#0000ff 66.5px,#0202ff 68.5px,#1212ff 70.8px,#3232ff 73.5px,#6868ff 77.0px,#ccccff 82.5px,#ffffff 85.2px,#ff7f7f 92.0px,#ff4242 95.8px,#ff1b1b 98.8px,#ff0505 101.3px,#ff0000 102.8px,#ff0202 105.5px,#ff1111 107.5px,#ff2f2f 109.8px,#ff7676 113.8px,#ffadad 117.0px,#ffcdcd 119.5px,#ffe4e4 122.3px,#fff4f4 125.5px,#fffcfc 130.5px,#ffffff 151.8px,#ffffff 169.8px)"></i><i style="top:96.00px;height:1.00px;background:linear-gradient(90deg,#ffffff 0.0px,#fdfdff 39.0px,#f5f5ff 44.3px,#e6e6ff 47.8px,#d0d0ff 50.5px,#b1b1ff 53.0px,#8080ff 56.0px,#3333ff 60.3px,#1313ff 62.5px,#0202ff 64.5px,#0000ff 66.8px,#0101ff 68.5px,#1111ff 70.8px,#3232ff 73.5px,#6767ff 77.0px,#ccccff 82.5px,#ffffff 85.2px,#ff7f7f 92.0px,#ff3e3e 96.0px,#ff1717 99.0px,#ff0303 101.5px,#ff0000 102.8px,#ff0101 105.8px,#ff1212 107.8px,#ff3131 110.0px,#ffa4a4 116.5px,#ffc7c7 119.0px,#ffe1e1 121.8px,#fff2f2 125.0px,#fffcfc 129.8px,#ffffff 143.8px,#ffffff 169.8px)"></i><i style="top:97.00px;height:1.00px;background:linear-gradient(90deg,#ffffff 0.0px,#fdfdff 39.0px,#f5f5ff 44.3px,#e6e6ff 47.8px,#cfcfff 50.5px,#b0b0ff 53.0px,#7e7eff 56.0px,#3131ff 60.3px,#1212ff 62.5px,#0000ff 64.5px,#0101ff 68.8px,#1313ff 71.0px,#3434ff 73.8px,#7070ff 77.5px,#dfdfff 83.5px,#ffffff 85.2px,#ff7f7f 92.0px,#ff3d3d 96.0px,#ff1717 99.0px,#ff0202 101.5px,#ff0000 105.5px,#ff0707 106.8px,#ff1d1d 108.8px,#ff4545 111.3px,#ff9f9f 116.3px,#ffc3c3 118.8px,#ffdcdc 121.3px,#ffefef 124.3px,#fffafa 128.5px,#ffffff 137.8px,#ffffff 169.8px)"></i><i style="top:98.00px;height:1.00px;background:linear-gradient(90deg,#ffffff 0.0px,#fdfdff 39.0px,#f5f5ff 44.3px,#e6e6ff 47.8px,#cfcfff 50.5px,#b0b0ff 53.0px,#7d7dff 56.0px,#2f2fff 60.3px,#1010ff 62.5px,#0101ff 64.3px,#0000ff 68.8px,#1212ff 71.0px,#3434ff 73.8px,#6f6fff 77.5px,#dfdfff 83.5px,#ffffff 85.2px,#ff7a7a 92.3px,#ff3d3d 96.0px,#ff1616 99.0px,#ff0101 101.5px,#ff0000 106.0px,#ff1212 108.0px,#ff3232 110.3px,#ffa2a2 116.5px,#ffc5c5 119.0px,#ffe0e0 121.8px,#fff1f1 125.0px,#fffbfb 129.5px,#ffffff 141.8px,#ffffff 169.8px)"></i><i style="top:99.00px;height:1.00px;background:linear-gradient(90deg,#ffffff 0.0px,#fdfdff 39.0px,#f5f5ff 44.3px,#e5e5ff 47.8px,#ceceff 50.5px,#afafff 53.0px,#7c7cff 56.0px,#2e2eff 60.3px,#0f0fff 62.5px,#0000ff 64.3px,#0101ff 69.0px,#1717ff 71.5px,#3e3eff 74.5px,#8181ff 78.5px,#ffffff 85.2px,#ff7a7a 92.3px,#ff3c3c 96.0px,#ff1515 99.0px,#ff0202 101.3px,#ff0000 106.3px,#ff1313 108.3px,#ff3535 110.5px,#ffa2a2 116.5px,#ffc5c5 119.0px,#ffdede 121.5px,#ffefef 124.5px,#fffafa 128.8px,#ffffff 138.3px,#ffffff 169.8px)"></i><i style="top:100.00px;height:1.00px;background:linear-gradient(90deg,#ffffff 0.0px,#fdfdff 38.8px,#f5f5ff 44.3px,#e7e7ff 47.5px,#d1d1ff 50.3px,#b2b2ff 52.8px,#8484ff 55.5px,#2d2dff 60.3px,#0d0dff 62.5px,#0000ff 64.0px,#0000ff 69.0px,#1616ff 71.5px,#3e3eff 74.5px,#8181ff 78.5px,#ffffff 85.2px,#ff7979 92.3px,#ff3c3c 96.0px,#ff1515 99.0px,#ff0101 101.3px,#ff0101 106.5px,#ff1515 108.5px,#ff3737 110.8px,#ffa1a1 116.5px,#ffc4c4 119.0px,#ffdddd 121.5px,#ffefef 124.5px,#fffafa 128.8px,#ffffff 138.3px,#ffffff 169.8px)"></i><i style="top:101.00px;height:1.00px;background:linear-gradient(90deg,#ffffff 0.0px,#fdfdff 38.8px,#f5f5ff 44.0px,#e6e6ff 47.5px,#d0d0ff 50.3px,#b1b1ff 52.8px,#7e7eff 55.8px,#2b2bff 60.3px,#0c0cff 62.5px,#0000ff 63.8px,#0101ff 69.3px,#1919ff 71.8px,#4141ff 74.8px,#8989ff 79.0px,#ffffff 85.2px,#ff7979 92.3px,#ff3b3b 96.0px,#ff1414 99.0px,#ff0000 101.3px,#ff0202 106.8px,#ff1717 108.8px,#ff3f3f 111.3px,#ff9c9c 116.3px,#ffc1c1 118.8px,#ffdbdb 121.3px,#ffeeee 124.3px,#fff9f9 128.3px,#ffffff 136.5px,#ffffff 169.8px)"></i><i style="top:102.00px;height:1.00px;background:linear-gradient(90deg,#ffffff 0.0px,#fdfdff 38.8px,#f5f5ff 44.0px,#e6e6ff 47.5px,#d0d0ff 50.3px,#b0b0ff 52.8px,#7d7dff 55.8px,#2e2eff 60.0px,#0e0eff 62.3px,#0000ff 63.8px,#0000ff 69.3px,#1818ff 71.8px,#4141ff 74.8px,#8989ff 79.0px,#ffffff 85.2px,#ff7979 92.3px,#ff3b3b 96.0px,#ff1414 99.0px,#ff0101 101.0px,#ff0000 106.8px,#ff1616 108.8px,#ff3e3e 111.3px,#ff9f9f 116.5px,#ffc3c3 119.0px,#ffdddd 121.5px,#ffefef 124.5px,#fffafa 128.8px,#ffffff 138.0px,#ffffff 169.8px)"></i><i style="top:103.00px;height:1.00px;background:linear-gradient(90deg,#ffffff 0.0px,#fdfdff 38.8px,#f5f5ff 44.0px,#e6e6ff 47.5px,#cfcfff 50.3px,#b0b0ff 52.8px,#7d7dff 55.8px,#2d2dff 60.0px,#0d0dff 62.3px,#0000ff 63.5px,#0000ff 69.3px,#1515ff 71.5px,#3d3dff 74.5px,#8080ff 78.5px,#ffffff 85.2px,#ff7979 92.3px,#ff3b3b 96.0px,#ff1313 99.0px,#ff0000 101.0px,#ff0202 107.0px,#ff1818 109.0px,#ff4141 111.5px,#ff9f9f 116.5px,#ffc3c3 119.0px,#ffdcdc 121.5px,#ffefef 124.5px,#fffafa 128.8px,#ffffff 138.0px,#ffffff 169.8px)"></i><i style="top:104.00px;height:1.00px;background:linear-gradient(90deg,#ffffff 0.0px,#fdfdff 38.8px,#f5f5ff 44.0px,#e6e6ff 47.5px,#cfcfff 50.3px,#afafff 52.8px,#7c7cff 55.8px,#2c2cff 60.0px,#0c0cff 62.3px,#0000ff 63.5px,#0101ff 69.5px,#1a1aff 72.0px,#4848ff 75.3px,#9797ff 79.8px,#ffffff 85.2px,#ff7979 92.3px,#ff3737 96.3px,#ff1010 99.3px,#ff0000 101.0px,#ff0101 107.0px,#ff1717 109.0px,#ff4040 111.5px,#ff9e9e 116.5px,#ffc2c2 119.0px,#ffdcdc 121.5px,#ffefef 124.5px,#fffafa 128.8px,#ffffff 138.0px,#ffffff 169.8px)"></i><i style="top:105.00px;height:1.00px;background:linear-gradient(90deg,#ffffff 0.0px,#fdfdff 38.8px,#f5f5ff 44.0px,#e6e6ff 47.5px,#cfcfff 50.3px,#afafff 52.8px,#7b7bff 55.8px,#2b2bff 60.0px,#0b0bff 62.3px,#0000ff 63.5px,#0101ff 69.5px,#1a1aff 72.0px,#4848ff 75.3px,#9797ff 79.8px,#ffffff 85.2px,#ff7979 92.3px,#ff3636 96.3px,#ff1010 99.3px,#ff0000 101.0px,#ff0000 107.0px,#ff1616 109.0px,#ff4040 111.5px,#ff9d9d 116.5px,#ffc2c2 119.0px,#ffdcdc 121.5px,#ffeeee 124.5px,#fffafa 128.5px,#ffffff 137.0px,#ffffff 169.8px)"></i><i style="top:106.00px;height:1.00px;background:linear-gradient(90deg,#ffffff 0.0px,#fdfdff 38.8px,#f5f5ff 44.0px,#e7e7ff 47.3px,#d1d1ff 50.0px,#b2b2ff 52.5px,#8484ff 55.3px,#2a2aff 60.0px,#0a0aff 62.3px,#0000ff 63.3px,#0000ff 69.5px,#1a1aff 72.0px,#4848ff 75.3px,#9797ff 79.8px,#ffffff 85.2px,#ff7878 92.3px,#ff3636 96.3px,#ff0f0f 99.3px,#ff0000 101.0px,#ff0101 107.3px,#ff1919 109.3px,#ff4343 111.8px,#ff9d9d 116.5px,#ffc2c2 119.0px,#ffdcdc 121.5px,#ffeeee 124.5px,#fffafa 128.5px,#ffffff 137.0px,#ffffff 169.8px)"></i><i style="top:107.00px;height:1.00px;background:linear-gradient(90deg,#ffffff 0.0px,#fdfdff 38.8px,#f5f5ff 44.0px,#e7e7ff 47.3px,#d1d1ff 50.0px,#b2b2ff 52.5px,#8383ff 55.3px,#2a2aff 60.0px,#0909ff 62.3px,#0000ff 63.3px,#0000ff 69.5px,#1919ff 72.0px,#4848ff 75.3px,#9797ff 79.8px,#ffffff 85.2px,#ff7878 92.3px,#ff3636 96.3px,#ff0f0f 99.3px,#ff0101 100.8px,#ff0101 107.3px,#ff1919 109.3px,#ff4343 111.8px,#ff9c9c 116.5px,#ffc1c1 119.0px,#ffdcdc 121.5px,#ffeeee 124.5px,#fffafa 128.5px,#ffffff 137.0px,#ffffff 169.8px)"></i><i style="top:108.00px;height:1.00px;background:linear-gradient(90deg,#ffffff 0.0px,#fdfdff 38.8px,#f5f5ff 44.0px,#e7e7ff 47.3px,#d1d1ff 50.0px,#b1b1ff 52.5px,#8383ff 55.3px,#2929ff 60.0px,#0909ff 62.3px,#0000ff 63.3px,#0202ff 69.8px,#1c1cff 72.3px,#4c4cff 75.5px,#9b9bff 80.0px,#ffffff 85.2px,#ff7878 92.3px,#ff3636 96.3px,#ff0f0f 99.3px,#ff0000 100.8px,#ff0000 107.3px,#ff1818 109.3px,#ff4242 111.8px,#ff9c9c 116.5px,#ffc1c1 119.0px,#ffdbdb 121.5px,#ffeeee 124.5px,#fffafa 128.5px,#ffffff 137.0px,#ffffff 169.8px)"></i><i style="top:109.00px;height:1.00px;background:linear-gradient(90deg,#ffffff 0.0px,#fdfdff 38.8px,#f5f5ff 44.0px,#e7e7ff 47.3px,#d0d0ff 50.0px,#b1b1ff 52.5px,#8383ff 55.3px,#2929ff 60.0px,#0808ff 62.3px,#0101ff 63.0px,#0101ff 69.8px,#1c1cff 72.3px,#4c4cff 75.5px,#9b9bff 80.0px,#ffffff 85.2px,#ff7878 92.3px,#ff3636 96.3px,#ff0e0e 99.3px,#ff0000 100.8px,#ff0000 107.3px,#ff1414 109.0px,#ff3d3d 111.5px,#ff9c9c 116.5px,#ffc1c1 119.0px,#ffdbdb 121.5px,#ffeeee 124.5px,#fffafa 128.5px,#ffffff 137.0px,#ffffff 169.8px)"></i><i style="top:110.00px;height:1.00px;background:linear-gradient(90deg,#ffffff 0.0px,#fdfdff 38.8px,#f5f5ff 44.0px,#e7e7ff 47.3px,#d0d0ff 50.0px,#b1b1ff 52.5px,#8282ff 55.3px,#2828ff 60.0px,#0808ff 62.3px,#0000ff 63.0px,#0101ff 69.8px,#1c1cff 72.3px,#4b4bff 75.5px,#9b9bff 80.0px,#ffffff 85.2px,#ff7878 92.3px,#ff3636 96.3px,#ff0e0e 99.3px,#ff0000 100.8px,#ff0000 107.3px,#ff1313 109.0px,#ff3d3d 111.5px,#ff9b9b 116.5px,#ffc1c1 119.0px,#ffdbdb 121.5px,#ffeeee 124.5px,#fffafa 128.5px,#ffffff 136.8px,#ffffff 169.8px)"></i><i style="top:111.00px;height:1.00px;background:linear-gradient(90deg,#ffffff 0.0px,#fdfdff 38.8px,#f5f5ff 44.0px,#e7e7ff 47.3px,#d0d0ff 50.0px,#b1b1ff 52.5px,#8282ff 55.3px,#2828ff 60.0px,#0808ff 62.3px,#0000ff 63.0px,#0101ff 69.8px,#1c1cff 72.3px,#4b4bff 75.5px,#a0a0ff 80.3px,#ffffff 85.2px,#ff7878 92.3px,#ff3535 96.3px,#ff0e0e 99.3px,#ff0000 100.8px,#ff0101 107.5px,#ff1a1a 109.5px,#ff4b4b 112.3px,#ff9b9b 116.5px,#ffc1c1 119.0px,#ffdbdb 121.5px,#ffeeee 124.5px,#fffafa 128.5px,#ffffff 136.8px,#ffffff 169.8px)"></i><i style="top:112.00px;height:1.00px;background:linear-gradient(90deg,#ffffff 0.0px,#fdfdff 38.8px,#f5f5ff 44.0px,#e7e7ff 47.3px,#d0d0ff 50.0px,#b1b1ff 52.5px,#8282ff 55.3px,#2828ff 60.0px,#0808ff 62.3px,#0000ff 63.0px,#0101ff 69.8px,#1c1cff 72.3px,#4b4bff 75.5px,#a0a0ff 80.3px,#ffffff 85.2px,#ff7878 92.3px,#ff3535 96.3px,#ff0e0e 99.3px,#ff0000 100.8px,#ff0101 107.5px,#ff1a1a 109.5px,#ff4a4a 112.3px,#ff9b9b 116.5px,#ffc1c1 119.0px,#ffdbdb 121.5px,#ffeeee 124.5px,#fffafa 128.5px,#ffffff 136.8px,#ffffff 169.8px)"></i><i style="top:113.00px;height:1.00px;background:linear-gradient(90deg,#ffffff 0.0px,#fdfdff 38.8px,#f5f5ff 44.0px,#e7e7ff 47.3px,#d0d0ff 50.0px,#b1b1ff 52.5px,#8282ff 55.3px,#2828ff 60.0px,#0707ff 62.3px,#0000ff 63.0px,#0101ff 69.8px,#1c1cff 72.3px,#4b4bff 75.5px,#a0a0ff 80.3px,#ffffff 85.2px,#ff7878 92.3px,#ff3535 96.3px,#ff0e0e 99.3px,#ff0000 100.8px,#ff0101 107.5px,#ff1a1a 109.5px,#ff4a4a 112.3px,#ff9b9b 116.5px,#ffc1c1 119.0px,#ffdbdb 121.5px,#ffeeee 124.5px,#fffafa 128.5px,#ffffff 136.8px,#ffffff 169.8px)"></i><i style="top:114.00px;height:1.00px;background:linear-gradient(90deg,#ffffff 0.0px,#fdfdff 38.8px,#f5f5ff 44.0px,#e7e7ff 47.3px,#d0d0ff 50.0px,#b1b1ff 52.5px,#8282ff 55.3px,#2828ff 60.0px,#0707ff 62.3px,#0000ff 63.0px,#0101ff 69.8px,#1c1cff 72.3px,#4b4bff 75.5px,#a0a0ff 80.3px,#ffffff 85.2px,#ff7878 92.3px,#ff3535 96.3px,#ff0e0e 99.3px,#ff0000 100.8px,#ff0101 107.5px,#ff1a1a 109.5px,#ff4a4a 112.3px,#ff9b9b 116.5px,#ffc1c1 119.0px,#ffdbdb 121.5px,#ffeeee 124.5px,#fffafa 128.5px,#ffffff 136.8px,#ffffff 169.8px)"></i><i style="top:115.00px;height:1.00px;background:linear-gradient(90deg,#ffffff 0.0px,#fdfdff 38.8px,#f5f5ff 44.0px,#e7e7ff 47.3px,#d0d0ff 50.0px,#b1b1ff 52.5px,#8282ff 55.3px,#2828ff 60.0px,#0707ff 62.3px,#0000ff 63.0px,#0101ff 69.8px,#1c1cff 72.3px,#4b4bff 75.5px,#a0a0ff 80.3px,#ffffff 85.2px,#ff7878 92.3px,#ff3535 96.3px,#ff0e0e 99.3px,#ff0000 100.8px,#ff0101 107.5px,#ff1a1a 109.5px,#ff4a4a 112.3px,#ff9b9b 116.5px,#ffc1c1 119.0px,#ffdbdb 121.5px,#ffeeee 124.5px,#fffafa 128.5px,#ffffff 136.8px,#ffffff 169.8px)"></i><i style="top:116.00px;height:1.00px;background:linear-gradient(90deg,#ffffff 0.0px,#fdfdff 38.8px,#f5f5ff 44.0px,#e7e7ff 47.3px,#d0d0ff 50.0px,#b1b1ff 52.5px,#8282ff 55.3px,#2828ff 60.0px,#0808ff 62.3px,#0000ff 63.0px,#0101ff 69.8px,#1c1cff 72.3px,#4b4bff 75.5px,#a0a0ff 80.3px,#ffffff 85.2px,#ff7878 92.3px,#ff3535 96.3px,#ff0e0e 99.3px,#ff0000 100.8px,#ff0101 107.5px,#ff1a1a 109.5px,#ff4b4b 112.3px,#ff9b9b 116.5px,#ffc1c1 119.0px,#ffdbdb 121.5px,#ffeeee 124.5px,#fffafa 128.5px,#ffffff 136.8px,#ffffff 169.8px)"></i><i style="top:117.00px;height:1.00px;background:linear-gradient(90deg,#ffffff 0.0px,#fdfdff 38.8px,#f5f5ff 44.0px,#e7e7ff 47.3px,#d0d0ff 50.0px,#b1b1ff 52.5px,#8282ff 55.3px,#2828ff 60.0px,#0808ff 62.3px,#0000ff 63.0px,#0101ff 69.8px,#1c1cff 72.3px,#4b4bff 75.5px,#a0a0ff 80.3px,#ffffff 85.2px,#ff7878 92.3px,#ff3636 96.3px,#ff0e0e 99.3px,#ff0000 100.8px,#ff0202 107.5px,#ff1b1b 109.5px,#ff4b4b 112.3px,#ff9b9b 116.5px,#ffc1c1 119.0px,#ffdbdb 121.5px,#ffeeee 124.5px,#fffafa 128.5px,#ffffff 136.8px,#ffffff 169.8px)"></i><i style="top:118.00px;height:1.00px;background:linear-gradient(90deg,#ffffff 0.0px,#fdfdff 38.8px,#f5f5ff 44.0px,#e7e7ff 47.3px,#d0d0ff 50.0px,#b1b1ff 52.5px,#8282ff 55.3px,#2929ff 60.0px,#0808ff 62.3px,#0000ff 63.0px,#0101ff 69.8px,#1c1cff 72.3px,#4b4bff 75.5px,#9b9bff 80.0px,#ffffff 85.2px,#ff7878 92.3px,#ff3636 96.3px,#ff0e0e 99.3px,#ff0000 100.8px,#ff0000 107.3px,#ff1414 109.0px,#ff3d3d 111.5px,#ff9c9c 116.5px,#ffc1c1 119.0px,#ffdbdb 121.5px,#ffeeee 124.5px,#fffafa 128.5px,#ffffff 137.0px,#ffffff 169.8px)"></i><i style="top:119.00px;height:1.00px;background:linear-gradient(90deg,#ffffff 0.0px,#fdfdff 38.8px,#f5f5ff 44.0px,#e7e7ff 47.3px,#d1d1ff 50.0px,#b1b1ff 52.5px,#8383ff 55.3px,#2929ff 60.0px,#0909ff 62.3px,#0000ff 63.3px,#0101ff 69.8px,#1c1cff 72.3px,#4c4cff 75.5px,#9b9bff 80.0px,#ffffff 85.2px,#ff7878 92.3px,#ff3636 96.3px,#ff0f0f 99.3px,#ff0000 100.8px,#ff0000 107.3px,#ff1818 109.3px,#ff4242 111.8px,#ff9c9c 116.5px,#ffc1c1 119.0px,#ffdbdb 121.5px,#ffeeee 124.5px,#fffafa 128.5px,#ffffff 137.0px,#ffffff 169.8px)"></i><i style="top:120.00px;height:1.00px;background:linear-gradient(90deg,#ffffff 0.0px,#fdfdff 38.8px,#f5f5ff 44.0px,#e7e7ff 47.3px,#d1d1ff 50.0px,#b2b2ff 52.5px,#8383ff 55.3px,#2a2aff 60.0px,#0909ff 62.3px,#0000ff 63.3px,#0000ff 69.5px,#1919ff 72.0px,#4848ff 75.3px,#9696ff 79.8px,#ffffff 85.2px,#ff7878 92.3px,#ff3636 96.3px,#ff0f0f 99.3px,#ff0101 100.8px,#ff0000 107.3px,#ff1818 109.3px,#ff4343 111.8px,#ff9c9c 116.5px,#ffc1c1 119.0px,#ffdbdb 121.5px,#ffeeee 124.5px,#fffafa 128.5px,#ffffff 137.0px,#ffffff 169.8px)"></i><i style="top:121.00px;height:1.00px;background:linear-gradient(90deg,#ffffff 0.0px,#fdfdff 38.8px,#f5f5ff 44.0px,#e7e7ff 47.3px,#d1d1ff 50.0px,#b2b2ff 52.5px,#8484ff 55.3px,#2a2aff 60.0px,#0a0aff 62.3px,#0000ff 63.3px,#0000ff 69.5px,#1a1aff 72.0px,#4848ff 75.3px,#9797ff 79.8px,#ffffff 85.2px,#ff7878 92.3px,#ff3636 96.3px,#ff0f0f 99.3px,#ff0000 101.0px,#ff0101 107.3px,#ff1919 109.3px,#ff4343 111.8px,#ff9d9d 116.5px,#ffc2c2 119.0px,#ffdcdc 121.5px,#ffeeee 124.5px,#fffafa 128.5px,#ffffff 137.0px,#ffffff 169.8px)"></i><i style="top:122.00px;height:1.00px;background:linear-gradient(90deg,#ffffff 0.0px,#fdfdff 38.8px,#f5f5ff 44.0px,#e6e6ff 47.5px,#cfcfff 50.3px,#afafff 52.8px,#7b7bff 55.8px,#2b2bff 60.0px,#0b0bff 62.3px,#0000ff 63.3px,#0000ff 69.5px,#1a1aff 72.0px,#4848ff 75.3px,#9797ff 79.8px,#ffffff 85.2px,#ff7979 92.3px,#ff3636 96.3px,#ff0f0f 99.3px,#ff0000 101.0px,#ff0000 107.0px,#ff1313 108.8px,#ff3636 111.0px,#ff9d9d 116.5px,#ffc2c2 119.0px,#ffdcdc 121.5px,#ffeeee 124.5px,#fffafa 128.5px,#ffffff 137.0px,#ffffff 169.8px)"></i><i style="top:123.00px;height:1.00px;background:linear-gradient(90deg,#ffffff 0.0px,#fdfdff 38.8px,#f5f5ff 44.0px,#e6e6ff 47.5px,#cfcfff 50.3px,#afafff 52.8px,#7c7cff 55.8px,#2c2cff 60.0px,#0c0cff 62.3px,#0000ff 63.5px,#0101ff 69.5px,#1a1aff 72.0px,#4848ff 75.3px,#9797ff 79.8px,#ffffff 85.2px,#ff7979 92.3px,#ff3737 96.3px,#ff1010 99.3px,#ff0000 101.0px,#ff0000 107.0px,#ff1717 109.0px,#ff4040 111.5px,#ff9e9e 116.5px,#ffc2c2 119.0px,#ffdcdc 121.5px,#ffefef 124.5px,#fffafa 128.8px,#ffffff 138.0px,#ffffff 169.8px)"></i><i style="top:124.00px;height:1.00px;background:linear-gradient(90deg,#ffffff 0.0px,#fdfdff 38.8px,#f5f5ff 44.0px,#e6e6ff 47.5px,#cfcfff 50.3px,#b0b0ff 52.8px,#7c7cff 55.8px,#2d2dff 60.0px,#0c0cff 62.3px,#0000ff 63.5px,#0101ff 69.5px,#1b1bff 72.0px,#4949ff 75.3px,#9797ff 79.8px,#ffffff 85.2px,#ff7979 92.3px,#ff3737 96.3px,#ff1010 99.3px,#ff0000 101.0px,#ff0101 107.0px,#ff1818 109.0px,#ff4141 111.5px,#ff9e9e 116.5px,#ffc3c3 119.0px,#ffdcdc 121.5px,#ffefef 124.5px,#fffafa 128.8px,#ffffff 138.0px,#ffffff 169.8px)"></i><i style="top:125.00px;height:1.00px;background:linear-gradient(90deg,#ffffff 0.0px,#fdfdff 38.8px,#f5f5ff 44.0px,#e6e6ff 47.5px,#d0d0ff 50.3px,#b0b0ff 52.8px,#7d7dff 55.8px,#2e2eff 60.0px,#0d0dff 62.3px,#0000ff 63.8px,#0000ff 69.3px,#1818ff 71.8px,#4141ff 74.8px,#8989ff 79.0px,#ffffff 85.2px,#ff7979 92.3px,#ff3b3b 96.0px,#ff1313 99.0px,#ff0101 101.0px,#ff0000 106.8px,#ff1616 108.8px,#ff3e3e 111.3px,#ff9f9f 116.5px,#ffc3c3 119.0px,#ffdddd 121.5px,#ffefef 124.5px,#fffafa 128.8px,#ffffff 138.0px,#ffffff 169.8px)"></i><i style="top:126.00px;height:1.00px;background:linear-gradient(90deg,#ffffff 0.0px,#fdfdff 38.8px,#f5f5ff 44.0px,#e6e6ff 47.5px,#d0d0ff 50.3px,#b1b1ff 52.8px,#7e7eff 55.8px,#2b2bff 60.3px,#0c0cff 62.5px,#0000ff 63.8px,#0101ff 69.3px,#1818ff 71.8px,#4141ff 74.8px,#8989ff 79.0px,#ffffff 85.2px,#ff7979 92.3px,#ff3b3b 96.0px,#ff1414 99.0px,#ff0000 101.3px,#ff0101 106.8px,#ff1717 108.8px,#ff3f3f 111.3px,#ff9c9c 116.3px,#ffc1c1 118.8px,#ffdbdb 121.3px,#ffeeee 124.3px,#fff9f9 128.3px,#ffffff 136.5px,#ffffff 169.8px)"></i><i style="top:127.00px;height:1.00px;background:linear-gradient(90deg,#ffffff 0.0px,#fdfdff 38.8px,#f5f5ff 44.0px,#e7e7ff 47.5px,#d0d0ff 50.3px,#b1b1ff 52.8px,#7f7fff 55.8px,#2c2cff 60.3px,#0d0dff 62.5px,#0000ff 64.0px,#0202ff 69.3px,#1919ff 71.8px,#4242ff 74.8px,#8585ff 78.8px,#ffffff 85.2px,#ff7979 92.3px,#ff3c3c 96.0px,#ff1414 99.0px,#ff0101 101.3px,#ff0000 106.5px,#ff1515 108.5px,#ff3737 110.8px,#ffa0a0 116.5px,#ffc4c4 119.0px,#ffdddd 121.5px,#ffefef 124.5px,#fffafa 128.8px,#ffffff 138.3px,#ffffff 169.8px)"></i><i style="top:128.00px;height:1.00px;background:linear-gradient(90deg,#ffffff 0.0px,#fdfdff 39.0px,#f5f5ff 44.3px,#e5e5ff 47.8px,#ceceff 50.5px,#afafff 53.0px,#7c7cff 56.0px,#2d2dff 60.3px,#0e0eff 62.5px,#0101ff 64.0px,#0101ff 69.0px,#1717ff 71.5px,#3e3eff 74.5px,#8181ff 78.5px,#ffffff 85.2px,#ff7a7a 92.3px,#ff3c3c 96.0px,#ff1515 99.0px,#ff0101 101.3px,#ff0000 106.3px,#ff1313 108.3px,#ff3434 110.5px,#ffa1a1 116.5px,#ffc5c5 119.0px,#ffdddd 121.5px,#ffefef 124.5px,#fffafa 128.8px,#ffffff 138.3px,#ffffff 169.8px)"></i><i style="top:129.00px;height:1.00px;background:linear-gradient(90deg,#ffffff 0.0px,#fdfdff 39.0px,#f5f5ff 44.3px,#e6e6ff 47.8px,#cfcfff 50.5px,#afafff 53.0px,#7d7dff 56.0px,#2f2fff 60.3px,#1010ff 62.5px,#0000ff 64.3px,#0101ff 69.0px,#1717ff 71.5px,#3f3fff 74.5px,#8181ff 78.5px,#ffffff 85.2px,#ff7a7a 92.3px,#ff3c3c 96.0px,#ff1616 99.0px,#ff0101 101.5px,#ff0101 106.3px,#ff1414 108.3px,#ff3636 110.5px,#ffa2a2 116.5px,#ffc5c5 119.0px,#ffdede 121.5px,#ffefef 124.5px,#fffafa 128.8px,#ffffff 138.5px,#ffffff 169.8px)"></i><i style="top:130.00px;height:1.00px;background:linear-gradient(90deg,#ffffff 0.0px,#fdfdff 39.0px,#f5f5ff 44.3px,#e6e6ff 47.8px,#cfcfff 50.5px,#b0b0ff 53.0px,#7e7eff 56.0px,#3030ff 60.3px,#1111ff 62.5px,#0000ff 64.5px,#0101ff 68.8px,#1313ff 71.0px,#3434ff 73.8px,#7070ff 77.5px,#dfdfff 83.5px,#ffffff 85.2px,#ff7e7e 92.0px,#ff3d3d 96.0px,#ff1616 99.0px,#ff0101 101.5px,#ff0101 106.0px,#ff1313 108.0px,#ff3333 110.3px,#ffa3a3 116.5px,#ffc6c6 119.0px,#ffe0e0 121.8px,#fff1f1 125.0px,#fffbfb 129.5px,#ffffff 142.0px,#ffffff 169.8px)"></i><i style="top:131.00px;height:1.00px;background:linear-gradient(90deg,#ffffff 0.0px,#fdfdff 39.0px,#f5f5ff 44.3px,#e6e6ff 47.8px,#d0d0ff 50.5px,#b1b1ff 53.0px,#7f7fff 56.0px,#3232ff 60.3px,#1313ff 62.5px,#0101ff 64.5px,#0101ff 68.5px,#1111ff 70.8px,#3131ff 73.5px,#6767ff 77.0px,#ccccff 82.5px,#ffffff 85.2px,#ff7f7f 92.0px,#ff3d3d 96.0px,#ff1717 99.0px,#ff0202 101.5px,#ff0000 102.8px,#ff0101 105.8px,#ff1212 107.8px,#ff3030 110.0px,#ffa4a4 116.5px,#ffc7c7 119.0px,#ffe0e0 121.8px,#fff2f2 125.0px,#fffcfc 129.8px,#ffffff 143.8px,#ffffff 169.8px)"></i><i style="top:132.00px;height:1.00px;background:linear-gradient(90deg,#ffffff 0.0px,#fdfdff 39.0px,#f5f5ff 44.3px,#e6e6ff 47.8px,#d0d0ff 50.5px,#b2b2ff 53.0px,#8080ff 56.0px,#3030ff 60.5px,#1212ff 62.8px,#0202ff 64.8px,#0101ff 68.3px,#1010ff 70.5px,#2f2fff 73.3px,#6464ff 76.8px,#c2c2ff 82.0px,#ffffff 85.2px,#ff7f7f 92.0px,#ff4242 95.8px,#ff1b1b 98.8px,#ff0505 101.3px,#ff0000 102.5px,#ff0101 105.5px,#ff1010 107.5px,#ff2e2e 109.8px,#ff7171 113.5px,#ffa9a9 116.8px,#ffcaca 119.3px,#ffe3e3 122.0px,#fff3f3 125.3px,#fffcfc 130.3px,#ffffff 148.5px,#ffffff 169.8px)"></i><i style="top:133.00px;height:1.00px;background:linear-gradient(90deg,#ffffff 0.0px,#fdfdff 39.0px,#f5f5ff 44.5px,#e5e5ff 48.0px,#ceceff 50.8px,#afafff 53.3px,#7d7dff 56.3px,#3131ff 60.5px,#1313ff 62.8px,#0303ff 64.8px,#0000ff 66.0px,#0202ff 68.3px,#1111ff 70.5px,#2f2fff 73.3px,#6464ff 76.8px,#c2c2ff 82.0px,#ffffff 85.2px,#ff7f7f 92.0px,#ff4242 95.8px,#ff1b1b 98.8px,#ff0606 101.3px,#ff0000 103.0px,#ff0202 105.3px,#ff1010 107.3px,#ff2c2c 109.5px,#ff6464 112.8px,#ffa6a6 116.5px,#ffc8c8 119.0px,#ffe1e1 121.8px,#fff2f2 125.0px,#fffcfc 129.8px,#ffffff 144.3px,#ffffff 169.8px)"></i><i style="top:134.00px;height:1.00px;background:linear-gradient(90deg,#ffffff 0.0px,#fdfdff 39.0px,#f5f5ff 44.5px,#e6e6ff 48.0px,#cfcfff 50.8px,#b0b0ff 53.3px,#7f7fff 56.3px,#3333ff 60.5px,#1515ff 62.8px,#0505ff 64.8px,#0000ff 66.8px,#0505ff 68.8px,#1616ff 71.0px,#3737ff 73.8px,#6d6dff 77.3px,#d1d1ff 82.8px,#ffffff 85.2px,#ff8080 92.0px,#ff4343 95.8px,#ff1c1c 98.8px,#ff0707 101.3px,#ff0000 103.3px,#ff0303 105.3px,#ff1111 107.3px,#ff2e2e 109.5px,#ff6b6b 113.0px,#ffa7a7 116.5px,#ffc9c9 119.0px,#ffe2e2 121.8px,#fff2f2 125.0px,#fffcfc 129.8px,#ffffff 144.5px,#ffffff 169.8px)"></i><i style="top:135.00px;height:1.00px;background:linear-gradient(90deg,#ffffff 0.0px,#fdfdff 39.3px,#f5f5ff 44.5px,#e6e6ff 48.0px,#d0d0ff 50.8px,#b1b1ff 53.3px,#8080ff 56.3px,#3535ff 60.5px,#1717ff 62.8px,#0707ff 64.8px,#0101ff 66.8px,#0606ff 68.8px,#1717ff 71.0px,#3737ff 73.8px,#6d6dff 77.3px,#d1d1ff 82.8px,#ffffff 85.2px,#ff8080 92.0px,#ff4343 95.8px,#ff1d1d 98.8px,#ff0808 101.3px,#ff0101 103.5px,#ff0606 105.5px,#ff1616 107.5px,#ff3434 109.8px,#ffa5a5 116.3px,#ffc9c9 119.0px,#ffe2e2 121.8px,#fff2f2 125.0px,#fffcfc 129.8px,#ffffff 145.0px,#ffffff 169.8px)"></i><i style="top:136.00px;height:1.00px;background:linear-gradient(90deg,#ffffff 0.0px,#fdfdff 39.3px,#f5f5ff 44.5px,#e6e6ff 48.0px,#d1d1ff 50.8px,#b2b2ff 53.3px,#8282ff 56.3px,#3434ff 60.8px,#1616ff 63.0px,#0707ff 65.0px,#0303ff 67.0px,#0a0aff 69.3px,#2020ff 71.8px,#4646ff 74.8px,#8787ff 78.8px,#ffffff 85.2px,#ff8080 92.0px,#ff4444 95.8px,#ff1e1e 98.8px,#ff0a0a 101.3px,#ff0303 103.5px,#ff0808 105.5px,#ff1818 107.5px,#ff3636 109.8px,#ffa6a6 116.3px,#ffcaca 119.0px,#ffe2e2 121.8px,#fff3f3 125.0px,#fffcfc 130.0px,#ffffff 147.5px,#ffffff 169.8px)"></i><i style="top:137.00px;height:1.00px;background:linear-gradient(90deg,#ffffff 0.0px,#fdfdff 39.3px,#f5f5ff 44.8px,#e5e5ff 48.3px,#cfcfff 51.0px,#acacff 53.8px,#7272ff 57.3px,#3636ff 60.8px,#1818ff 63.0px,#0909ff 65.0px,#0505ff 67.0px,#0c0cff 69.3px,#2121ff 71.8px,#4747ff 74.8px,#8888ff 78.8px,#ffffff 85.2px,#ff8181 92.0px,#ff4545 95.8px,#ff1f1f 98.8px,#ff0b0b 101.3px,#ff0404 103.5px,#ff0a0a 105.5px,#ff1a1a 107.5px,#ff3838 109.8px,#ffa7a7 116.3px,#ffcbcb 119.0px,#ffe3e3 121.8px,#fff3f3 125.0px,#fffcfc 130.0px,#ffffff 148.3px,#ffffff 169.8px)"></i><i style="top:138.00px;height:1.00px;background:linear-gradient(90deg,#ffffff 0.0px,#fdfdff 39.3px,#f5f5ff 44.8px,#e6e6ff 48.3px,#d0d0ff 51.0px,#aeaeff 53.8px,#7878ff 57.0px,#3838ff 60.8px,#1b1bff 63.0px,#0b0bff 65.0px,#0606ff 67.0px,#0d0dff 69.3px,#2222ff 71.8px,#4747ff 74.8px,#8888ff 78.8px,#ffffff 85.2px,#ff8181 92.0px,#ff4545 95.8px,#ff2020 98.8px,#ff0c0c 101.3px,#ff0606 103.5px,#ff0c0c 105.5px,#ff1c1c 107.5px,#ff3a3a 109.8px,#ffa5a5 116.0px,#ffc9c9 118.8px,#ffe2e2 121.5px,#fff2f2 124.8px,#fffcfc 129.5px,#ffffff 144.3px,#ffffff 169.8px)"></i><i style="top:139.00px;height:1.00px;background:linear-gradient(90deg,#ffffff 0.0px,#fdfdff 39.3px,#f5f5ff 44.8px,#e6e6ff 48.3px,#d0d0ff 51.0px,#afafff 53.8px,#7a7aff 57.0px,#3636ff 61.0px,#1a1aff 63.3px,#0c0cff 65.3px,#0808ff 67.3px,#1010ff 69.5px,#2525ff 72.0px,#4c4cff 75.0px,#8d8dff 79.0px,#ffffff 85.2px,#ff8282 92.0px,#ff4646 95.8px,#ff2424 98.5px,#ff0f0f 101.0px,#ff0808 103.3px,#ff0d0d 105.3px,#ff1c1c 107.3px,#ff3939 109.5px,#ffaaaa 116.3px,#ffcdcd 119.0px,#ffe4e4 121.8px,#fff4f4 125.3px,#fffdfd 130.5px,#ffffff 158.0px,#ffffff 169.8px)"></i><i style="top:140.00px;height:1.00px;background:linear-gradient(90deg,#ffffff 0.0px,#fdfdff 39.5px,#f4f4ff 45.0px,#e5e5ff 48.5px,#cfcfff 51.3px,#adadff 54.0px,#7373ff 57.5px,#3939ff 61.0px,#1d1dff 63.3px,#0e0eff 65.3px,#0a0aff 67.3px,#1212ff 69.5px,#2727ff 72.0px,#4d4dff 75.0px,#8d8dff 79.0px,#ffffff 85.2px,#ff8282 92.0px,#ff4747 95.8px,#ff2525 98.5px,#ff1111 101.0px,#ff0a0a 103.3px,#ff0f0f 105.3px,#ff1e1e 107.3px,#ff3b3b 109.5px,#ffa8a8 116.0px,#ffcbcb 118.8px,#ffe3e3 121.5px,#fff3f3 124.8px,#fffcfc 129.8px,#ffffff 147.3px,#ffffff 169.8px)"></i><i style="top:141.00px;height:1.00px;background:linear-gradient(90deg,#ffffff 0.0px,#fdfdff 39.5px,#f5f5ff 45.0px,#e6e6ff 48.5px,#d0d0ff 51.3px,#aeaeff 54.0px,#7676ff 57.5px,#3838ff 61.3px,#1d1dff 63.5px,#0f0fff 65.5px,#0c0cff 67.5px,#1515ff 69.8px,#2a2aff 72.3px,#5151ff 75.3px,#9292ff 79.3px,#ffffff 85.2px,#ff8787 91.8px,#ff4b4b 95.5px,#ff2626 98.5px,#ff1212 101.0px,#ff0c0c 103.3px,#ff1111 105.3px,#ff2121 107.3px,#ff3e3e 109.5px,#ffa9a9 116.0px,#ffcccc 118.8px,#ffe3e3 121.5px,#fff4f4 125.0px,#fffdfd 130.3px,#ffffff 155.0px,#ffffff 169.8px)"></i><i style="top:142.00px;height:1.00px;background:linear-gradient(90deg,#ffffff 0.0px,#fdfdff 39.5px,#f5f5ff 45.0px,#e6e6ff 48.5px,#d0d0ff 51.3px,#b0b0ff 54.0px,#7878ff 57.5px,#3a3aff 61.3px,#1f1fff 63.5px,#1111ff 65.5px,#0e0eff 67.5px,#1616ff 69.8px,#2c2cff 72.3px,#5252ff 75.3px,#9292ff 79.3px,#ffffff 85.2px,#ff8787 91.8px,#ff4c4c 95.5px,#ff2727 98.5px,#ff1414 101.0px,#ff0e0e 103.3px,#ff1313 105.3px,#ff2323 107.3px,#ff4040 109.5px,#ffabab 116.0px,#ffcdcd 118.8px,#ffe4e4 121.5px,#fff4f4 125.0px,#fffdfd 130.3px,#ffffff 156.5px,#ffffff 169.8px)"></i><i style="top:143.00px;height:1.00px;background:linear-gradient(90deg,#ffffff 0.0px,#fdfdff 39.5px,#f5f5ff 45.0px,#e7e7ff 48.5px,#d1d1ff 51.3px,#b1b1ff 54.0px,#7a7aff 57.5px,#3d3dff 61.3px,#2222ff 63.5px,#1414ff 65.5px,#1010ff 67.5px,#1818ff 69.8px,#2d2dff 72.3px,#5353ff 75.3px,#9393ff 79.3px,#ffffff 85.2px,#ff8888 91.8px,#ff4d4d 95.5px,#ff2929 98.5px,#ff1616 101.0px,#ff1010 103.3px,#ff1616 105.3px,#ff2626 107.3px,#ff4646 109.8px,#ffa9a9 115.8px,#ffcbcb 118.5px,#ffe3e3 121.3px,#fff3f3 124.8px,#fffcfc 130.0px,#ffffff 153.0px,#ffffff 169.8px)"></i><i style="top:144.00px;height:1.00px;background:linear-gradient(90deg,#ffffff 0.0px,#fdfdff 39.8px,#f5f5ff 45.3px,#e6e6ff 48.8px,#d0d0ff 51.5px,#afafff 54.3px,#7474ff 58.0px,#3c3cff 61.5px,#2222ff 63.8px,#1515ff 65.8px,#1212ff 67.8px,#1b1bff 70.0px,#3131ff 72.5px,#5757ff 75.5px,#9898ff 79.5px,#ffffff 85.2px,#ff8888 91.8px,#ff4e4e 95.5px,#ff2c2c 98.3px,#ff1919 100.8px,#ff1212 103.0px,#ff1717 105.0px,#ff2626 107.0px,#ff4242 109.3px,#ffaaaa 115.8px,#ffcccc 118.5px,#ffe3e3 121.3px,#fff4f4 124.8px,#fffdfd 130.0px,#ffffff 154.0px,#ffffff 169.8px)"></i><i style="top:145.00px;height:1.00px;background:linear-gradient(90deg,#ffffff 0.0px,#fdfdff 39.8px,#f5f5ff 45.3px,#e6e6ff 48.8px,#ceceff 51.8px,#adadff 54.5px,#6e6eff 58.5px,#3b3bff 61.8px,#2222ff 64.0px,#1616ff 66.0px,#1515ff 68.0px,#1e1eff 70.3px,#3535ff 72.8px,#5c5cff 75.8px,#a1a1ff 80.0px,#ffffff 85.2px,#ff8989 91.8px,#ff4f4f 95.5px,#ff2e2e 98.3px,#ff1a1a 100.8px,#ff1414 103.0px,#ff1919 105.0px,#ff2828 107.0px,#ff4848 109.5px,#ffacac 115.8px,#ffcdcd 118.5px,#ffe4e4 121.3px,#fff4f4 124.8px,#fffdfd 130.0px,#ffffff 155.5px,#ffffff 169.8px)"></i><i style="top:146.00px;height:1.00px;background:linear-gradient(90deg,#ffffff 0.0px,#fdfdff 39.8px,#f5f5ff 45.3px,#e7e7ff 48.8px,#cfcfff 51.8px,#afafff 54.5px,#7070ff 58.5px,#3e3eff 61.8px,#2525ff 64.0px,#1919ff 66.0px,#1717ff 68.0px,#2020ff 70.3px,#3636ff 72.8px,#5c5cff 75.8px,#a1a1ff 80.0px,#ffffff 85.2px,#ff8989 91.8px,#ff5050 95.5px,#ff2f2f 98.3px,#ff1c1c 100.8px,#ff1616 103.0px,#ff1c1c 105.0px,#ff2b2b 107.0px,#ff4b4b 109.5px,#ffaeae 115.8px,#ffcece 118.5px,#ffe6e6 121.5px,#fff5f5 125.0px,#fffdfd 130.5px,#ffffff 169.8px)"></i><i style="top:147.00px;height:1.00px;background:linear-gradient(90deg,#ffffff 0.0px,#fdfdff 40.0px,#f5f5ff 45.5px,#e6e6ff 49.0px,#ceceff 52.0px,#adadff 54.8px,#4141ff 61.8px,#2828ff 64.0px,#1c1cff 66.0px,#1919ff 68.0px,#2222ff 70.3px,#3737ff 72.8px,#5d5dff 75.8px,#9d9dff 79.8px,#ffffff 85.2px,#ff8a8a 91.8px,#ff5151 95.5px,#ff3131 98.3px,#ff1e1e 100.8px,#ff1919 103.0px,#ff1f1f 105.0px,#ff3131 107.3px,#ff5252 109.8px,#ffacac 115.5px,#ffcdcd 118.3px,#ffe5e5 121.3px,#fff4f4 124.8px,#fffdfd 130.3px,#ffffff 167.0px,#ffffff 169.8px)"></i><i style="top:148.00px;height:1.00px;background:linear-gradient(90deg,#ffffff 0.0px,#fdfdff 40.0px,#f5f5ff 45.5px,#e6e6ff 49.0px,#cfcfff 52.0px,#afafff 54.8px,#6969ff 59.3px,#3e3eff 62.3px,#2727ff 64.5px,#1d1dff 66.5px,#1d1dff 68.8px,#2929ff 71.0px,#4444ff 73.8px,#7171ff 77.0px,#c1c1ff 81.8px,#ffffff 85.2px,#ff8a8a 91.8px,#ff5252 95.5px,#ff3232 98.3px,#ff2020 100.8px,#ff1b1b 103.0px,#ff2121 105.0px,#ff3434 107.3px,#ff5858 110.0px,#ffaeae 115.5px,#ffcece 118.3px,#ffe6e6 121.3px,#fff5f5 124.8px,#fffdfd 130.3px,#ffffff 169.8px)"></i><i style="top:149.00px;height:1.00px;background:linear-gradient(90deg,#ffffff 0.0px,#fdfdff 40.0px,#f5f5ff 45.5px,#e7e7ff 49.0px,#d0d0ff 52.0px,#b1b1ff 54.8px,#7070ff 59.0px,#4141ff 62.3px,#2a2aff 64.5px,#1f1fff 66.5px,#1f1fff 68.8px,#2b2bff 71.0px,#4545ff 73.8px,#7272ff 77.0px,#c1c1ff 81.8px,#ffffff 85.2px,#ff8f8f 91.5px,#ff5656 95.3px,#ff3636 98.0px,#ff2424 100.5px,#ff1e1e 102.8px,#ff2323 104.8px,#ff3434 107.0px,#ff5454 109.5px,#ffafaf 115.5px,#ffcfcf 118.3px,#ffe6e6 121.3px,#fff6f6 125.0px,#fffdfd 131.0px,#ffffff 169.8px)"></i><i style="top:150.00px;height:1.00px;background:linear-gradient(90deg,#ffffff 0.0px,#fdfdff 40.3px,#f5f5ff 45.8px,#e6e6ff 49.3px,#cfcfff 52.3px,#acacff 55.3px,#4747ff 62.0px,#2f2fff 64.3px,#2222ff 66.5px,#2222ff 68.8px,#2d2dff 71.0px,#4747ff 73.8px,#7373ff 77.0px,#c1c1ff 81.8px,#ffffff 85.2px,#ff9090 91.5px,#ff5858 95.3px,#ff3838 98.0px,#ff2626 100.5px,#ff2020 102.8px,#ff2626 104.8px,#ff3737 107.0px,#ff5b5b 109.8px,#ffaeae 115.3px,#ffd1d1 118.3px,#ffe7e7 121.3px,#fff6f6 125.0px,#fffdfd 131.0px,#ffffff 169.8px)"></i><i style="top:151.00px;height:1.00px;background:linear-gradient(90deg,#ffffff 0.0px,#fdfdff 40.3px,#f5f5ff 45.8px,#e7e7ff 49.3px,#d0d0ff 52.3px,#aeaeff 55.3px,#4a4aff 62.0px,#3232ff 64.3px,#2525ff 66.5px,#2424ff 68.8px,#2f2fff 71.0px,#4545ff 73.5px,#7070ff 76.8px,#b9b9ff 81.3px,#ffffff 85.2px,#ff9191 91.5px,#ff5959 95.3px,#ff3a3a 98.0px,#ff2828 100.5px,#ff2323 102.8px,#ff2a2a 105.0px,#ff3d3d 107.3px,#ff6161 110.0px,#ffb0b0 115.3px,#ffd2d2 118.3px,#ffe8e8 121.3px,#fff6f6 125.0px,#fffdfd 131.0px,#ffffff 169.8px)"></i><i style="top:152.00px;height:1.00px;background:linear-gradient(90deg,#ffffff 0.0px,#fdfdff 40.3px,#f5f5ff 45.8px,#e6e6ff 49.5px,#cfcfff 52.5px,#acacff 55.5px,#4e4eff 62.0px,#3333ff 64.5px,#2727ff 66.8px,#2727ff 69.0px,#3232ff 71.3px,#4c4cff 74.0px,#7878ff 77.3px,#c7c7ff 82.0px,#ffffff 85.2px,#ff9191 91.5px,#ff5a5a 95.3px,#ff3b3b 98.0px,#ff2a2a 100.5px,#ff2626 102.8px,#ff2d2d 105.0px,#ff4040 107.3px,#ff6868 110.3px,#ffb2b2 115.3px,#ffd3d3 118.3px,#ffe8e8 121.3px,#fff6f6 125.0px,#fffefe 131.3px,#ffffff 169.8px)"></i><i style="top:153.00px;height:1.00px;background:linear-gradient(90deg,#ffffff 0.0px,#fdfdff 40.5px,#f5f5ff 46.0px,#e5e5ff 49.8px,#ceceff 52.8px,#ababff 55.8px,#4e4eff 62.3px,#3434ff 64.8px,#2929ff 67.0px,#2a2aff 69.3px,#3636ff 71.5px,#5151ff 74.3px,#7d7dff 77.5px,#d0d0ff 82.5px,#ffffff 85.2px,#ff9292 91.5px,#ff5b5b 95.3px,#ff3d3d 98.0px,#ff2c2c 100.5px,#ff2828 102.8px,#ff3030 105.0px,#ff4444 107.3px,#ff6b6b 110.3px,#ffb4b4 115.3px,#ffd4d4 118.3px,#ffe9e9 121.3px,#fff7f7 125.3px,#fffefe 132.0px,#ffffff 169.8px)"></i><i style="top:154.00px;height:1.00px;background:linear-gradient(90deg,#ffffff 0.0px,#fdfdff 40.5px,#f4f4ff 46.3px,#e6e6ff 49.8px,#cfcfff 52.8px,#adadff 55.8px,#5151ff 62.3px,#3838ff 64.8px,#2c2cff 67.0px,#2d2dff 69.3px,#3838ff 71.5px,#5252ff 74.3px,#7e7eff 77.5px,#ccccff 82.3px,#ffffff 85.2px,#ff9393 91.5px,#ff6060 95.0px,#ff4141 97.8px,#ff3030 100.3px,#ff2b2b 102.5px,#ff3232 104.8px,#ff4545 107.0px,#ff6b6b 110.0px,#ffb2b2 115.0px,#ffd3d3 118.0px,#ffe8e8 121.0px,#fff6f6 124.8px,#fffefe 131.0px,#ffffff 169.8px)"></i><i style="top:155.00px;height:1.00px;background:linear-gradient(90deg,#ffffff 0.0px,#fdfdff 40.5px,#f5f5ff 46.3px,#e5e5ff 50.0px,#ceceff 53.0px,#acacff 56.0px,#5252ff 62.5px,#3939ff 65.0px,#2f2fff 67.3px,#3030ff 69.5px,#3e3eff 72.0px,#5a5aff 74.8px,#8a8aff 78.3px,#e6e6ff 83.8px,#ffffff 85.2px,#ff9393 91.5px,#ff6161 95.0px,#ff4343 97.8px,#ff3232 100.3px,#ff2e2e 102.5px,#ff3535 104.8px,#ff4848 107.0px,#ff6e6e 110.0px,#ffb4b4 115.0px,#ffd4d4 118.0px,#ffeaea 121.3px,#fff8f8 125.3px,#fffefe 132.3px,#ffffff 169.8px)"></i><i style="top:156.00px;height:1.00px;background:linear-gradient(90deg,#ffffff 0.0px,#fdfdff 40.8px,#f4f4ff 46.5px,#e5e5ff 50.3px,#cdcdff 53.3px,#a8a8ff 56.5px,#5555ff 62.5px,#3d3dff 65.0px,#3232ff 67.3px,#3333ff 69.5px,#4040ff 72.0px,#5b5bff 74.8px,#8b8bff 78.3px,#e6e6ff 83.8px,#ffffff 85.2px,#ff9494 91.5px,#ff6363 95.0px,#ff4545 97.8px,#ff3535 100.3px,#ff3131 102.5px,#ff3939 104.8px,#ff4b4b 107.0px,#ff7575 110.3px,#ffb6b6 115.0px,#ffd5d5 118.0px,#ffebeb 121.3px,#fff8f8 125.3px,#fffefe 132.5px,#ffffff 169.8px)"></i><i style="top:157.00px;height:1.00px;background:linear-gradient(90deg,#ffffff 0.0px,#fdfdff 40.8px,#f5f5ff 46.5px,#e5e5ff 50.3px,#cfcfff 53.3px,#aaaaff 56.5px,#5959ff 62.5px,#4040ff 65.0px,#3535ff 67.3px,#3535ff 69.5px,#4242ff 72.0px,#5d5dff 74.8px,#8c8cff 78.3px,#e2e2ff 83.5px,#ffffff 85.2px,#ff9999 91.3px,#ff6464 95.0px,#ff4747 97.8px,#ff3737 100.3px,#ff3434 102.5px,#ff3c3c 104.8px,#ff5252 107.3px,#ff7f7f 110.8px,#ffb8b8 115.0px,#ffd7d7 118.0px,#ffebeb 121.3px,#fff8f8 125.5px,#fffefe 133.3px,#ffffff 169.8px)"></i><i style="top:158.00px;height:1.00px;background:linear-gradient(90deg,#ffffff 0.0px,#fdfdff 41.0px,#f4f4ff 46.8px,#e5e5ff 50.5px,#ceceff 53.5px,#a9a9ff 56.8px,#5959ff 62.8px,#4242ff 65.3px,#3838ff 67.5px,#3939ff 69.8px,#4646ff 72.3px,#6161ff 75.0px,#9191ff 78.5px,#ebebff 84.0px,#ffffff 85.2px,#ff9a9a 91.3px,#ff6969 94.8px,#ff4b4b 97.5px,#ff3b3b 100.0px,#ff3737 102.3px,#ff3e3e 104.5px,#ff5353 107.0px,#ff7f7f 110.5px,#ffbaba 115.0px,#ffd8d8 118.0px,#ffecec 121.3px,#fff9f9 125.5px,#fffefe 133.5px,#ffffff 169.8px)"></i><i style="top:159.00px;height:1.00px;background:linear-gradient(90deg,#ffffff 0.0px,#fdfdff 41.0px,#f5f5ff 46.8px,#e5e5ff 50.5px,#cdcdff 53.8px,#a9a9ff 57.0px,#5d5dff 62.8px,#4545ff 65.3px,#3b3bff 67.5px,#3c3cff 69.8px,#4949ff 72.3px,#6363ff 75.0px,#9292ff 78.5px,#ebebff 84.0px,#ffffff 85.2px,#ff9b9b 91.3px,#ff6a6a 94.8px,#ff4d4d 97.5px,#ff3e3e 100.0px,#ff3a3a 102.3px,#ff4242 104.5px,#ff5656 107.0px,#ff8282 110.5px,#ffbcbc 115.0px,#ffd9d9 118.0px,#ffeded 121.3px,#fff9f9 125.5px,#fffefe 133.5px,#ffffff 169.8px)"></i><i style="top:160.00px;height:1.00px;background:linear-gradient(90deg,#ffffff 0.0px,#fdfdff 41.0px,#f5f5ff 46.8px,#e6e6ff 50.5px,#cfcfff 53.8px,#ababff 57.0px,#5e5eff 63.0px,#4747ff 65.5px,#3e3eff 67.8px,#3f3fff 70.0px,#4d4dff 72.5px,#6868ff 75.3px,#9696ff 78.8px,#f4f4ff 84.5px,#ffffff 85.2px,#ff9c9c 91.3px,#ff6c6c 94.8px,#ff5050 97.5px,#ff4040 100.0px,#ff3d3d 102.3px,#ff4545 104.5px,#ff5a5a 107.0px,#ff8989 110.8px,#ffbebe 115.0px,#ffdcdc 118.3px,#ffefef 121.8px,#fffbfb 126.5px,#ffffff 137.0px,#ffffff 169.8px)"></i><i style="top:161.00px;height:1.00px;background:linear-gradient(90deg,#ffffff 0.0px,#fdfdff 41.3px,#f5f5ff 47.0px,#e6e6ff 50.8px,#ceceff 54.0px,#a7a7ff 57.5px,#6161ff 63.0px,#4b4bff 65.5px,#4141ff 67.8px,#4242ff 70.0px,#4f4fff 72.5px,#6969ff 75.3px,#9797ff 78.8px,#f4f4ff 84.5px,#ffffff 85.2px,#ff9d9d 91.3px,#ff6d6d 94.8px,#ff5252 97.5px,#ff4343 100.0px,#ff4141 102.3px,#ff4949 104.5px,#ff5e5e 107.0px,#ff8f8f 111.0px,#ffc0c0 115.0px,#ffdddd 118.3px,#fff0f0 121.8px,#fffbfb 126.5px,#ffffff 137.5px,#ffffff 169.8px)"></i><i style="top:162.00px;height:1.00px;background:linear-gradient(90deg,#ffffff 0.0px,#fdfdff 41.3px,#f5f5ff 47.0px,#e7e7ff 50.8px,#cfcfff 54.0px,#aaaaff 57.5px,#6363ff 63.3px,#4d4dff 65.8px,#4444ff 68.0px,#4646ff 70.3px,#5353ff 72.8px,#6e6eff 75.5px,#9c9cff 79.0px,#fcfcff 85.0px,#ffffff 85.2px,#ff9e9e 91.3px,#ff6f6f 94.8px,#ff5454 97.5px,#ff4646 100.0px,#ff4444 102.3px,#ff4d4d 104.5px,#ff6161 107.0px,#ff9999 111.5px,#ffc5c5 115.3px,#ffe0e0 118.5px,#fff1f1 122.0px,#fffbfb 127.0px,#ffffff 140.3px,#ffffff 169.8px)"></i><i style="top:163.00px;height:1.00px;background:linear-gradient(90deg,#ffffff 0.0px,#fdfdff 41.5px,#f5f5ff 47.3px,#e6e6ff 51.0px,#cfcfff 54.3px,#a9a9ff 57.8px,#6666ff 63.3px,#5151ff 65.8px,#4848ff 68.0px,#4949ff 70.3px,#5656ff 72.8px,#7070ff 75.5px,#9d9dff 79.0px,#fcfcff 85.0px,#ffffff 85.2px,#ff9f9f 91.3px,#ff7171 94.8px,#ff5656 97.5px,#ff4949 100.0px,#ff4747 102.3px,#ff5050 104.5px,#ff6565 107.0px,#ffc2c2 114.8px,#ffdede 118.0px,#fff0f0 121.5px,#fffbfb 126.3px,#ffffff 137.3px,#ffffff 169.8px)"></i><i style="top:164.00px;height:1.00px;background:linear-gradient(90deg,#ffffff 0.0px,#fdfdff 41.5px,#f5f5ff 47.3px,#e6e6ff 51.3px,#ceceff 54.5px,#a9a9ff 58.0px,#6868ff 63.5px,#5353ff 66.0px,#4b4bff 68.3px,#4c4cff 70.5px,#5a5aff 73.0px,#7474ff 75.8px,#a2a2ff 79.3px,#ffffff 85.2px,#ffa0a0 91.3px,#ff7272 94.8px,#ff5959 97.5px,#ff4c4c 100.0px,#ff4b4b 102.3px,#ff5454 104.5px,#ff6c6c 107.3px,#ffc1c1 114.5px,#ffdddd 117.8px,#ffefef 121.3px,#fffafa 126.0px,#ffffff 136.8px,#ffffff 169.8px)"></i><i style="top:165.00px;height:1.00px;background:linear-gradient(90deg,#ffffff 0.0px,#fdfdff 41.8px,#f5f5ff 47.5px,#e5e5ff 51.5px,#ceceff 54.8px,#a6a6ff 58.5px,#6b6bff 63.5px,#5656ff 66.3px,#4e4eff 68.5px,#5050ff 70.8px,#5e5eff 73.3px,#7c7cff 76.3px,#aeaeff 80.0px,#ffffff 85.2px,#ffa4a4 91.0px,#ff7777 94.5px,#ff5d5d 97.3px,#ff5050 99.8px,#ff4e4e 102.0px,#ff5656 104.3px,#ff6d6d 107.0px,#ffc3c3 114.5px,#ffdede 117.8px,#fff1f1 121.5px,#fffbfb 126.5px,#ffffff 139.5px,#ffffff 169.8px)"></i><i style="top:166.00px;height:1.00px;background:linear-gradient(90deg,#ffffff 0.0px,#fdfdff 41.8px,#f5f5ff 47.8px,#e5e5ff 51.8px,#cdcdff 55.0px,#a3a3ff 59.0px,#6d6dff 63.8px,#5858ff 66.5px,#5151ff 68.8px,#5555ff 71.3px,#6565ff 73.8px,#8383ff 76.8px,#babaff 80.8px,#ffffff 85.2px,#ffa5a5 91.0px,#ff7979 94.5px,#ff6060 97.3px,#ff5353 99.8px,#ff5252 102.0px,#ff5c5c 104.5px,#ff7373 107.3px,#ffc3c3 114.3px,#ffdede 117.5px,#fff1f1 121.3px,#fffbfb 126.3px,#ffffff 138.8px,#ffffff 169.8px)"></i><i style="top:167.00px;height:1.00px;background:linear-gradient(90deg,#ffffff 0.0px,#fdfdff 42.0px,#f4f4ff 48.0px,#e4e4ff 52.0px,#cbcbff 55.5px,#9d9dff 59.8px,#6e6eff 64.0px,#5b5bff 66.8px,#5454ff 69.3px,#5a5aff 71.8px,#6d6dff 74.5px,#9191ff 77.8px,#d1d1ff 82.3px,#ffffff 85.2px,#ffa6a6 91.0px,#ff7b7b 94.5px,#ff6262 97.3px,#ff5656 99.8px,#ff5656 102.3px,#ff6161 104.8px,#ff7d7d 107.8px,#ffc5c5 114.3px,#ffe1e1 117.8px,#fff2f2 121.5px,#fffcfc 126.8px,#ffffff 142.3px,#ffffff 169.8px)"></i><i style="top:168.00px;height:1.00px;background:linear-gradient(90deg,#ffffff 0.0px,#fdfdff 42.0px,#f5f5ff 48.0px,#e5e5ff 52.0px,#ccccff 55.5px,#a0a0ff 59.8px,#7070ff 64.3px,#5d5dff 67.0px,#5858ff 69.5px,#5e5eff 72.0px,#7272ff 74.8px,#9696ff 78.0px,#d6d6ff 82.5px,#ffffff 85.2px,#ffa8a8 91.0px,#ff7d7d 94.5px,#ff6565 97.3px,#ff5959 99.8px,#ff5959 102.3px,#ff6565 104.8px,#ff8080 107.8px,#ffc7c7 114.3px,#ffe2e2 117.8px,#fff2f2 121.5px,#fffcfc 127.0px,#ffffff 145.5px,#ffffff 169.8px)"></i><i style="top:169.00px;height:1.00px;background:linear-gradient(90deg,#ffffff 0.0px,#fdfdff 42.3px,#f5f5ff 48.3px,#e5e5ff 52.3px,#ccccff 55.8px,#9e9eff 60.3px,#7272ff 64.5px,#6060ff 67.3px,#5c5cff 69.8px,#6363ff 72.3px,#7676ff 75.0px,#9a9aff 78.3px,#dedeff 83.0px,#ffffff 85.2px,#ffa9a9 91.0px,#ff7f7f 94.5px,#ff6767 97.3px,#ff5d5d 99.8px,#ff5d5d 102.3px,#ff6969 104.8px,#ff8787 108.0px,#ffc7c7 114.0px,#ffe1e1 117.5px,#fff2f2 121.3px,#fffcfc 126.8px,#ffffff 144.3px,#ffffff 169.8px)"></i><i style="top:170.00px;height:1.00px;background:linear-gradient(90deg,#ffffff 0.0px,#fdfdff 42.3px,#f5f5ff 48.3px,#e6e6ff 52.3px,#ceceff 55.8px,#a1a1ff 60.3px,#7676ff 64.5px,#6464ff 67.3px,#5f5fff 69.8px,#6666ff 72.3px,#7979ff 75.0px,#9c9cff 78.3px,#dedeff 83.0px,#ffffff 85.2px,#ffaaaa 91.0px,#ff8181 94.5px,#ff6a6a 97.3px,#ff6060 99.8px,#ff6161 102.3px,#ff6d6d 104.8px,#ff8a8a 108.0px,#ffc9c9 114.0px,#ffe3e3 117.5px,#fff3f3 121.5px,#fffdfd 127.3px,#ffffff 152.0px,#ffffff 169.8px)"></i><i style="top:171.00px;height:1.00px;background:linear-gradient(90deg,#ffffff 0.0px,#fdfdff 42.5px,#f5f5ff 48.5px,#e6e6ff 52.5px,#ceceff 56.0px,#9f9fff 60.8px,#7878ff 64.8px,#6767ff 67.5px,#6363ff 70.0px,#6a6aff 72.5px,#7d7dff 75.3px,#a0a0ff 78.5px,#e2e2ff 83.3px,#ffffff 85.2px,#ffabab 91.0px,#ff8383 94.5px,#ff6d6d 97.3px,#ff6363 99.8px,#ff6565 102.3px,#ff7373 105.0px,#ff9393 108.5px,#ffcbcb 114.0px,#ffe4e4 117.5px,#fff4f4 121.5px,#fffdfd 127.5px,#ffffff 161.0px,#ffffff 169.8px)"></i><i style="top:172.00px;height:1.00px;background:linear-gradient(90deg,#ffffff 0.0px,#fdfdff 42.8px,#f5f5ff 48.8px,#e5e5ff 52.8px,#ccccff 56.5px,#7c7cff 64.8px,#6b6bff 67.5px,#6666ff 70.0px,#6d6dff 72.5px,#8080ff 75.3px,#a2a2ff 78.5px,#e3e3ff 83.3px,#ffffff 85.2px,#ffadad 91.0px,#ff8585 94.5px,#ff7070 97.3px,#ff6767 99.8px,#ff6969 102.3px,#ff7777 105.0px,#ff9999 108.8px,#ffcdcd 114.0px,#ffe6e6 117.8px,#fff6f6 122.0px,#fffdfd 128.5px,#ffffff 169.8px)"></i><i style="top:173.00px;height:1.00px;background:linear-gradient(90deg,#ffffff 0.0px,#fdfdff 42.8px,#f5f5ff 48.8px,#e5e5ff 53.0px,#ccccff 56.8px,#7e7eff 65.0px,#6e6eff 67.8px,#6a6aff 70.3px,#7171ff 72.8px,#8484ff 75.5px,#a6a6ff 78.8px,#eaeaff 83.8px,#ffffff 85.2px,#ffaeae 91.0px,#ff8787 94.5px,#ff7373 97.3px,#ff6a6a 99.8px,#ff6d6d 102.3px,#ff7b7b 105.0px,#ff9f9f 109.0px,#ffcfcf 114.0px,#ffe7e7 117.8px,#fff6f6 122.0px,#fffefe 128.8px,#ffffff 169.8px)"></i><i style="top:174.00px;height:1.00px;background:linear-gradient(90deg,#ffffff 0.0px,#fdfdff 43.0px,#f5f5ff 49.0px,#e5e5ff 53.3px,#ccccff 57.0px,#8282ff 65.0px,#7272ff 67.8px,#6e6eff 70.3px,#7474ff 72.8px,#8686ff 75.5px,#a8a8ff 78.8px,#ebebff 83.8px,#ffffff 85.2px,#ffafaf 91.0px,#ff8989 94.5px,#ff7676 97.3px,#ff6e6e 99.8px,#ff7171 102.3px,#ff7f7f 105.0px,#ffa5a5 109.3px,#ffd1d1 114.0px,#ffe8e8 117.8px,#fff7f7 122.3px,#fffefe 129.5px,#ffffff 169.8px)"></i><i style="top:175.00px;height:1.00px;background:linear-gradient(90deg,#ffffff 0.0px,#fdfdff 43.0px,#f5f5ff 49.3px,#e5e5ff 53.5px,#ccccff 57.3px,#8484ff 65.3px,#7575ff 68.0px,#7171ff 70.5px,#7a7aff 73.3px,#8f8fff 76.3px,#b5b5ff 79.8px,#ffffff 85.2px,#ffb4b4 90.8px,#ff8e8e 94.3px,#ff7a7a 97.0px,#ff7272 99.8px,#ff7575 102.3px,#ff8383 105.0px,#ffadad 109.8px,#ffd4d4 114.3px,#ffeaea 118.0px,#fff8f8 122.5px,#fffefe 130.3px,#ffffff 169.8px)"></i><i style="top:176.00px;height:1.00px;background:linear-gradient(90deg,#ffffff 0.0px,#fdfdff 43.3px,#f4f4ff 49.5px,#e5e5ff 53.8px,#cacaff 57.8px,#8888ff 65.3px,#7878ff 68.3px,#7575ff 70.8px,#7e7eff 73.5px,#9494ff 76.5px,#bdbdff 80.3px,#ffffff 85.2px,#ffb5b5 90.8px,#ff9090 94.3px,#ff7c7c 97.3px,#ff7575 100.0px,#ff7b7b 102.8px,#ff8d8d 105.8px,#ffd3d3 113.8px,#ffeaea 117.8px,#fff8f8 122.3px,#fffefe 130.0px,#ffffff 169.8px)"></i><i style="top:177.00px;height:1.00px;background:linear-gradient(90deg,#ffffff 0.0px,#fdfdff 43.5px,#f4f4ff 49.8px,#e4e4ff 54.0px,#cacaff 58.0px,#8a8aff 65.5px,#7b7bff 68.5px,#7a7aff 71.3px,#8484ff 74.0px,#9b9bff 77.0px,#c4c4ff 80.8px,#ffffff 85.2px,#ffb6b6 90.8px,#ff9393 94.3px,#ff7f7f 97.3px,#ff7979 100.0px,#ff7f7f 102.8px,#ff9393 106.0px,#ffd4d4 113.8px,#ffebeb 117.8px,#fff8f8 122.5px,#fffefe 130.8px,#ffffff 169.8px)"></i><i style="top:178.00px;height:1.00px;background:linear-gradient(90deg,#ffffff 0.0px,#fdfdff 43.5px,#f5f5ff 49.8px,#e6e6ff 54.0px,#ccccff 58.0px,#8e8eff 65.5px,#7f7fff 68.5px,#7d7dff 71.3px,#8787ff 74.0px,#9d9dff 77.0px,#c5c5ff 80.8px,#ffffff 85.2px,#ffb8b8 90.8px,#ff9595 94.3px,#ff8282 97.3px,#ff7d7d 100.0px,#ff8383 102.8px,#ff9797 106.0px,#ffd5d5 113.5px,#ffebeb 117.5px,#fff8f8 122.3px,#fffefe 130.5px,#ffffff 169.8px)"></i><i style="top:179.00px;height:1.00px;background:linear-gradient(90deg,#ffffff 0.0px,#fdfdff 43.8px,#f5f5ff 50.0px,#e4e4ff 54.5px,#c9c9ff 58.8px,#9191ff 65.8px,#8383ff 68.8px,#8181ff 71.5px,#8b8bff 74.3px,#a1a1ff 77.3px,#cdcdff 81.3px,#ffffff 85.2px,#ffb9b9 90.8px,#ff9797 94.3px,#ff8585 97.3px,#ff8080 100.0px,#ff8787 102.8px,#ff9a9a 106.0px,#ffd6d6 113.5px,#ffecec 117.5px,#fff9f9 122.5px,#ffffff 131.5px,#ffffff 169.8px)"></i><i style="top:180.00px;height:1.00px;background:linear-gradient(90deg,#ffffff 0.0px,#fdfdff 44.0px,#f5f5ff 50.3px,#e4e4ff 54.8px,#c9c9ff 59.0px,#9595ff 65.8px,#8787ff 68.8px,#8585ff 71.5px,#8e8eff 74.3px,#a3a3ff 77.3px,#ceceff 81.3px,#ffffff 85.2px,#ffbbbb 90.8px,#ff9a9a 94.3px,#ff8989 97.3px,#ff8484 100.0px,#ff8b8b 102.8px,#ffa0a0 106.3px,#ffd8d8 113.5px,#ffeeee 117.8px,#fffafa 122.8px,#ffffff 132.5px,#ffffff 169.8px)"></i><i style="top:181.00px;height:1.00px;background:linear-gradient(90deg,#ffffff 0.0px,#fdfdff 44.0px,#f4f4ff 50.5px,#e4e4ff 55.0px,#c8c8ff 59.5px,#9797ff 66.0px,#8a8aff 69.0px,#8989ff 71.8px,#9292ff 74.5px,#aaaaff 77.8px,#d5d5ff 81.8px,#ffffff 85.2px,#ffbcbc 90.8px,#ff9c9c 94.3px,#ff8c8c 97.3px,#ff8888 100.0px,#ff9090 103.0px,#ffa7a7 106.8px,#ffd8d8 113.3px,#ffeded 117.5px,#fffafa 122.8px,#ffffff 133.0px,#ffffff 169.8px)"></i><i style="top:182.00px;height:1.00px;background:linear-gradient(90deg,#ffffff 0.0px,#fdfdff 44.3px,#f4f4ff 50.8px,#e4e4ff 55.3px,#c8c8ff 59.8px,#9999ff 66.3px,#8d8dff 69.3px,#8c8cff 72.0px,#9696ff 74.8px,#aeaeff 78.0px,#dbdbff 82.3px,#ffffff 85.2px,#ffbebe 90.8px,#ff9f9f 94.3px,#ff8f8f 97.3px,#ff8c8c 100.0px,#ff9494 103.0px,#ffadad 107.0px,#ffdada 113.3px,#ffeeee 117.5px,#fffafa 122.8px,#ffffff 133.5px,#ffffff 169.8px)"></i><i style="top:183.00px;height:1.00px;background:linear-gradient(90deg,#ffffff 0.0px,#fdfdff 44.5px,#f4f4ff 51.0px,#e4e4ff 55.5px,#c7c7ff 60.3px,#9d9dff 66.3px,#9191ff 69.5px,#9090ff 72.3px,#9c9cff 75.3px,#b5b5ff 78.5px,#e5e5ff 83.0px,#ffffff 85.2px,#ffbfbf 90.8px,#ffa1a1 94.3px,#ff9292 97.3px,#ff8f8f 100.0px,#ff9898 103.0px,#ffb2b2 107.3px,#ffdddd 113.5px,#fff1f1 118.0px,#fffbfb 123.8px,#ffffff 138.3px,#ffffff 169.8px)"></i><i style="top:184.00px;height:1.00px;background:linear-gradient(90deg,#ffffff 0.0px,#fdfdff 44.5px,#f5f5ff 51.0px,#e4e4ff 55.8px,#c6c6ff 60.8px,#a0a0ff 66.5px,#9494ff 69.8px,#9595ff 72.8px,#a2a2ff 75.8px,#bebeff 79.3px,#f7f7ff 84.5px,#ffffff 85.2px,#ffc1c1 90.8px,#ffa4a4 94.3px,#ff9696 97.3px,#ff9393 100.3px,#ff9e9e 103.5px,#ffc0c0 108.8px,#ffe2e2 114.0px,#fff3f3 118.5px,#fffcfc 124.8px,#ffffff 148.0px,#ffffff 169.8px)"></i><i style="top:185.00px;height:1.00px;background:linear-gradient(90deg,#ffffff 0.0px,#fdfdff 44.8px,#f5f5ff 51.3px,#e5e5ff 56.0px,#c5c5ff 61.3px,#a2a2ff 66.8px,#9797ff 70.0px,#9999ff 73.0px,#a6a6ff 76.0px,#c2c2ff 79.5px,#ffffff 85.2px,#ffc3c3 90.8px,#ffa7a7 94.3px,#ff9999 97.3px,#ff9797 100.3px,#ffa2a2 103.5px,#ffc6c6 109.3px,#ffe4e4 114.3px,#fff5f5 119.0px,#fffdfd 125.8px,#ffffff 169.8px)"></i><i style="top:186.00px;height:1.00px;background:linear-gradient(90deg,#ffffff 0.0px,#fdfdff 45.0px,#f4f4ff 51.8px,#e4e4ff 56.5px,#c1c1ff 62.3px,#a4a4ff 67.3px,#9a9aff 70.5px,#9e9eff 73.5px,#acacff 76.5px,#cacaff 80.3px,#ffffff 85.2px,#ffc4c4 90.8px,#ffa9a9 94.3px,#ff9c9c 97.3px,#ff9b9b 100.3px,#ffa5a5 103.5px,#ffe2e2 113.5px,#fff3f3 118.3px,#fffdfd 124.8px,#ffffff 154.3px,#ffffff 169.8px)"></i><i style="top:187.00px;height:1.00px;background:linear-gradient(90deg,#ffffff 0.0px,#fdfdff 45.3px,#f4f4ff 52.0px,#e3e3ff 57.0px,#bbbbff 63.8px,#a4a4ff 68.0px,#9e9eff 71.3px,#a3a3ff 74.3px,#b5b5ff 77.5px,#d8d8ff 81.5px,#ffffff 85.2px,#ffc6c6 90.8px,#ffacac 94.3px,#ffa0a0 97.3px,#ff9f9f 100.3px,#ffaaaa 103.8px,#ffe3e3 113.5px,#fff5f5 118.5px,#fffdfd 125.3px,#ffffff 169.8px)"></i><i style="top:188.00px;height:1.00px;background:linear-gradient(90deg,#ffffff 0.0px,#fdfdff 45.3px,#f5f5ff 52.0px,#e4e4ff 57.0px,#bebeff 63.8px,#a7a7ff 68.3px,#a1a1ff 71.5px,#a7a7ff 74.5px,#b9b9ff 77.8px,#dedeff 82.0px,#ffffff 85.2px,#ffc8c8 90.8px,#ffafaf 94.3px,#ffa3a3 97.5px,#ffa3a3 100.5px,#ffafaf 104.0px,#ffe4e4 113.3px,#fff5f5 118.3px,#fffdfd 125.3px,#ffffff 169.8px)"></i><i style="top:189.00px;height:1.00px;background:linear-gradient(90deg,#ffffff 0.0px,#fdfdff 45.5px,#f5f5ff 52.3px,#e4e4ff 57.3px,#adadff 67.5px,#a5a5ff 71.0px,#a9a9ff 74.0px,#b8b8ff 77.3px,#d8d8ff 81.3px,#ffffff 85.2px,#ffc9c9 90.8px,#ffb1b1 94.3px,#ffa6a6 97.5px,#ffa7a7 100.8px,#ffb5b5 104.5px,#ffe5e5 113.3px,#fff6f6 118.5px,#fffdfd 125.8px,#ffffff 169.8px)"></i><i style="top:190.00px;height:1.00px;background:linear-gradient(90deg,#ffffff 0.0px,#fdfdff 45.8px,#f4f4ff 52.8px,#e2e2ff 58.0px,#b0b0ff 67.8px,#a8a8ff 71.3px,#adadff 74.5px,#bebeff 77.8px,#e0e0ff 82.0px,#ffffff 85.2px,#ffcbcb 90.8px,#ffb4b4 94.3px,#ffa9a9 97.5px,#ffabab 100.8px,#ffbaba 104.8px,#ffe5e5 113.0px,#fff6f6 118.3px,#fffefe 125.8px,#ffffff 169.8px)"></i><i style="top:191.00px;height:1.00px;background:linear-gradient(90deg,#ffffff 0.0px,#fdfdff 46.0px,#f4f4ff 53.0px,#e3e3ff 58.3px,#b4b4ff 67.8px,#acacff 71.3px,#b0b0ff 74.5px,#c1c1ff 78.0px,#e6e6ff 82.5px,#ffffff 85.2px,#ffcdcd 90.8px,#ffb5b5 94.5px,#ffacac 97.8px,#ffafaf 101.0px,#ffbfbf 105.3px,#ffe7e7 113.0px,#fff7f7 118.5px,#fffefe 126.5px,#ffffff 169.8px)"></i><i style="top:192.00px;height:1.00px;background:linear-gradient(90deg,#ffffff 0.0px,#fdfdff 46.3px,#f4f4ff 53.3px,#e2e2ff 58.8px,#b6b6ff 68.0px,#afafff 71.5px,#b4b4ff 74.8px,#c5c5ff 78.3px,#e9e9ff 82.8px,#ffffff 85.2px,#ffcfcf 90.8px,#ffb8b8 94.5px,#ffb0b0 97.8px,#ffb3b3 101.3px,#ffc5c5 105.8px,#ffe9e9 113.3px,#fff7f7 118.8px,#fffefe 127.3px,#ffffff 169.8px)"></i><i style="top:193.00px;height:1.00px;background:linear-gradient(90deg,#ffffff 0.0px,#fdfdff 46.5px,#f4f4ff 53.5px,#e3e3ff 59.0px,#b9b9ff 68.0px,#b3b3ff 71.5px,#b7b7ff 74.8px,#c7c7ff 78.3px,#ececff 83.0px,#ffffff 85.2px,#ffcece 91.0px,#ffbaba 94.8px,#ffb3b3 98.0px,#ffb7b7 101.5px,#ffcccc 106.5px,#ffebeb 113.5px,#fff9f9 119.3px,#fffefe 128.8px,#ffffff 169.8px)"></i><i style="top:194.00px;height:1.00px;background:linear-gradient(90deg,#ffffff 0.0px,#fdfdff 46.5px,#f4f4ff 53.8px,#e2e2ff 59.5px,#bcbcff 68.3px,#b6b6ff 72.0px,#bcbcff 75.5px,#d0d0ff 79.3px,#fdfdff 85.0px,#ffffff 85.2px,#ffd0d0 91.0px,#ffbdbd 94.8px,#ffb6b6 98.3px,#ffbcbc 102.0px,#ffdada 109.0px,#fff1f1 115.0px,#fffbfb 121.5px,#ffffff 137.5px,#ffffff 169.8px)"></i><i style="top:195.00px;height:1.00px;background:linear-gradient(90deg,#ffffff 0.0px,#fdfdff 46.8px,#f5f5ff 54.0px,#e3e3ff 59.8px,#bfbfff 68.3px,#b9b9ff 72.0px,#bfbfff 75.5px,#d1d1ff 79.3px,#fefeff 85.0px,#ffffff 85.2px,#ffd2d2 91.0px,#ffbfbf 94.8px,#ffb9b9 98.3px,#ffbfbf 102.0px,#ffeeee 113.8px,#fffafa 120.0px,#ffffff 132.0px,#ffffff 169.8px)"></i><i style="top:196.00px;height:1.00px;background:linear-gradient(90deg,#ffffff 0.0px,#fdfdff 47.0px,#f4f4ff 54.5px,#e1e1ff 60.5px,#c1c1ff 68.5px,#bcbcff 72.3px,#c2c2ff 75.8px,#d5d5ff 79.5px,#ffffff 85.2px,#ffd4d4 91.0px,#ffc2c2 94.8px,#ffbcbc 98.3px,#ffc3c3 102.3px,#ffeeee 113.5px,#fffafa 119.8px,#ffffff 132.0px,#ffffff 169.8px)"></i><i style="top:197.00px;height:1.00px;background:linear-gradient(90deg,#ffffff 0.0px,#fdfdff 47.3px,#f4f4ff 54.8px,#e1e1ff 61.0px,#c4c4ff 68.8px,#bfbfff 72.5px,#c6c6ff 76.0px,#d9d9ff 80.0px,#ffffff 85.2px,#ffd5d5 91.0px,#ffc4c4 94.8px,#ffbfbf 98.3px,#ffc6c6 102.3px,#ffefef 113.5px,#fffbfb 120.0px,#ffffff 133.5px,#ffffff 169.8px)"></i><i style="top:198.00px;height:1.00px;background:linear-gradient(90deg,#ffffff 0.0px,#fdfdff 47.5px,#f4f4ff 55.0px,#e1e1ff 61.5px,#c6c6ff 69.0px,#c3c3ff 73.0px,#cbcbff 76.8px,#e1e1ff 81.0px,#ffffff 85.2px,#ffd7d7 91.0px,#ffc6c6 95.0px,#ffc2c2 98.8px,#ffcbcb 103.0px,#ffefef 113.3px,#fffbfb 120.0px,#ffffff 134.5px,#ffffff 169.8px)"></i><i style="top:199.00px;height:1.00px;background:linear-gradient(90deg,#ffffff 0.0px,#fdfdff 47.8px,#f4f4ff 55.5px,#e0e0ff 62.3px,#c9c9ff 69.3px,#c6c6ff 73.3px,#ceceff 77.0px,#e6e6ff 81.5px,#ffffff 85.2px,#ffd9d9 91.0px,#ffc9c9 95.0px,#ffc5c5 98.8px,#ffcece 103.3px,#fff0f0 113.3px,#fffbfb 120.3px,#ffffff 136.8px,#ffffff 169.8px)"></i><i style="top:200.00px;height:1.00px;background:linear-gradient(90deg,#ffffff 0.0px,#fdfdff 48.0px,#f4f4ff 55.8px,#dfdfff 63.0px,#cbcbff 69.5px,#c9c9ff 73.5px,#d1d1ff 77.3px,#e8e8ff 81.8px,#ffffff 85.2px,#ffd9d9 91.3px,#ffcbcb 95.3px,#ffc8c8 99.0px,#ffd3d3 103.8px,#fff2f2 113.5px,#fffcfc 120.8px,#ffffff 142.0px,#ffffff 169.8px)"></i><i style="top:201.00px;height:1.00px;background:linear-gradient(90deg,#ffffff 0.0px,#fdfdff 48.3px,#f4f4ff 56.0px,#dfdfff 63.5px,#cdcdff 70.0px,#ccccff 74.0px,#d6d6ff 78.0px,#f1f1ff 83.0px,#ffffff 85.2px,#ffdbdb 91.3px,#ffcdcd 95.3px,#ffcbcb 99.3px,#ffd7d7 104.5px,#fff3f3 113.5px,#fffcfc 121.0px,#ffffff 147.5px,#ffffff 169.8px)"></i><i style="top:202.00px;height:1.00px;background:linear-gradient(90deg,#ffffff 0.0px,#fdfdff 48.5px,#f4f4ff 56.5px,#dbdbff 65.3px,#cfcfff 70.8px,#cfcfff 74.8px,#dcdcff 79.0px,#ffffff 85.2px,#ffdddd 91.3px,#ffcfcf 95.5px,#ffcece 99.5px,#ffdcdc 105.3px,#fff4f4 113.8px,#fffdfd 121.8px,#ffffff 169.8px)"></i><i style="top:203.00px;height:1.00px;background:linear-gradient(90deg,#ffffff 0.0px,#fdfdff 48.8px,#f4f4ff 56.8px,#d2d2ff 70.3px,#d1d1ff 74.5px,#ddddff 78.8px,#fcfcff 84.8px,#ffffff 85.2px,#ffdede 91.3px,#ffd2d2 95.5px,#ffd1d1 99.8px,#ffe0e0 106.0px,#fff5f5 114.3px,#fffefe 123.0px,#ffffff 169.8px)"></i><i style="top:204.00px;height:1.00px;background:linear-gradient(90deg,#ffffff 0.0px,#fdfdff 49.0px,#f4f4ff 57.3px,#d4d4ff 70.3px,#d4d4ff 74.5px,#dfdfff 78.8px,#fefeff 85.0px,#ffffff 85.2px,#ffdfdf 91.5px,#ffd4d4 95.8px,#ffd5d5 100.3px,#fff6f6 114.5px,#fffefe 123.8px,#ffffff 169.8px)"></i><i style="top:205.00px;height:1.00px;background:linear-gradient(90deg,#ffffff 0.0px,#fdfdff 49.3px,#f4f4ff 57.8px,#d7d7ff 70.3px,#d6d6ff 74.8px,#e2e2ff 79.3px,#ffffff 85.2px,#ffe1e1 91.5px,#ffd6d6 96.0px,#ffd7d7 100.5px,#fff7f7 114.5px,#fffefe 124.0px,#ffffff 169.8px)"></i><i style="top:206.00px;height:1.00px;background:linear-gradient(90deg,#ffffff 0.0px,#fdfdff 49.8px,#f4f4ff 58.3px,#d9d9ff 70.5px,#d9d9ff 75.0px,#e5e5ff 79.5px,#ffffff 85.2px,#ffe2e2 91.5px,#ffd8d8 96.0px,#ffdada 100.8px,#fff7f7 114.5px,#fffefe 124.5px,#ffffff 169.8px)"></i><i style="top:207.00px;height:1.00px;background:linear-gradient(90deg,#ffffff 0.0px,#fdfdff 50.0px,#f3f3ff 58.8px,#dbdbff 70.5px,#dbdbff 75.3px,#e8e8ff 80.0px,#ffffff 85.2px,#ffe3e3 91.8px,#ffdada 96.3px,#ffdddd 101.3px,#fff8f8 114.3px,#fffefe 124.5px,#ffffff 169.8px)"></i><i style="top:208.00px;height:1.00px;background:linear-gradient(90deg,#ffffff 0.0px,#fdfdff 50.3px,#f3f3ff 59.3px,#ddddff 70.8px,#dedeff 75.5px,#ebebff 80.5px,#ffffff 85.2px,#ffe4e4 91.8px,#ffdcdc 96.5px,#ffe0e0 101.8px,#fff8f8 114.3px,#fffefe 125.3px,#ffffff 169.8px)"></i><i style="top:209.00px;height:1.00px;background:linear-gradient(90deg,#ffffff 0.0px,#fdfdff 50.5px,#f4f4ff 59.5px,#dfdfff 71.0px,#e0e0ff 76.0px,#efefff 81.3px,#ffffff 85.2px,#ffe5e5 92.0px,#ffdede 96.8px,#ffe3e3 102.3px,#fff9f9 114.5px,#ffffff 126.3px,#ffffff 169.8px)"></i><i style="top:210.00px;height:1.00px;background:linear-gradient(90deg,#ffffff 0.0px,#fdfdff 50.8px,#f4f4ff 60.0px,#e1e1ff 71.0px,#e2e2ff 76.0px,#f0f0ff 81.5px,#ffffff 85.2px,#ffe7e7 92.0px,#ffe0e0 97.0px,#ffe6e6 103.0px,#fff9f9 114.5px,#ffffff 127.0px,#ffffff 169.8px)"></i><i style="top:211.00px;height:1.00px;background:linear-gradient(90deg,#ffffff 0.0px,#fdfdff 51.3px,#f3f3ff 60.8px,#e2e2ff 71.3px,#e5e5ff 76.5px,#f4f4ff 82.3px,#ffffff 85.2px,#ffe8e8 92.3px,#ffe2e2 97.3px,#ffe9e9 103.8px,#fffafa 115.0px,#ffffff 129.0px,#ffffff 169.8px)"></i><i style="top:212.00px;height:1.00px;background:linear-gradient(90deg,#ffffff 0.0px,#fdfdff 51.5px,#f3f3ff 61.3px,#e4e4ff 71.5px,#e6e6ff 76.8px,#f6f6ff 82.8px,#ffffff 85.2px,#ffe9e9 92.3px,#ffe4e4 97.5px,#ffebeb 104.5px,#fffbfb 115.5px,#ffffff 131.8px,#ffffff 169.8px)"></i><i style="top:213.00px;height:1.00px;background:linear-gradient(90deg,#ffffff 0.0px,#fdfdff 51.8px,#f3f3ff 62.0px,#e6e6ff 71.8px,#e9e9ff 77.3px,#fafaff 83.8px,#ffffff 85.2px,#ffeaea 92.5px,#ffe5e5 98.0px,#fff0f0 106.5px,#fffcfc 116.8px,#ffffff 140.3px,#ffffff 169.8px)"></i><i style="top:214.00px;height:1.00px;background:linear-gradient(90deg,#ffffff 0.0px,#fdfdff 52.3px,#f3f3ff 62.8px,#e7e7ff 72.3px,#ebebff 78.0px,#ffffff 85.2px,#ffebeb 92.5px,#ffe7e7 98.3px,#fff5f5 109.0px,#fffefe 119.8px,#ffffff 169.8px)"></i><i style="top:215.00px;height:1.00px;background:linear-gradient(90deg,#ffffff 0.0px,#fdfdff 52.5px,#f2f2ff 63.5px,#e9e9ff 72.5px,#ededff 78.3px,#ffffff 85.2px,#ffecec 92.8px,#ffe9e9 98.5px,#fffcfc 116.8px,#ffffff 147.3px,#ffffff 169.8px)"></i><i style="top:216.00px;height:1.00px;background:linear-gradient(90deg,#ffffff 0.0px,#fdfdff 52.8px,#f2f2ff 64.3px,#eaeaff 73.0px,#f0f0ff 79.0px,#ffffff 85.2px,#ffeded 92.8px,#ffeaea 98.8px,#fffdfd 116.8px,#ffffff 153.0px,#ffffff 169.8px)"></i><i style="top:217.00px;height:1.00px;background:linear-gradient(90deg,#ffffff 0.0px,#fdfdff 53.3px,#f1f1ff 65.8px,#ececff 73.8px,#f2f2ff 80.0px,#ffffff 85.2px,#ffeeee 93.0px,#ffecec 99.3px,#fffdfd 116.8px,#ffffff 161.0px,#ffffff 169.8px)"></i><i style="top:218.00px;height:1.00px;background:linear-gradient(90deg,#ffffff 0.0px,#fdfdff 53.5px,#f0f0ff 67.5px,#ededff 75.0px,#f7f7ff 81.8px,#ffffff 85.2px,#ffefef 93.3px,#ffeeee 100.0px,#fffdfd 116.8px,#ffffff 169.8px)"></i><i style="top:219.00px;height:1.00px;background:linear-gradient(90deg,#ffffff 0.0px,#fdfdff 54.0px,#eeeeff 73.5px,#f4f4ff 80.3px,#ffffff 85.2px,#fff0f0 93.5px,#ffefef 100.5px,#fffdfd 117.0px,#ffffff 169.8px)"></i><i style="top:220.00px;height:1.00px;background:linear-gradient(90deg,#ffffff 0.0px,#fdfdff 54.3px,#efefff 73.5px,#f6f6ff 80.5px,#ffffff 85.2px,#fff1f1 93.5px,#fff1f1 100.8px,#fffdfd 117.5px,#ffffff 169.8px)"></i><i style="top:221.00px;height:1.00px;background:linear-gradient(90deg,#ffffff 0.0px,#fdfdff 54.8px,#f0f0ff 73.8px,#f7f7ff 81.0px,#ffffff 85.2px,#fff2f2 93.8px,#fff2f2 101.5px,#fffefe 117.8px,#ffffff 169.8px)"></i><i style="top:222.00px;height:1.00px;background:linear-gradient(90deg,#ffffff 0.0px,#fdfdff 55.3px,#f1f1ff 74.0px,#f8f8ff 81.5px,#ffffff 85.2px,#fff2f2 94.0px,#fff4f4 102.3px,#fffefe 118.3px,#ffffff 169.8px)"></i><i style="top:223.00px;height:1.00px;background:linear-gradient(90deg,#ffffff 0.0px,#fdfdff 55.5px,#f2f2ff 74.3px,#fafaff 82.3px,#ffffff 85.2px,#fff3f3 94.3px,#fff5f5 103.3px,#fffefe 119.3px,#ffffff 169.8px)"></i><i style="top:224.00px;height:1.00px;background:linear-gradient(90deg,#ffffff 0.0px,#fdfdff 56.0px,#f3f3ff 74.3px,#fbfbff 82.5px,#ffffff 85.2px,#fff4f4 94.5px,#fff7f7 104.3px,#fffefe 120.5px,#ffffff 169.8px)"></i><i style="top:225.00px;height:1.00px;background:linear-gradient(90deg,#ffffff 0.0px,#fdfdff 56.5px,#f4f4ff 74.5px,#fdfdff 83.5px,#ffffff 85.2px,#fff5f5 94.8px,#fff8f8 105.5px,#ffffff 122.3px,#ffffff 169.8px)"></i><i style="top:226.00px;height:1.00px;background:linear-gradient(90deg,#ffffff 0.0px,#fdfdff 57.0px,#f5f5ff 74.8px,#fefeff 84.3px,#ffffff 85.2px,#fff5f5 95.0px,#fffafa 107.5px,#ffffff 126.3px,#ffffff 169.8px)"></i><i style="top:227.00px;height:1.00px;background:linear-gradient(90deg,#ffffff 0.0px,#fdfdff 57.5px,#f6f6ff 75.0px,#ffffff 85.2px,#fff6f6 95.3px,#ffffff 123.8px,#ffffff 169.8px)"></i><i style="top:228.00px;height:1.00px;background:linear-gradient(90deg,#ffffff 0.0px,#fdfdff 58.0px,#f7f7ff 75.5px,#ffffff 85.2px,#fff7f7 95.8px,#ffffff 124.0px,#ffffff 169.8px)"></i></div>
<svg width="600" height="292" viewBox="0 0 600 292"><defs><linearGradient id="cb" x1="0" y1="0" x2="0" y2="1"><stop offset="0" stop-color="#f00"/><stop offset="0.5" stop-color="#fff"/><stop offset="1" stop-color="#00f"/></linearGradient></defs><line x1="43.00" y1="22.00" x2="43.00" y2="254.00" stroke="#000" stroke-width="1.10"/><line x1="42.50" y1="253.50" x2="214.95" y2="253.50" stroke="#000" stroke-width="1.10"/><line x1="44.00" y1="21.00" x2="214.45" y2="21.00" stroke="#222" stroke-width="1.25"/><line x1="43.00" y1="22.40" x2="44.40" y2="21.00" stroke="#222" stroke-width="0.90"/><line x1="214.45" y1="20.50" x2="214.45" y2="254.00" stroke="#000" stroke-width="1.10"/><line x1="37.00" y1="252.00" x2="43.00" y2="252.00" stroke="#000" stroke-width="1.00"/><line x1="214.45" y1="252.00" x2="220.45" y2="252.00" stroke="#000" stroke-width="1.00"/><line x1="37.00" y1="223.29" x2="43.00" y2="223.29" stroke="#000" stroke-width="1.00"/><line x1="214.45" y1="223.29" x2="220.45" y2="223.29" stroke="#000" stroke-width="1.00"/><line x1="37.00" y1="194.57" x2="43.00" y2="194.57" stroke="#000" stroke-width="1.00"/><line x1="214.45" y1="194.57" x2="220.45" y2="194.57" stroke="#000" stroke-width="1.00"/><line x1="37.00" y1="165.86" x2="43.00" y2="165.86" stroke="#000" stroke-width="1.00"/><line x1="214.45" y1="165.86" x2="220.45" y2="165.86" stroke="#000" stroke-width="1.00"/><line x1="37.00" y1="137.15" x2="43.00" y2="137.15" stroke="#000" stroke-width="1.00"/><line x1="214.45" y1="137.15" x2="220.45" y2="137.15" stroke="#000" stroke-width="1.00"/><line x1="37.00" y1="108.44" x2="43.00" y2="108.44" stroke="#000" stroke-width="1.00"/><line x1="214.45" y1="108.44" x2="220.45" y2="108.44" stroke="#000" stroke-width="1.00"/><line x1="37.00" y1="79.73" x2="43.00" y2="79.73" stroke="#000" stroke-width="1.00"/><line x1="214.45" y1="79.73" x2="220.45" y2="79.73" stroke="#000" stroke-width="1.00"/><line x1="37.00" y1="51.01" x2="43.00" y2="51.01" stroke="#000" stroke-width="1.00"/><line x1="214.45" y1="51.01" x2="220.45" y2="51.01" stroke="#000" stroke-width="1.00"/><line x1="37.00" y1="22.30" x2="43.00" y2="22.30" stroke="#000" stroke-width="1.00"/><line x1="214.45" y1="22.30" x2="220.45" y2="22.30" stroke="#000" stroke-width="1.00"/><line x1="43.90" y1="253.50" x2="43.90" y2="256.50" stroke="#000" stroke-width="1.00"/><line x1="43.90" y1="21.00" x2="43.90" y2="18.00" stroke="#000" stroke-width="1.00"/><line x1="72.20" y1="253.50" x2="72.20" y2="259.50" stroke="#000" stroke-width="1.00"/><line x1="72.20" y1="21.00" x2="72.20" y2="15.00" stroke="#000" stroke-width="1.00"/><line x1="100.50" y1="253.50" x2="100.50" y2="256.50" stroke="#000" stroke-width="1.00"/><line x1="100.50" y1="21.00" x2="100.50" y2="18.00" stroke="#000" stroke-width="1.00"/><line x1="128.80" y1="253.50" x2="128.80" y2="259.50" stroke="#000" stroke-width="1.00"/><line x1="128.80" y1="21.00" x2="128.80" y2="15.00" stroke="#000" stroke-width="1.00"/><line x1="157.10" y1="253.50" x2="157.10" y2="256.50" stroke="#000" stroke-width="1.00"/><line x1="157.10" y1="21.00" x2="157.10" y2="18.00" stroke="#000" stroke-width="1.00"/><line x1="185.40" y1="253.50" x2="185.40" y2="259.50" stroke="#000" stroke-width="1.00"/><line x1="185.40" y1="21.00" x2="185.40" y2="15.00" stroke="#000" stroke-width="1.00"/><line x1="213.70" y1="253.50" x2="213.70" y2="256.50" stroke="#000" stroke-width="1.00"/><line x1="213.70" y1="21.00" x2="213.70" y2="18.00" stroke="#000" stroke-width="1.00"/><line x1="350.00" y1="22.00" x2="350.00" y2="254.00" stroke="#000" stroke-width="1.10"/><line x1="349.50" y1="253.50" x2="521.95" y2="253.50" stroke="#000" stroke-width="1.10"/><line x1="351.00" y1="21.00" x2="521.45" y2="21.00" stroke="#222" stroke-width="1.25"/><line x1="350.00" y1="22.40" x2="351.40" y2="21.00" stroke="#222" stroke-width="0.90"/><line x1="521.45" y1="20.50" x2="521.45" y2="254.00" stroke="#000" stroke-width="1.10"/><line x1="344.00" y1="252.00" x2="350.00" y2="252.00" stroke="#000" stroke-width="1.00"/><line x1="521.45" y1="252.00" x2="527.45" y2="252.00" stroke="#000" stroke-width="1.00"/><line x1="344.00" y1="223.29" x2="350.00" y2="223.29" stroke="#000" stroke-width="1.00"/><line x1="521.45" y1="223.29" x2="527.45" y2="223.29" stroke="#000" stroke-width="1.00"/><line x1="344.00" y1="194.57" x2="350.00" y2="194.57" stroke="#000" stroke-width="1.00"/><line x1="521.45" y1="194.57" x2="527.45" y2="194.57" stroke="#000" stroke-width="1.00"/><line x1="344.00" y1="165.86" x2="350.00" y2="165.86" stroke="#000" stroke-width="1.00"/><line x1="521.45" y1="165.86" x2="527.45" y2="165.86" stroke="#000" stroke-width="1.00"/><line x1="344.00" y1="137.15" x2="350.00" y2="137.15" stroke="#000" stroke-width="1.00"/><line x1="521.45" y1="137.15" x2="527.45" y2="137.15" stroke="#000" stroke-width="1.00"/><line x1="344.00" y1="108.44" x2="350.00" y2="108.44" stroke="#000" stroke-width="1.00"/><line x1="521.45" y1="108.44" x2="527.45" y2="108.44" stroke="#000" stroke-width="1.00"/><line x1="344.00" y1="79.73" x2="350.00" y2="79.73" stroke="#000" stroke-width="1.00"/><line x1="521.45" y1="79.73" x2="527.45" y2="79.73" stroke="#000" stroke-width="1.00"/><line x1="344.00" y1="51.01" x2="350.00" y2="51.01" stroke="#000" stroke-width="1.00"/><line x1="521.45" y1="51.01" x2="527.45" y2="51.01" stroke="#000" stroke-width="1.00"/><line x1="344.00" y1="22.30" x2="350.00" y2="22.30" stroke="#000" stroke-width="1.00"/><line x1="521.45" y1="22.30" x2="527.45" y2="22.30" stroke="#000" stroke-width="1.00"/><line x1="350.90" y1="253.50" x2="350.90" y2="256.50" stroke="#000" stroke-width="1.00"/><line x1="350.90" y1="21.00" x2="350.90" y2="18.00" stroke="#000" stroke-width="1.00"/><line x1="379.20" y1="253.50" x2="379.20" y2="259.50" stroke="#000" stroke-width="1.00"/><line x1="379.20" y1="21.00" x2="379.20" y2="15.00" stroke="#000" stroke-width="1.00"/><line x1="407.50" y1="253.50" x2="407.50" y2="256.50" stroke="#000" stroke-width="1.00"/><line x1="407.50" y1="21.00" x2="407.50" y2="18.00" stroke="#000" stroke-width="1.00"/><line x1="435.80" y1="253.50" x2="435.80" y2="259.50" stroke="#000" stroke-width="1.00"/><line x1="435.80" y1="21.00" x2="435.80" y2="15.00" stroke="#000" stroke-width="1.00"/><line x1="464.10" y1="253.50" x2="464.10" y2="256.50" stroke="#000" stroke-width="1.00"/><line x1="464.10" y1="21.00" x2="464.10" y2="18.00" stroke="#000" stroke-width="1.00"/><line x1="492.40" y1="253.50" x2="492.40" y2="259.50" stroke="#000" stroke-width="1.00"/><line x1="492.40" y1="21.00" x2="492.40" y2="15.00" stroke="#000" stroke-width="1.00"/><line x1="520.70" y1="253.50" x2="520.70" y2="256.50" stroke="#000" stroke-width="1.00"/><line x1="520.70" y1="21.00" x2="520.70" y2="18.00" stroke="#000" stroke-width="1.00"/><text transform="translate(34.30,255.50) scale(1.030,1)" text-anchor="end" style="font-size:10.00px" class="tk"><tspan dy="-0.8">-</tspan><tspan dy="0.8">800</tspan></text><text transform="translate(34.30,226.79) scale(1.030,1)" text-anchor="end" style="font-size:10.00px" class="tk"><tspan dy="-0.8">-</tspan><tspan dy="0.8">600</tspan></text><text transform="translate(34.30,198.07) scale(1.030,1)" text-anchor="end" style="font-size:10.00px" class="tk"><tspan dy="-0.8">-</tspan><tspan dy="0.8">400</tspan></text><text transform="translate(34.30,169.36) scale(1.030,1)" text-anchor="end" style="font-size:10.00px" class="tk"><tspan dy="-0.8">-</tspan><tspan dy="0.8">200</tspan></text><text transform="translate(34.30,140.65) scale(1.030,1)" text-anchor="end" style="font-size:10.00px" class="tk">0</text><text transform="translate(34.30,111.94) scale(1.030,1)" text-anchor="end" style="font-size:10.00px" class="tk">200</text><text transform="translate(34.30,83.23) scale(1.030,1)" text-anchor="end" style="font-size:10.00px" class="tk">400</text><text transform="translate(34.30,54.51) scale(1.030,1)" text-anchor="end" style="font-size:10.00px" class="tk">600</text><text transform="translate(34.30,25.80) scale(1.030,1)" text-anchor="end" style="font-size:10.00px" class="tk">800</text><text transform="translate(72.45,271.90) scale(1.160,1)" text-anchor="middle" style="font-size:8.90px" class="tk"><tspan dy="-0.6">-</tspan><tspan dy="0.6">40</tspan></text><text transform="translate(129.05,271.90) scale(1.160,1)" text-anchor="middle" style="font-size:8.90px" class="tk">0</text><text transform="translate(185.65,271.90) scale(1.160,1)" text-anchor="middle" style="font-size:8.90px" class="tk">40</text><text transform="translate(128.50,289.60) scale(1.150,1)" text-anchor="middle" style="font-size:8.70px" class="al">x-x<tspan font-size="6" dy="2.3">1</tspan><tspan dy="-2.3"> (pc)</tspan></text><text transform="translate(7.70,137.00) rotate(-90) scale(1.150,1)" text-anchor="middle" style="font-size:8.70px" class="al">z-z<tspan font-size="6" dy="1.4">1</tspan><tspan dy="-1.4"> (pc)</tspan></text><text x="32.60" y="10.7" class="ti"><tspan font-size="9.00" class="kp">&#954;</tspan><tspan font-style="italic" font-size="5.60" dy="2.00">par</tspan><tspan dy="-2.00"> </tspan><tspan font-size="9.60" dy="0.3">=</tspan><tspan dy="-0.3"></tspan> 1E+28 cm<tspan font-size="5.60" dy="-3.9">2</tspan><tspan dy="3.9">/s, </tspan><tspan font-size="9.00" class="kp">&#954;</tspan><tspan font-style="italic" font-size="5.60" dy="2.00">per</tspan><tspan dy="-2.00">/</tspan><tspan font-size="9.00" class="kp">&#954;</tspan><tspan font-style="italic" font-size="5.60" dy="2.00">par</tspan><tspan dy="-2.00"> </tspan><tspan font-size="9.60" dy="0.3">=</tspan><tspan dy="-0.3"></tspan> 0.001, t-t<tspan font-size="5.60" dy="2.00">1</tspan><tspan dy="-2.00"> </tspan><tspan font-size="9.60" dy="0.3">=</tspan><tspan dy="-0.3"></tspan> 1E+6 years</text><text transform="translate(341.30,255.50) scale(1.030,1)" text-anchor="end" style="font-size:10.00px" class="tk"><tspan dy="-0.8">-</tspan><tspan dy="0.8">800</tspan></text><text transform="translate(341.30,226.79) scale(1.030,1)" text-anchor="end" style="font-size:10.00px" class="tk"><tspan dy="-0.8">-</tspan><tspan dy="0.8">600</tspan></text><text transform="translate(341.30,198.07) scale(1.030,1)" text-anchor="end" style="font-size:10.00px" class="tk"><tspan dy="-0.8">-</tspan><tspan dy="0.8">400</tspan></text><text transform="translate(341.30,169.36) scale(1.030,1)" text-anchor="end" style="font-size:10.00px" class="tk"><tspan dy="-0.8">-</tspan><tspan dy="0.8">200</tspan></text><text transform="translate(341.30,140.65) scale(1.030,1)" text-anchor="end" style="font-size:10.00px" class="tk">0</text><text transform="translate(341.30,111.94) scale(1.030,1)" text-anchor="end" style="font-size:10.00px" class="tk">200</text><text transform="translate(341.30,83.23) scale(1.030,1)" text-anchor="end" style="font-size:10.00px" class="tk">400</text><text transform="translate(341.30,54.51) scale(1.030,1)" text-anchor="end" style="font-size:10.00px" class="tk">600</text><text transform="translate(341.30,25.80) scale(1.030,1)" text-anchor="end" style="font-size:10.00px" class="tk">800</text><text transform="translate(379.45,271.90) scale(1.160,1)" text-anchor="middle" style="font-size:8.90px" class="tk"><tspan dy="-0.6">-</tspan><tspan dy="0.6">40</tspan></text><text transform="translate(436.05,271.90) scale(1.160,1)" text-anchor="middle" style="font-size:8.90px" class="tk">0</text><text transform="translate(492.65,271.90) scale(1.160,1)" text-anchor="middle" style="font-size:8.90px" class="tk">40</text><text transform="translate(435.50,289.60) scale(1.150,1)" text-anchor="middle" style="font-size:8.70px" class="al">x-x<tspan font-size="6" dy="2.3">1</tspan><tspan dy="-2.3"> (pc)</tspan></text><text transform="translate(314.70,137.00) rotate(-90) scale(1.150,1)" text-anchor="middle" style="font-size:8.70px" class="al">z-z<tspan font-size="6" dy="1.4">1</tspan><tspan dy="-1.4"> (pc)</tspan></text><text x="339.60" y="10.7" class="ti"><tspan font-size="9.00" class="kp">&#954;</tspan><tspan font-style="italic" font-size="5.60" dy="2.00">par</tspan><tspan dy="-2.00"> </tspan><tspan font-size="9.60" dy="0.3">=</tspan><tspan dy="-0.3"></tspan> 1E+28 cm<tspan font-size="5.60" dy="-3.9">2</tspan><tspan dy="3.9">/s, </tspan><tspan font-size="9.00" class="kp">&#954;</tspan><tspan font-style="italic" font-size="5.60" dy="2.00">per</tspan><tspan dy="-2.00">/</tspan><tspan font-size="9.00" class="kp">&#954;</tspan><tspan font-style="italic" font-size="5.60" dy="2.00">par</tspan><tspan dy="-2.00"> </tspan><tspan font-size="9.60" dy="0.3">=</tspan><tspan dy="-0.3"></tspan> 0.001, t-t<tspan font-size="5.60" dy="2.00">1</tspan><tspan dy="-2.00"> </tspan><tspan font-size="9.60" dy="0.3">=</tspan><tspan dy="-0.3"></tspan> 1E+6 years</text><rect x="267.60" y="38.00" width="15.80" height="183.20" fill="url(#cb)"/><rect x="266.50" y="36.50" width="18.00" height="186.00" fill="none" stroke="#1a1a1a" stroke-width="1.05"/><line x1="260.90" y1="58.40" x2="266.50" y2="58.40" stroke="#000" stroke-width="1.00"/><line x1="284.50" y1="58.40" x2="290.10" y2="58.40" stroke="#000" stroke-width="1.00"/><text x="259.50" y="61.50" text-anchor="end" class="ct">1.0</text><line x1="260.90" y1="94.00" x2="266.50" y2="94.00" stroke="#000" stroke-width="1.00"/><line x1="284.50" y1="94.00" x2="290.10" y2="94.00" stroke="#000" stroke-width="1.00"/><text x="259.50" y="97.10" text-anchor="end" class="ct">0.5</text><line x1="260.90" y1="129.30" x2="266.50" y2="129.30" stroke="#000" stroke-width="1.00"/><line x1="284.50" y1="129.30" x2="290.10" y2="129.30" stroke="#000" stroke-width="1.00"/><text x="259.50" y="132.40" text-anchor="end" class="ct">0.0</text><line x1="260.90" y1="164.60" x2="266.50" y2="164.60" stroke="#000" stroke-width="1.00"/><line x1="284.50" y1="164.60" x2="290.10" y2="164.60" stroke="#000" stroke-width="1.00"/><text x="259.50" y="167.70" text-anchor="end" class="ct">-0.5</text><line x1="260.90" y1="200.20" x2="266.50" y2="200.20" stroke="#000" stroke-width="1.00"/><line x1="284.50" y1="200.20" x2="290.10" y2="200.20" stroke="#000" stroke-width="1.00"/><text x="258.60" y="205.00" text-anchor="end" class="ct">-1.0x10<tspan font-size="5.8" dy="-4.3" dx="0.8">-3</tspan></text><text transform="translate(239.60,128.90) rotate(-90) scale(1.134,1)" text-anchor="middle" class="cl">Parallel anisotropy</text><rect x="576.30" y="44.60" width="16.00" height="183.60" fill="url(#cb)"/><rect x="575.30" y="43.20" width="18.00" height="186.10" fill="none" stroke="#333" stroke-width="1.05"/><line x1="569.70" y1="48.60" x2="575.30" y2="48.60" stroke="#000" stroke-width="1.00"/><line x1="593.30" y1="48.60" x2="598.90" y2="48.60" stroke="#000" stroke-width="1.00"/><text x="567.30" y="51.70" text-anchor="end" class="ct">40</text><line x1="569.70" y1="92.50" x2="575.30" y2="92.50" stroke="#000" stroke-width="1.00"/><line x1="593.30" y1="92.50" x2="598.90" y2="92.50" stroke="#000" stroke-width="1.00"/><text x="567.30" y="95.60" text-anchor="end" class="ct">20</text><line x1="569.70" y1="136.50" x2="575.30" y2="136.50" stroke="#000" stroke-width="1.00"/><line x1="593.30" y1="136.50" x2="598.90" y2="136.50" stroke="#000" stroke-width="1.00"/><text x="567.30" y="139.60" text-anchor="end" class="ct">0</text><line x1="569.70" y1="180.60" x2="575.30" y2="180.60" stroke="#000" stroke-width="1.00"/><line x1="593.30" y1="180.60" x2="598.90" y2="180.60" stroke="#000" stroke-width="1.00"/><text x="567.30" y="183.70" text-anchor="end" class="ct">-20</text><line x1="569.70" y1="224.00" x2="575.30" y2="224.00" stroke="#000" stroke-width="1.00"/><line x1="593.30" y1="224.00" x2="598.90" y2="224.00" stroke="#000" stroke-width="1.00"/><text x="566.40" y="228.80" text-anchor="end" class="ct">-40x10<tspan font-size="5.8" dy="-4.3" dx="0.8">-6</tspan></text><text transform="translate(545.70,137.30) rotate(-90) scale(1.100,1)" text-anchor="middle" class="cl">Perpendicular anisotropy</text></svg>
</body></html>
